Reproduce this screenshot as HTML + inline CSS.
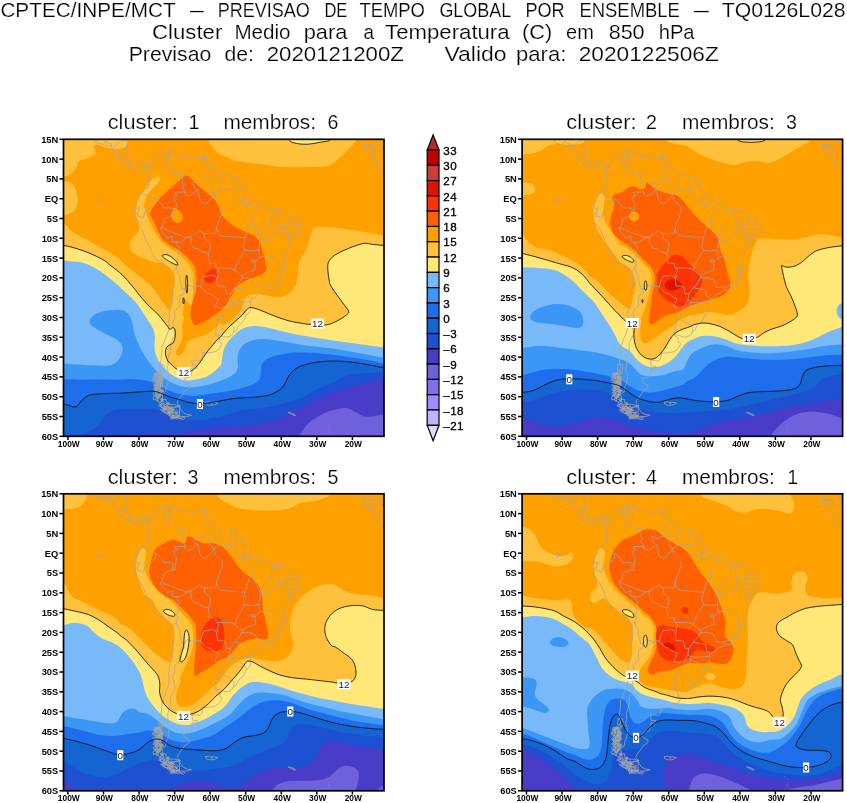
<!DOCTYPE html>
<html><head><meta charset="utf-8"><title>CPTEC ensemble clusters</title>
<style>
html,body{margin:0;padding:0;background:#fff;}
body{width:847px;height:803px;overflow:hidden;position:relative;font-family:"Liberation Sans",sans-serif;}
svg{position:absolute;left:0;top:0;opacity:0.999;will-change:transform;}
text{font-family:"Liberation Sans",sans-serif;}
.ax{font-size:9.3px;font-weight:bold;fill:#000;}
.axx{font-size:8.4px;}
.hd{font-size:20.2px;fill:#000;stroke:#fff;stroke-width:0.2px;}
.pt{font-size:19.6px;}
.cb{font-size:11.6px;fill:#000;stroke:#000;stroke-width:0.32px;letter-spacing:0.5px;}
</style></head><body>
<svg width="847" height="803" viewBox="0 0 847 803">
<rect width="847" height="803" fill="#fff"/>
<text class="hd" x="0.4" y="17.4" textLength="175.2" lengthAdjust="spacingAndGlyphs">CPTEC/INPE/MCT</text>
<text class="hd" x="190.1" y="17.4" textLength="13.8" lengthAdjust="spacingAndGlyphs">–</text>
<text class="hd" x="217.7" y="17.4" textLength="92.2" lengthAdjust="spacingAndGlyphs">PREVISAO</text>
<text class="hd" x="324.4" y="17.4" textLength="22.9" lengthAdjust="spacingAndGlyphs">DE</text>
<text class="hd" x="359.4" y="17.4" textLength="65.5" lengthAdjust="spacingAndGlyphs">TEMPO</text>
<text class="hd" x="439.4" y="17.4" textLength="71.9" lengthAdjust="spacingAndGlyphs">GLOBAL</text>
<text class="hd" x="525.4" y="17.4" textLength="39.2" lengthAdjust="spacingAndGlyphs">POR</text>
<text class="hd" x="579.4" y="17.4" textLength="100.5" lengthAdjust="spacingAndGlyphs">ENSEMBLE</text>
<text class="hd" x="693.7" y="17.4" textLength="15.2" lengthAdjust="spacingAndGlyphs">–</text>
<text class="hd" x="721.7" y="17.4" textLength="123.9" lengthAdjust="spacingAndGlyphs">TQ0126L028</text>
<text class="hd" x="152.1" y="39.4" textLength="70.2" lengthAdjust="spacingAndGlyphs">Cluster</text>
<text class="hd" x="234.4" y="39.4" textLength="56.2" lengthAdjust="spacingAndGlyphs">Medio</text>
<text class="hd" x="303.7" y="39.4" textLength="43.6" lengthAdjust="spacingAndGlyphs">para</text>
<text class="hd" x="363.4" y="39.4" textLength="10.5" lengthAdjust="spacingAndGlyphs">a</text>
<text class="hd" x="385.1" y="39.4" textLength="124.5" lengthAdjust="spacingAndGlyphs">Temperatura</text>
<text class="hd" x="522.1" y="39.4" textLength="30.2" lengthAdjust="spacingAndGlyphs">(C)</text>
<text class="hd" x="566.1" y="39.4" textLength="27.8" lengthAdjust="spacingAndGlyphs">em</text>
<text class="hd" x="608.7" y="39.4" textLength="35.9" lengthAdjust="spacingAndGlyphs">850</text>
<text class="hd" x="658.7" y="39.4" textLength="35.9" lengthAdjust="spacingAndGlyphs">hPa</text>
<text class="hd" x="128.7" y="61.1" textLength="82.6" lengthAdjust="spacingAndGlyphs">Previsao</text>
<text class="hd" x="224.4" y="61.1" textLength="29.5" lengthAdjust="spacingAndGlyphs">de:</text>
<text class="hd" x="266.7" y="61.1" textLength="137.2" lengthAdjust="spacingAndGlyphs">2020121200Z</text>
<text class="hd" x="444.4" y="61.1" textLength="62.2" lengthAdjust="spacingAndGlyphs">Valido</text>
<text class="hd" x="516.1" y="61.1" textLength="50.2" lengthAdjust="spacingAndGlyphs">para:</text>
<text class="hd" x="578.7" y="61.1" textLength="140.2" lengthAdjust="spacingAndGlyphs">2020122506Z</text>
<clipPath id="c1"><rect x="63.5" y="139.3" width="320.5" height="297.0"/></clipPath>
<g clip-path="url(#c1)"><g transform="translate(0.0 0.0)">
<path fill="#483cc8" d="M50 130H400V450H50Z"/>
<path fill="#7060dc" d="M297.3 439.5C298.8 437.2 303.1 429.2 306.3 425.5C309.5 421.8 312.7 419.8 316.3 417.5C320.0 415.1 324.4 413.0 328.4 411.4C332.4 409.9 337.1 408.9 340.4 408.4C343.8 407.9 345.8 407.8 348.5 408.4C351.1 409.1 353.8 411.1 356.5 412.4C359.2 413.8 361.8 415.8 364.5 416.5C367.2 417.1 369.5 416.8 372.5 416.5C375.6 416.1 379.6 415.0 383.0 414.5C386.3 414.0 391.0 413.6 392.6 413.5L410.0 460.0L295.0 460.0Z"/>
<path fill="#1e50d2" d="M126.0 440.0C126.5 439.3 127.2 436.9 129.0 436.0C130.8 435.1 134.3 435.0 137.0 434.6C139.7 434.2 139.2 434.0 145.0 433.8C150.8 433.6 164.5 433.8 172.0 433.5C179.5 433.2 183.7 432.8 190.0 432.0C196.3 431.2 203.3 429.9 210.0 429.0C216.7 428.1 225.0 426.9 230.0 426.5C235.0 426.1 235.0 427.0 240.1 426.5C245.1 426.0 253.5 424.8 260.1 423.5C266.8 422.2 275.2 420.1 280.2 418.5C285.2 416.8 286.2 415.6 290.2 413.5C294.3 411.3 299.3 408.1 304.3 405.4C309.3 402.7 314.3 400.1 320.4 397.4C326.4 394.7 333.7 391.5 340.4 389.4C347.1 387.2 353.4 386.0 360.5 384.4C367.6 382.7 377.3 380.4 383.0 379.3C388.7 378.2 392.7 378.0 394.6 377.7L410.0 378.0L410.0 115.0L40.0 115.0L40.0 460.0L126.0 460.0Z"/>
<path fill="#1464d2" d="M75.0 441.0C75.5 440.0 75.8 436.6 78.0 435.1C80.2 433.6 85.2 433.3 88.1 432.1C90.9 430.9 93.1 429.6 95.1 428.1C97.1 426.6 98.6 424.9 100.1 423.1C101.6 421.3 102.7 418.9 104.2 417.1C105.7 415.4 107.2 413.8 109.2 412.6C111.2 411.4 113.5 410.7 116.2 410.1C118.9 409.5 120.4 409.2 125.2 409.0C130.0 408.8 140.2 408.8 145.0 408.8C149.8 408.8 150.4 408.4 154.3 409.1C158.2 409.8 164.1 411.6 168.4 413.1C172.8 414.6 175.7 417.0 180.4 418.2C185.1 419.4 191.2 420.2 196.5 420.2C201.8 420.2 206.9 419.2 212.5 418.2C218.1 417.2 225.4 415.4 230.0 414.1C234.6 412.8 235.1 411.4 240.1 410.5C245.1 409.6 254.1 409.2 260.1 408.4C266.1 407.5 271.2 406.6 276.2 405.4C281.2 404.2 285.6 402.9 290.3 401.4C295.0 399.9 299.3 398.7 304.3 396.4C309.3 394.1 315.4 389.7 320.4 387.4C325.4 385.1 330.4 384.2 334.4 382.4C338.4 380.6 340.0 378.0 344.4 376.5C348.8 375.0 354.1 374.3 360.5 373.6C366.9 372.9 377.2 372.6 383.0 372.3C388.8 372.0 393.0 372.1 395.0 372.0L410.0 369.0L410.0 115.0L40.0 115.0L40.0 460.0L75.0 460.0Z"/>
<path fill="#1e6eeb" d="M55.0 402.5C56.5 402.8 61.7 403.5 64.0 404.0C66.3 404.5 67.3 405.0 69.0 405.5C70.7 406.0 72.6 407.0 74.0 407.0C75.4 407.0 76.4 406.5 77.6 405.5C78.8 404.5 79.8 402.3 81.1 401.0C82.3 399.7 83.6 398.5 85.1 397.5C86.6 396.5 87.6 395.6 90.1 395.0C92.6 394.4 96.7 394.1 100.0 393.8C103.3 393.5 106.9 393.5 110.2 393.4C113.5 393.3 116.3 393.4 120.0 393.2C123.7 393.0 128.3 392.7 132.5 392.4C136.7 392.1 141.4 391.7 144.9 391.5C148.4 391.3 151.1 391.0 153.6 391.2C156.1 391.4 157.6 392.0 159.9 392.8C162.2 393.6 164.8 395.0 167.3 395.9C169.8 396.8 172.7 397.8 174.8 398.4C176.9 399.0 177.9 399.1 180.0 399.7C182.1 400.3 184.8 401.6 187.5 402.2C190.2 402.8 193.5 403.2 196.2 403.4C198.9 403.6 200.2 403.9 203.7 403.6C207.2 403.3 213.1 402.3 217.4 401.5C221.8 400.7 225.7 399.6 229.8 399.0C234.0 398.4 238.2 398.1 242.3 397.8C246.5 397.5 251.1 397.5 254.7 397.2C258.3 396.9 261.1 396.5 264.0 396.0C266.9 395.5 269.5 395.1 272.2 394.0C274.9 392.9 278.0 391.2 280.2 389.4C282.4 387.6 283.7 385.8 285.2 383.4C286.7 381.0 287.3 377.8 289.2 375.3C291.1 372.8 293.4 370.1 296.3 368.3C299.2 366.5 302.3 365.4 306.3 364.3C310.3 363.2 315.4 362.2 320.4 361.7C325.4 361.1 331.0 360.9 336.4 361.0C341.8 361.1 347.1 361.7 352.5 362.3C357.9 362.9 363.4 363.9 368.5 364.8C373.6 365.7 378.6 366.7 383.0 367.6C387.4 368.5 393.0 369.6 395.0 370.0L410.0 367.0L410.0 115.0L40.0 115.0L40.0 402.0Z"/>
<path fill="#3c96f5" d="M50.0 379.3C52.3 379.3 59.0 379.2 64.0 379.3C69.0 379.4 74.1 379.7 80.1 379.7C86.1 379.7 93.4 379.5 100.1 379.5C106.8 379.5 115.0 379.8 120.0 379.7C125.0 379.6 126.7 379.1 130.0 379.1C133.3 379.1 136.8 379.4 139.9 379.7C143.0 380.0 145.9 380.3 148.6 380.9C151.3 381.5 153.8 382.3 156.1 383.4C158.4 384.4 160.0 385.9 162.3 387.2C164.6 388.4 167.3 389.9 169.8 390.9C172.3 391.9 174.6 392.7 177.3 393.4C180.0 394.1 183.1 394.9 186.0 395.3C188.9 395.7 191.9 395.9 194.7 395.9C197.5 395.8 200.3 395.4 203.0 395.0C205.7 394.6 206.6 394.1 211.1 393.4C215.6 392.7 224.2 391.9 229.8 390.9C235.4 389.9 240.7 388.4 244.8 387.2C249.0 386.0 252.2 384.9 254.7 383.5C257.2 382.1 258.7 380.6 259.7 378.5C260.7 376.4 260.6 373.3 260.9 371.0C261.2 368.7 260.8 366.7 261.6 364.8C262.4 362.9 264.1 361.2 265.9 359.8C267.7 358.4 269.8 357.5 272.2 356.7C274.6 355.9 276.3 355.5 280.0 354.8C283.7 354.1 289.2 352.9 294.3 352.6C299.4 352.3 304.3 352.5 310.3 352.8C316.3 353.1 323.7 353.9 330.4 354.6C337.1 355.4 343.8 356.3 350.5 357.3C357.2 358.3 365.1 359.6 370.5 360.6C375.9 361.7 378.9 362.7 383.0 363.6C387.1 364.5 393.0 365.6 395.0 366.0L410.0 363.0L410.0 115.0L40.0 115.0L40.0 379.0Z"/>
<path fill="#78b9fa" d="M50.0 363.7C52.3 363.7 57.3 363.4 64.0 363.7C70.7 364.0 83.1 365.0 90.1 365.3C97.1 365.6 102.0 366.1 106.2 365.7C110.4 365.3 112.7 364.6 115.2 362.9C117.7 361.2 120.0 358.1 121.2 355.3C122.4 352.5 123.0 348.9 122.2 346.2C121.4 343.5 119.2 341.4 116.2 339.2C113.2 337.0 108.2 335.4 104.2 333.2C100.2 331.0 94.5 328.1 92.1 326.1C89.7 324.1 89.4 322.9 89.7 321.1C90.0 319.3 91.7 316.8 94.1 315.1C96.5 313.4 100.7 312.0 104.2 311.1C107.7 310.2 112.4 310.2 115.0 310.0C117.6 309.8 118.3 309.8 120.0 310.0C121.7 310.2 123.3 310.2 125.0 311.2C126.7 312.2 128.8 314.1 130.0 316.2C131.2 318.3 131.9 321.2 132.5 323.7C133.1 326.2 133.1 328.6 133.7 331.1C134.3 333.6 135.2 335.9 136.2 338.6C137.2 341.3 138.4 344.4 139.9 347.3C141.4 350.2 143.0 353.1 144.9 356.0C146.8 358.9 149.0 362.1 151.1 364.8C153.2 367.5 155.1 369.9 157.4 372.2C159.7 374.5 162.1 376.6 164.8 378.5C167.5 380.4 170.6 382.1 173.5 383.4C176.4 384.7 179.2 385.9 182.3 386.5C185.4 387.1 188.9 387.3 192.2 387.2C195.5 387.1 198.9 386.5 202.2 385.9C205.5 385.3 209.2 384.2 212.2 383.4C215.2 382.6 217.5 381.8 220.0 380.9C222.5 380.0 224.8 379.1 227.3 377.9C229.8 376.7 233.0 375.3 234.8 373.5C236.6 371.7 237.5 369.6 237.9 367.3C238.3 365.0 237.4 362.3 237.5 359.8C237.6 357.3 237.7 354.6 238.5 352.3C239.3 350.0 240.6 347.9 242.3 346.1C244.0 344.4 246.0 342.9 248.5 341.8C251.0 340.7 254.1 339.7 257.2 339.3C260.3 338.9 263.4 339.0 267.2 339.3C271.0 339.6 273.8 340.1 280.0 341.1C286.2 342.1 296.9 344.1 304.3 345.2C311.7 346.3 317.7 346.7 324.4 347.6C331.1 348.5 337.7 349.3 344.4 350.4C351.1 351.5 358.1 352.8 364.5 354.0C370.9 355.2 377.9 356.8 383.0 357.8C388.1 358.8 393.0 359.6 395.0 360.0L410.0 357.0L410.0 115.0L40.0 115.0L40.0 363.0Z"/>
<path fill="#ffe878" d="M50.0 260.5C52.3 260.5 60.3 260.3 64.0 260.5C67.7 260.7 69.0 261.2 72.0 261.5C75.0 261.8 78.4 261.5 82.1 262.5C85.8 263.5 90.1 265.3 94.1 267.5C98.1 269.7 102.2 272.5 106.2 275.5C110.2 278.5 114.9 282.6 118.2 285.5C121.5 288.4 123.6 290.6 126.2 293.0C128.8 295.4 131.6 297.8 133.7 300.0C135.8 302.2 137.0 303.9 138.7 306.2C140.4 308.5 142.0 311.2 143.7 313.7C145.3 316.2 147.0 318.7 148.6 321.2C150.2 323.7 151.9 326.1 153.0 328.6C154.1 331.1 154.6 333.6 154.9 336.1C155.2 338.6 154.6 341.1 154.6 343.6C154.6 346.1 154.4 348.6 154.9 351.1C155.4 353.6 156.2 356.0 157.4 358.5C158.6 361.0 160.4 363.7 162.3 366.0C164.2 368.3 166.3 370.3 168.6 372.2C170.9 374.1 173.3 375.8 176.0 377.2C178.7 378.6 181.7 379.9 184.8 380.3C187.9 380.7 191.4 380.2 194.7 379.7C198.0 379.2 201.8 378.3 204.7 377.2C207.6 376.1 210.0 374.4 212.2 372.9C214.4 371.4 216.5 369.4 218.0 368.0C219.5 366.6 220.4 366.6 221.1 364.8C221.8 363.0 221.8 360.0 222.3 357.3C222.8 354.6 223.1 351.3 224.2 348.6C225.2 345.9 226.8 343.5 228.6 341.1C230.4 338.7 232.5 336.4 234.8 334.3C237.1 332.2 239.4 330.1 242.3 328.7C245.2 327.3 248.9 326.5 252.2 326.2C255.5 325.9 258.9 326.4 262.2 326.8C265.5 327.2 268.2 327.8 272.2 328.7C276.2 329.6 281.5 331.1 286.2 332.2C290.9 333.3 294.6 334.1 300.3 335.2C306.0 336.2 313.7 337.4 320.4 338.4C327.0 339.4 333.7 340.4 340.4 341.4C347.1 342.4 353.4 343.2 360.5 344.2C367.6 345.2 377.3 346.6 383.0 347.4C388.7 348.2 392.7 348.8 394.6 349.0L410.0 348.0L410.0 115.0L40.0 115.0L40.0 260.0Z"/>
<path fill="#ffc03c" d="M52.0 243.4C54.0 243.7 60.0 244.6 64.0 245.4C68.0 246.2 71.7 247.1 76.1 248.4C80.4 249.7 85.4 251.4 90.1 253.4C94.8 255.4 100.9 258.5 104.2 260.4C107.4 262.4 106.8 262.5 109.8 264.9C112.8 267.3 118.5 271.3 122.2 274.8C125.9 278.3 128.9 282.1 132.2 286.0C135.5 289.9 139.3 295.1 142.2 298.5C145.1 301.9 147.1 304.1 149.6 306.6C152.1 309.1 155.1 311.3 157.4 313.7C159.7 316.1 161.8 319.0 163.6 321.2C165.3 323.4 167.2 325.9 167.9 326.8L167.9 326.8C168.2 327.2 169.0 329.2 169.8 329.3C170.6 329.4 172.1 327.6 172.9 327.6C173.7 327.6 174.4 328.3 174.8 329.3C175.2 330.3 175.4 332.1 175.4 333.6C175.4 335.2 175.2 337.0 174.8 338.6C174.4 340.2 173.7 342.0 172.9 343.0C172.1 344.0 170.8 344.1 169.8 344.8C168.8 345.5 167.4 346.2 166.7 347.3C166.0 348.4 165.7 349.7 165.5 351.1C165.3 352.6 165.4 354.4 165.8 356.0C166.2 357.6 166.8 359.4 167.9 361.0C169.0 362.6 170.8 364.0 172.3 365.4C173.8 366.8 174.8 368.1 176.7 369.1C178.6 370.1 181.4 371.2 183.8 371.5C186.2 371.8 189.0 371.7 191.0 371.0C193.0 370.3 194.3 368.9 196.0 367.2C197.7 365.5 199.2 363.3 200.9 361.0C202.6 358.7 204.2 355.8 205.9 353.5C207.6 351.2 209.2 349.4 210.9 347.3C212.6 345.2 214.4 342.8 215.9 341.1C217.4 339.5 218.7 338.7 220.0 337.4C221.3 336.1 222.0 334.9 223.6 333.0C225.2 331.2 227.7 328.3 229.8 326.2C231.9 324.1 234.0 322.5 236.0 320.6C238.1 318.7 240.7 316.5 242.3 315.0C243.8 313.4 244.5 312.3 245.4 311.2C246.3 310.2 247.3 309.1 247.7 308.7L247.7 308.7C248.3 308.5 249.0 307.2 251.1 307.5C253.2 307.7 256.6 308.8 260.1 310.1C263.7 311.4 267.8 313.4 272.2 315.1C276.5 316.8 281.6 318.8 286.2 320.1C290.9 321.5 296.1 322.4 300.3 323.1C304.5 323.9 307.3 324.2 311.3 324.5C315.3 324.9 320.9 325.4 324.4 325.1C327.9 324.9 329.7 324.1 332.4 323.1C335.1 322.1 337.9 320.6 340.4 319.1C342.9 317.6 346.1 315.4 347.4 314.1C348.8 312.8 349.0 312.6 348.5 311.1C348.0 309.6 346.1 307.4 344.4 305.1C342.8 302.7 340.3 299.6 338.4 297.0C336.6 294.5 334.7 292.0 333.4 290.0C332.1 288.0 331.1 286.4 330.4 285.0C329.7 283.6 329.8 283.8 329.4 281.5C329.0 279.3 328.1 274.7 328.0 271.5C327.8 268.3 327.3 265.1 328.4 262.4C329.5 259.8 331.1 257.8 334.4 255.4C337.7 253.1 343.6 250.4 348.5 248.4C353.3 246.4 359.5 244.1 363.5 243.4C367.5 242.7 369.3 244.1 372.5 244.4C375.8 244.7 379.3 245.0 383.0 245.4C386.7 245.8 392.7 246.4 394.6 246.6L410 246L410 115L40 115Z"/>
<path fill="#ffa000" d="M52.0 223.3C54.0 223.5 60.7 223.0 64.0 224.3C67.4 225.7 69.4 229.3 72.0 231.3C74.7 233.3 77.1 234.7 80.1 236.4C83.1 238.0 86.8 239.5 90.1 241.4C93.5 243.2 96.8 245.6 100.1 247.4C103.5 249.2 106.9 250.3 110.2 252.4C113.5 254.5 117.5 257.8 120.0 259.8C122.5 261.9 122.9 262.9 125.0 264.8C127.1 266.7 129.5 268.8 132.5 271.0C135.4 273.3 139.3 276.0 142.4 278.5C145.5 281.0 148.6 283.3 151.1 286.0C153.6 288.7 155.3 291.8 157.4 294.7C159.4 297.6 161.8 301.1 163.6 303.4C165.4 305.7 167.0 307.6 167.9 308.6C168.9 309.7 167.9 308.9 169.2 309.5C170.5 310.1 173.6 310.9 176.0 312.0C178.4 313.1 182.4 314.1 183.5 316.2C184.6 318.3 182.4 322.2 182.3 324.9C182.2 327.6 182.9 330.1 182.9 332.4C182.9 334.7 182.8 336.5 182.3 338.6C181.8 340.7 180.7 342.9 179.8 344.8C178.9 346.7 177.3 348.4 176.7 349.8C176.1 351.2 175.7 352.6 176.0 353.5C176.3 354.4 177.4 355.4 178.5 355.4C179.6 355.4 181.2 354.4 182.3 353.5C183.4 352.6 184.2 351.2 184.8 349.8C185.4 348.4 185.4 346.2 186.0 344.8C186.6 343.4 187.1 342.1 188.5 341.1C189.9 340.1 192.4 339.4 194.7 338.6C197.0 337.8 199.7 337.1 202.2 336.1C204.7 335.1 207.4 333.8 209.7 332.4C212.0 330.9 214.2 328.8 215.9 327.4C217.6 325.9 218.7 324.1 220.0 323.7C221.3 323.3 222.0 325.4 223.6 324.9C225.2 324.5 227.7 322.7 229.8 321.2C231.9 319.8 234.2 318.1 236.0 316.2C237.9 314.4 239.3 313.2 241.0 310.0C242.7 306.8 243.6 299.7 246.1 297.0C248.6 294.4 252.4 294.2 256.1 294.0C259.8 293.9 264.2 295.5 268.2 296.0C272.2 296.5 276.9 297.4 280.2 297.0C283.6 296.7 286.2 295.2 288.2 294.0C290.2 292.9 291.1 291.5 292.3 290.0C293.4 288.5 294.8 285.4 295.3 285.0C295.8 284.6 294.9 288.5 295.3 287.5C295.6 286.6 296.8 282.9 297.3 279.5C297.8 276.2 297.8 270.8 298.3 267.5C298.8 264.1 299.3 261.8 300.3 259.4C301.3 257.1 303.0 256.1 304.3 253.4C305.6 250.7 307.1 246.7 308.3 243.4C309.5 240.0 310.2 236.0 311.3 233.3C312.5 230.7 312.5 228.4 315.3 227.3C318.2 226.3 324.2 226.8 328.4 226.9C332.6 227.1 335.1 227.6 340.4 228.3C345.8 229.1 353.4 230.2 360.5 231.3C367.6 232.5 377.3 234.4 383.0 235.4C388.7 236.3 392.7 236.7 394.6 237.0L410.0 236.0L410.0 115.0L40.0 115.0L40.0 223.0Z"/>
<path fill="#ffc03c" d="M156.3 176.8C154.8 177.2 153.1 178.3 151.3 180.2C149.5 182.1 147.1 185.7 145.3 188.2C143.5 190.7 141.7 192.7 140.3 195.2C138.9 197.7 137.6 199.8 136.9 203.2C136.2 206.5 135.6 212.1 135.9 215.3C136.2 218.5 138.2 219.8 138.7 222.5C139.2 225.2 139.5 228.9 138.7 231.2C137.9 233.5 135.1 234.3 133.7 236.2C132.2 238.1 130.5 240.1 130.0 242.4C129.5 244.7 129.6 247.8 130.6 249.9C131.6 252.0 133.8 253.4 136.2 254.9C138.6 256.4 142.2 257.5 144.9 258.6C147.6 259.7 149.7 261.0 152.4 261.7C155.1 262.4 158.4 262.0 161.1 262.9C163.8 263.8 166.5 265.5 168.6 267.3C170.7 269.1 172.5 271.2 173.5 273.5C174.5 275.8 174.8 278.3 174.8 281.0C174.8 283.7 173.9 286.6 173.5 289.7C173.1 292.8 172.9 296.6 172.3 299.7C171.7 302.8 170.3 305.8 169.8 308.4C169.3 310.9 169.0 312.4 169.2 315.0C169.4 317.6 169.7 322.2 171.0 324.0C172.3 325.8 175.2 326.5 177.0 326.0C178.8 325.5 180.4 324.1 181.5 321.0C182.6 317.9 183.0 311.0 183.6 307.5C184.2 304.0 183.7 300.5 185.0 300.0C186.3 299.5 190.3 305.6 191.6 304.7C192.9 303.8 192.6 298.0 192.9 294.7C193.2 291.4 193.4 288.0 193.5 284.7C193.6 281.4 193.9 277.5 193.5 274.8C193.1 272.1 192.2 270.8 191.0 268.5C189.8 266.2 188.1 263.6 186.0 261.1C183.9 258.6 181.2 255.8 178.5 253.6C175.8 251.4 172.7 250.1 169.8 248.0C166.9 245.9 163.4 243.6 161.1 241.2C158.8 238.8 157.8 236.4 156.1 233.7C154.4 231.0 152.6 228.1 151.1 225.0C149.6 221.9 147.9 218.3 146.8 215.0C145.7 211.7 144.3 208.4 144.3 205.3C144.3 202.2 145.5 198.8 146.7 196.2C147.9 193.6 149.3 191.9 151.3 189.6C153.3 187.3 157.3 184.2 158.8 182.2C160.3 180.2 160.6 178.7 160.2 177.8C159.8 176.9 157.8 176.4 156.3 176.8Z"/>
<path fill="#ffc03c" d="M54.0 131.0C66.5 123.3 116.9 129.5 129.2 131.0C141.6 132.5 128.4 137.4 127.8 140.0C127.3 142.6 127.4 145.1 125.8 146.6C124.2 148.1 121.5 148.9 118.2 149.0C114.9 149.2 109.7 148.2 106.2 147.4C102.7 146.7 99.2 144.7 97.1 144.6C95.1 144.6 94.1 145.5 93.7 147.0C93.4 148.6 96.4 152.1 95.1 154.1C93.9 156.0 88.8 157.5 86.1 158.7C83.4 159.9 80.7 159.5 79.1 161.1C77.4 162.7 77.4 166.0 76.1 168.1C74.7 170.2 73.0 172.3 71.0 173.7C69.0 175.1 66.9 176.0 64.0 176.5C61.2 177.1 55.7 184.7 54.0 177.1C52.3 169.6 41.4 138.7 54.0 131.0Z"/>
<path fill="#ffc03c" d="M54.0 180.2C55.7 174.3 61.2 180.8 64.0 181.2C66.9 181.6 69.1 181.2 71.0 182.6C73.0 183.9 74.6 186.4 75.7 189.2C76.8 192.0 77.6 196.0 77.7 199.2C77.7 202.4 77.3 205.9 76.1 208.3C74.9 210.6 72.4 212.1 70.4 213.3C68.4 214.4 66.8 214.8 64.0 215.3C61.3 215.8 55.7 222.1 54.0 216.3C52.3 210.4 52.3 186.0 54.0 180.2Z"/>
<path fill="#ffc03c" d="M207.5 131.0C207.6 132.5 207.3 137.3 208.1 140.0C209.0 142.7 210.8 144.8 212.5 147.0C214.3 149.3 215.6 151.6 218.6 153.5C221.5 155.3 227.1 157.0 230.0 158.3C232.9 159.6 231.0 160.1 236.1 161.1C241.1 162.1 252.1 163.1 260.1 164.1C268.2 165.1 275.9 166.7 284.2 167.1C292.6 167.5 303.0 166.9 310.3 166.7C317.7 166.5 323.7 167.4 328.4 166.1C333.1 164.8 335.1 161.9 338.4 159.1C341.8 156.2 345.4 152.2 348.5 149.0C351.5 145.9 354.8 143.0 356.5 140.0C358.2 137.0 358.2 132.5 358.5 131.0Z"/>
<path fill="#ffe878" d="M286.2 133.0C286.7 134.2 287.6 138.7 289.2 140.4C290.9 142.2 293.1 142.8 296.3 143.4C299.4 144.1 304.3 144.4 308.3 144.2C312.3 144.0 316.7 142.9 320.4 142.2C324.0 141.5 328.4 141.6 330.4 140.0C332.4 138.5 332.1 134.2 332.4 133.0Z"/>
<path fill="#ff6000" d="M185.4 175.7C183.3 176.5 179.9 180.1 177.4 182.2C174.9 184.2 173.6 185.2 170.4 188.2C167.2 191.2 161.5 196.6 158.3 200.2C155.2 203.9 152.7 207.4 151.3 210.3C149.9 213.1 150.1 216.5 149.9 217.3C149.8 218.1 149.9 214.3 150.5 215.0C151.1 215.7 152.5 218.7 153.6 221.2C154.8 223.7 155.9 227.0 157.4 229.9C158.8 232.8 160.3 236.2 162.3 238.7C164.4 241.2 167.1 243.0 169.8 244.9C172.5 246.8 175.6 247.8 178.5 249.9C181.4 251.9 184.8 254.9 187.2 257.3C189.7 259.8 192.0 262.5 193.5 264.8C194.9 267.1 195.5 268.5 196.0 271.0C196.4 273.5 196.2 276.6 196.2 279.8C196.3 282.9 196.6 286.8 196.2 289.7C195.8 292.6 194.6 295.0 194.0 297.0C193.4 299.0 193.0 300.3 192.6 302.0C192.2 303.7 191.7 305.1 191.3 307.0C190.9 308.9 190.4 311.6 190.4 313.7C190.4 315.8 190.9 318.0 191.6 319.9C192.3 321.8 193.3 324.3 194.7 324.9C196.0 325.5 197.6 324.5 199.7 323.7C201.8 322.9 204.7 321.4 207.2 319.9C209.7 318.4 212.5 316.3 214.6 314.9C216.7 313.4 218.1 312.8 220.0 311.2C221.9 309.6 224.2 307.4 226.0 305.1C227.9 302.7 229.5 299.6 231.0 297.0C232.5 294.5 235.2 290.4 235.1 290.0C234.9 289.7 229.9 295.4 230.0 295.0C230.2 294.6 233.7 289.8 236.1 287.5C238.4 285.3 241.1 283.2 244.1 281.5C247.1 279.8 250.9 278.8 254.1 277.5C257.3 276.2 261.1 274.9 263.2 273.5C265.2 272.1 266.2 270.7 266.6 269.1C266.9 267.4 265.5 265.2 265.2 263.5C264.8 261.7 265.2 260.7 264.7 258.4C264.2 256.1 263.0 252.4 262.2 249.7C261.4 247.0 260.7 244.3 259.7 242.2C258.7 240.1 257.6 238.6 256.0 237.2C254.3 235.8 252.1 234.6 249.8 233.5C247.5 232.4 245.0 231.7 242.3 230.4C239.6 229.2 236.3 227.8 233.6 226.0C230.9 224.2 228.2 221.9 226.1 219.8C224.0 217.7 222.3 215.9 221.1 213.6C219.8 211.3 220.0 208.8 218.6 206.1C217.2 203.4 214.7 199.9 212.4 197.4C210.1 194.9 207.4 193.3 204.9 191.2C202.4 189.1 200.0 187.2 197.5 184.9C195.0 182.6 192.0 179.0 190.0 177.5C188.0 176.0 187.5 175.0 185.4 175.7Z"/>
<path fill="#ffa000" d="M174.8 207.7C175.8 207.5 177.1 209.0 178.4 210.3C179.8 211.5 182.2 213.6 182.8 215.3C183.5 217.0 183.2 219.1 182.4 220.3C181.7 221.5 179.9 222.6 178.4 222.7C176.9 222.8 174.6 222.0 173.4 220.9C172.2 219.8 171.2 217.9 171.0 216.3C170.8 214.7 171.8 212.7 172.4 211.3C173.0 209.8 173.8 207.8 174.8 207.7Z"/>
<path fill="#ff3200" d="M204.1 277.3C204.3 275.6 205.8 273.7 207.2 272.3C208.5 270.9 210.7 269.1 212.2 268.8C213.6 268.5 215.1 269.2 215.9 270.4C216.7 271.6 217.3 274.3 217.1 276.0C216.9 277.8 215.9 279.8 214.6 281.0C213.4 282.2 211.1 283.3 209.7 283.5C208.2 283.7 206.9 283.3 205.9 282.2C205.0 281.2 203.9 278.9 204.1 277.3Z"/>
<path fill="#ffe878" d="M162.3 255.5C162.7 254.9 164.6 254.4 166.1 254.6C167.5 254.8 169.5 255.7 171.1 256.7C172.6 257.7 174.3 259.2 175.4 260.5C176.6 261.7 177.8 263.5 177.9 264.2C178.0 264.9 177.4 265.2 176.0 264.8C174.7 264.4 171.8 262.8 169.8 261.7C167.8 260.6 165.5 259.0 164.2 258.0C163.0 256.9 162.0 256.0 162.3 255.5Z"/>
<path fill="#ffe878" d="M186.6 275.1C186.9 275.1 187.3 277.7 187.5 279.8C187.7 281.8 187.7 285.0 187.6 287.2C187.5 289.5 187.2 293.0 187.0 293.2C186.7 293.4 186.3 290.7 186.1 288.5C185.9 286.2 185.8 282.0 185.9 279.8C186.0 277.5 186.4 275.1 186.6 275.1Z"/>
</g><g fill="none" stroke="#a6a6a6" stroke-width="0.75" stroke-linejoin="round" stroke-linecap="round"><path d="M148.2 164.2L149.9 165.0L150.3 167.4L152.1 163.5L154.6 161.1L154.9 156.7L157.4 154.7L159.5 154.0L162.7 154.0L166.3 151.6L168.8 149.6L170.6 150.8L169.9 152.0L167.7 152.8L168.8 155.5L168.4 156.7L167.4 159.9L168.4 162.7L170.6 161.9L170.9 159.5L169.5 156.3L169.5 155.3L173.8 153.6L173.4 151.6L174.5 150.4L175.2 152.4L175.5 153.2L180.2 154.3L180.9 156.7L185.1 156.7L188.3 156.7L191.9 158.7L195.1 157.5L199.4 156.3L203.3 156.3L200.8 158.3L202.9 159.5L206.5 161.5L207.2 164.6L210.0 165.0L213.2 167.0L215.4 169.8L215.7 171.8L220.0 174.9L224.6 175.3L227.5 174.9L231.4 175.7L234.9 176.9L237.4 179.3L239.9 181.3L241.7 183.3L243.1 189.6L245.6 191.6L246.0 194.7L244.2 197.9L242.0 198.7L241.0 201.1L242.8 202.3L242.4 204.2L245.6 205.8L248.4 204.6L250.9 204.6L251.6 201.9L253.1 201.1L255.2 201.1L259.8 202.7L263.7 205.0L264.8 207.8L265.9 209.8L267.3 208.6L269.1 208.2L274.0 209.8L276.5 210.2L281.2 210.0L284.7 212.2L286.5 213.4L290.8 217.3L293.6 218.9L297.5 219.3L298.2 221.7L299.3 226.8L299.5 230.4L297.9 235.1L296.5 237.1L294.0 240.3L291.8 242.3L290.1 244.6L288.3 248.6L286.5 250.2L284.7 252.2L284.7 257.3L285.1 261.3L284.4 266.0L284.0 269.6L282.2 271.6L281.9 276.3L280.1 279.1L278.0 283.0L277.6 285.8L274.4 288.2L274.0 289.8L269.8 289.8L265.9 289.8L264.4 291.2L262.0 292.9L258.8 293.7L256.3 296.1L253.1 298.5L250.9 300.1L250.6 302.5L250.6 305.6L250.9 308.0L250.2 311.6L248.1 313.5L245.6 316.3L244.5 319.5L242.0 322.6L238.1 326.2L236.4 330.2L233.5 332.4L232.1 334.9L228.2 337.1L223.6 336.9L220.4 335.1L217.9 335.1L215.7 333.3L215.4 335.3L218.9 337.3L220.0 340.5L219.6 342.1L221.8 343.2L221.8 344.8L218.9 349.2L215.4 351.6L210.0 352.7L204.7 353.1L201.9 352.3L202.6 355.1L201.9 359.1L200.1 361.1L195.8 360.3L191.9 360.3L192.3 363.0L192.3 365.4L194.7 366.2L197.2 366.2L197.2 368.2L194.7 368.6L192.3 368.2L192.3 370.2L191.2 374.9L190.1 376.9L185.5 377.7L183.4 380.9L185.1 383.2L189.4 385.6L189.1 388.4L184.4 391.2L183.0 393.9L180.2 397.5L178.0 400.3L177.3 403.0L180.2 406.0L176.3 406.6L171.6 407.8L171.3 411.4L167.7 411.7L166.3 409.8L162.7 409.4L162.0 407.0L158.5 405.8L160.3 402.6L156.7 400.7L158.5 397.5L154.9 394.7L158.1 391.6L154.9 388.8L157.8 387.2L154.6 384.0L158.5 380.9L161.7 379.3L159.5 376.9L162.7 373.7L163.8 370.2L164.5 366.2L163.5 364.2L160.6 364.2L161.3 357.1L162.0 351.2L161.7 346.0L163.5 344.0L164.9 339.3L168.1 332.2L168.8 329.4L169.1 325.0L168.4 318.7L169.5 317.1L169.1 313.1L171.3 306.0L172.3 302.8L172.7 299.3L173.1 292.2L172.3 290.2L173.8 286.2L173.9 278.7L173.4 272.0L169.9 268.4L164.9 264.8L160.3 262.1L156.0 259.3L152.4 254.9L151.7 253.7L152.4 251.8L149.2 246.6L147.1 242.3L145.3 238.3L143.9 234.7L142.5 231.2L139.3 226.0L135.7 222.5L134.7 219.3L134.3 217.3L135.7 214.1L137.9 212.2L139.3 208.6L139.3 207.4L137.9 209.4L135.7 207.8L136.4 202.7L138.6 198.7L138.9 195.5L142.8 192.4L144.6 188.4L147.8 188.0L149.6 183.3L147.8 182.1L148.5 176.9L147.8 172.2L146.4 170.2L148.2 164.2M91.6 136.9L95.5 141.3L98.4 143.7L101.2 143.7L104.1 145.2L108.7 146.4L111.2 146.0L111.9 147.2L111.5 147.6L115.1 150.8L117.9 154.3L118.7 155.5L118.3 158.7L120.8 160.7L121.9 159.5L122.6 161.1L125.8 163.1L125.8 165.4L127.5 165.4L128.6 166.2L131.1 165.8L132.9 167.0L135.4 168.6L135.7 170.2L137.5 169.8L138.9 169.0L137.5 166.2L139.6 164.6L140.7 163.3L144.3 164.6L145.3 165.8L144.6 167.0L146.4 170.2M127.9 137.3L127.7 139.3L126.8 142.1L127.5 143.3L126.5 147.2L125.8 151.2L125.9 155.1L128.3 159.1L131.1 162.3L132.5 163.1L134.7 163.9L136.1 163.5L138.9 161.9L140.7 160.7L142.8 161.5L146.0 162.3L148.2 164.2M362.9 137.3L361.2 140.5L363.7 143.3L363.7 145.6L363.8 149.6L366.5 151.6L368.3 154.0L370.1 155.1L371.1 157.1L374.7 161.1L376.5 165.0L377.5 167.8L378.9 169.4L382.5 171.4L385.0 173.8M95.5 141.3L95.9 138.9L97.3 136.9M103.0 144.2L104.8 142.5L105.7 141.7L106.2 138.5M105.7 141.7L108.7 143.5L111.2 143.7L111.5 145.6M113.0 147.2L115.1 146.0L117.6 143.3L121.1 140.9L123.3 140.5L127.7 139.3M118.7 154.7L121.5 155.3L124.7 155.9L125.9 155.5M128.6 166.8L128.8 163.9L128.6 161.1L129.9 160.9M146.4 170.2L148.2 167.8L148.9 167.0L148.2 164.2M169.8 151.8L167.0 154.7L164.2 157.5L163.8 159.9L162.4 162.3L164.5 162.7L165.6 165.4L165.9 169.4L167.4 171.0L172.0 170.6L176.6 174.5L183.4 174.1L182.3 177.7L182.3 182.1L184.1 185.2L181.9 187.6L184.4 189.6L185.5 193.9M185.5 193.9L184.8 192.0L181.6 192.0L175.2 192.0L175.2 194.3L177.3 194.7L176.6 195.9L174.5 196.3L174.3 199.5L176.6 203.1L174.7 215.3M174.7 215.3L172.0 213.7L174.3 209.4L169.5 207.8L164.2 208.2L161.3 203.8L157.4 199.5L155.6 199.1M155.6 199.1L152.1 197.1L148.2 197.1L146.0 195.1L143.2 193.2M155.6 199.1L156.0 202.5L154.6 205.0L151.0 209.0L146.7 210.6L144.6 212.2L143.5 216.9L142.5 218.5L140.3 216.5L137.5 216.1L137.9 212.2M174.7 215.3L171.6 215.3L164.2 218.9L163.5 222.5L163.1 224.8L161.3 227.6L160.3 228.4L163.8 234.3L166.3 236.3L166.7 238.3L172.3 236.3L172.3 242.3L175.9 242.1M175.9 242.1L179.1 248.2L178.0 252.6L178.0 257.3L176.6 260.5L177.3 262.9L178.4 263.6L175.9 267.2L176.3 268.0M176.3 268.0L173.1 271.4M176.3 268.0L178.0 273.5L180.2 275.5L179.5 278.3L180.9 283.0L181.9 289.0L184.4 289.0M184.4 289.0L187.6 285.0L191.5 286.2L194.0 286.6L194.7 289.0L196.2 285.8L200.6 286.8M200.6 286.8L201.9 281.9L203.8 276.5L213.2 275.1L216.4 277.1L216.6 278.5M175.9 242.1L179.1 242.3L180.5 242.3L186.6 237.9L190.8 237.1L191.2 241.9L191.2 244.2L194.4 248.2L199.0 249.0L200.1 250.2L203.6 252.2L208.3 253.3L209.0 258.5L209.3 263.2L215.7 263.2L216.1 267.2L217.9 268.4L218.9 270.8L217.2 273.9L217.9 277.1L216.6 278.5M216.6 278.5L217.5 286.2L222.8 286.2L225.0 287.0L226.4 293.7L230.3 294.1L229.2 300.1M200.6 286.8L206.5 292.9L210.0 293.7L214.3 296.9L218.6 298.9L215.0 306.8L220.7 307.6L224.3 306.8L225.7 306.4L229.2 300.1M229.2 300.1L232.4 302.5L232.1 306.0L227.8 309.6L225.0 311.2L221.4 315.9L218.6 318.3M218.6 318.3L224.3 320.7L225.7 321.1L229.2 323.4L232.1 325.4L234.2 328.2L233.5 332.4M218.6 318.3L216.4 327.4L215.7 333.3M184.4 289.0L184.1 293.7L180.2 295.7L179.5 303.6L180.5 305.6L177.7 308.0L174.8 311.2L174.8 317.9L172.7 321.9L174.5 330.6L175.2 334.1L172.7 338.5L170.6 343.2L170.6 349.2L168.8 355.5L167.7 359.9L168.1 365.0L167.0 369.0L168.4 372.9L168.8 378.9L167.7 384.0L166.3 386.4L165.6 391.6L162.0 393.9L163.1 399.5L166.3 399.5L165.9 403.0L167.7 404.6L174.5 404.6L180.2 406.0M179.5 407.2L179.5 416.1M210.0 165.0L207.6 169.0L206.1 172.2L205.1 175.3L207.6 178.1M207.6 178.1L205.1 181.3L200.4 182.9L199.7 184.4L195.1 182.5L193.0 181.7L195.1 188.8L197.9 190.0L195.8 191.2L190.5 195.5L187.6 195.7L185.5 193.9M207.6 178.1L210.0 178.9L210.1 180.9L211.8 183.3L210.2 188.4L211.1 191.4L214.3 193.9L219.6 191.0L222.5 191.2M222.5 191.2L219.6 185.6L217.2 182.9L219.6 177.7L220.2 175.1M222.5 191.2L224.3 191.4L224.3 189.6L229.2 189.6M229.2 189.6L230.7 187.2L231.4 184.4L229.8 178.9L231.4 175.9M229.2 189.6L232.4 189.6L235.3 190.0L236.7 188.4L239.7 182.5M214.0 193.9L215.4 200.3L221.8 206.6L222.8 210.6L216.4 227.6M216.4 227.6L218.6 233.5L221.4 235.9L244.9 237.7M216.4 227.6L215.7 233.2L204.4 233.5M204.4 233.5L199.7 230.4L195.8 233.2L192.3 235.9L185.9 237.5M185.9 237.5L161.0 227.6M204.4 233.5L204.7 238.3L210.0 242.7L210.4 247.4L208.6 253.0M197.9 190.0L200.1 200.7L204.7 204.2L209.0 201.1L214.0 193.9M229.2 189.6L235.3 196.7L238.8 203.5M259.8 203.1L254.8 212.6L251.3 219.3M251.3 219.3L248.4 226.4L244.9 237.7M244.9 237.7L243.1 246.2L244.9 250.2M251.3 219.3L254.8 225.2L254.8 228.4L257.7 232.0L260.5 239.5M274.8 209.8L271.2 216.5L270.8 225.2L264.8 228.0L260.2 235.5L260.5 239.5M276.5 210.2L276.9 216.5L279.0 228.0M290.9 217.7L288.3 221.7L286.5 224.0L285.8 228.8L279.0 228.0M286.5 224.0L291.1 222.9L293.3 224.4L298.9 224.4M285.8 228.8L291.1 229.6L295.4 229.6L299.3 228.4M279.0 228.0L276.5 233.2L279.4 235.9L287.6 234.3L288.6 236.7L294.0 240.3M287.6 234.3L293.6 235.1L298.2 233.9M288.6 236.7L287.6 241.1L289.0 243.8L290.4 244.2M276.5 233.2L270.5 235.9L267.6 241.1L260.5 239.5M260.5 239.5L258.8 249.4L259.8 257.7M259.8 257.7L266.9 255.3L274.0 257.7L278.3 261.3L280.4 264.4L279.4 268.0L280.4 269.6L282.6 271.2M280.4 269.6L276.9 273.9L277.6 277.9L274.8 281.1L277.6 282.7M274.8 281.1L270.5 285.8L264.4 287.4M264.4 287.4L266.2 289.8M264.4 287.4L258.0 287.4L255.2 279.9L248.4 277.9L242.0 277.9M242.0 277.9L238.5 283.8L234.6 287.8L230.3 293.9M234.6 287.8L242.0 289.0L246.7 289.8L248.1 296.5L252.7 298.9M250.6 301.7L244.5 302.5L240.3 302.8L232.4 302.5M246.7 314.7L243.8 310.8L239.2 307.6L232.1 306.2M217.2 268.0L226.0 268.0L231.4 268.4L234.6 270.0M244.9 250.2L240.3 258.1L236.7 264.0L234.6 270.0M234.6 270.0L242.0 275.9L242.0 277.9M242.0 275.9L247.4 272.4L255.2 270.0L255.2 262.1L259.8 257.7M244.9 250.2L252.7 251.0L258.8 249.8M252.0 260.1L254.8 260.1L254.8 262.3L252.0 262.3L252.0 260.1M97.7 199.9L99.8 199.5L100.5 201.5L98.7 202.7L97.7 201.1L97.7 199.9M101.6 200.7L102.6 201.1L102.3 201.9L101.6 200.7M104.8 201.5L105.8 201.9L105.1 202.5L104.8 201.5M203.3 158.9L206.5 158.7L206.7 155.9L204.0 156.3L203.3 158.9M243.5 199.3L247.4 199.5L251.3 199.9L250.6 203.5L247.0 205.4L243.1 203.5L242.4 201.1L243.5 199.3M159.5 364.4L162.0 365.0L161.7 370.2L158.8 370.2L159.5 364.4M179.5 407.2L180.9 409.4L183.0 412.5L186.9 414.5L191.5 415.1L186.9 416.5L180.5 416.5L176.3 417.7L172.7 416.9L169.1 414.5L167.4 413.3L171.3 412.5L173.4 410.6L173.1 408.2L176.6 407.0L179.5 407.2M176.3 410.2L178.4 412.1L174.8 413.3M205.8 402.2L209.3 401.8L211.1 402.6L212.9 402.2L217.9 403.0L215.4 404.6L211.8 405.4L208.3 405.0L206.1 404.2L205.8 402.2M212.2 402.2L211.5 404.6M288.3 412.5L291.8 413.1L295.4 414.9L295.0 415.9L291.1 414.1L288.3 412.5M157.4 392.7L155.6 390.8L154.9 393.9L157.1 396.3L157.4 392.7M157.1 397.5L155.3 399.1L157.4 401.5L158.5 399.5L157.1 397.5M160.6 374.1L158.8 375.7L159.5 378.5L161.3 376.9L160.6 374.1M167.4 413.7L163.8 411.4L160.3 409.4L162.7 412.1L167.4 413.7M174.5 416.1L170.9 416.5L173.4 418.5L178.0 418.9L180.9 418.1L174.5 416.1M183.0 417.3L180.5 418.9L183.4 419.7L185.1 418.1L183.0 417.3M363.7 144.8L368.3 144.8L371.8 145.2L374.3 145.4L371.8 146.4L368.3 146.0L363.7 146.8M363.8 149.6L367.9 149.6L374.7 148.6L374.7 152.4L371.1 153.2L370.1 155.1M374.7 148.6L379.3 150.0L382.9 149.6L384.3 150.4M382.9 149.6L382.9 147.2L380.4 143.3L380.0 140.1L381.4 136.9M376.1 162.9L378.9 159.5L383.6 159.1L385.7 162.7L385.4 165.8L383.2 170.2L382.5 171.4M156.4 388.7L158.0 386.8L155.4 386.0L154.7 388.0L156.4 388.7M156.6 376.4L159.3 377.4L160.1 375.5L160.0 373.9L158.3 373.4L156.0 374.6L156.6 376.4M161.3 400.5L162.6 400.1L163.2 399.0L162.1 398.4L160.9 398.8L160.1 399.5L161.3 400.5M157.9 385.5L157.1 386.1L157.9 387.2L158.9 387.0L159.6 385.6L157.9 385.5M168.1 413.0L169.7 414.1L171.4 413.9L172.5 413.1L171.4 411.5L169.5 411.5L168.1 413.0M171.9 412.5L169.3 412.6L169.5 414.3L171.4 414.9L173.2 414.0L171.9 412.5M174.6 415.4L176.9 414.2L176.4 412.6L174.5 412.4L172.7 413.5L174.6 415.4M154.0 385.9L155.7 386.8L157.3 385.8L157.8 384.7L156.1 383.7L154.8 384.6L154.0 385.9M160.0 377.0L159.3 376.5L158.4 376.9L159.1 377.7L160.0 377.0M156.3 374.4L155.5 374.7L154.8 376.0L156.3 376.2L157.1 375.9L157.2 374.7L156.3 374.4M153.4 377.7L152.4 380.0L154.2 380.9L156.9 381.2L158.0 379.4L155.7 377.8L153.4 377.7M159.9 397.3L160.5 395.1L158.7 394.8L158.2 396.0L159.9 397.3M160.5 385.8L162.7 384.2L160.0 382.4L158.0 383.2L157.2 385.6L160.5 385.8M162.3 371.5L161.1 371.0L160.0 371.8L159.7 372.7L161.1 373.7L162.1 372.7L162.3 371.5M178.0 416.3L176.8 415.5L176.0 416.5L177.2 417.0L178.0 416.3M153.4 399.6L155.4 399.8L157.1 397.9L155.6 396.6L154.0 396.1L153.0 397.6L153.4 399.6M160.2 379.2L162.1 379.3L161.9 378.0L161.0 376.9L159.6 378.0L160.2 379.2M164.7 409.1L165.6 408.9L165.9 408.2L165.0 407.8L164.3 407.8L164.0 408.7L164.7 409.1M172.8 407.8L172.0 406.7L170.7 406.5L170.2 407.5L170.1 408.9L171.9 409.2L172.8 407.8M157.1 381.3L157.4 382.6L158.9 382.9L158.9 381.3L158.0 380.8L157.1 381.3M175.9 412.7L175.9 413.9L177.5 413.9L177.2 412.9L175.9 412.7M159.0 386.9L159.3 387.4L160.1 387.4L160.7 387.2L160.5 386.7L159.6 386.2L159.0 386.9M160.7 381.8L162.7 380.8L161.4 379.7L159.5 378.8L158.1 380.5L158.5 382.2L160.7 381.8M165.2 408.5L162.4 409.8L165.5 411.6L166.6 409.4L165.2 408.5M179.2 415.2L177.6 415.7L178.6 416.7L179.8 416.2L179.2 415.2M156.9 384.0L156.1 382.4L154.2 382.2L153.1 383.6L153.4 384.9L155.6 385.0L156.9 384.0M159.5 380.8L160.1 382.3L162.7 382.2L161.7 380.5L159.5 380.8M172.5 412.0L174.5 412.6L175.2 411.5L174.6 409.5L172.9 410.9L172.5 412.0M169.0 412.8L169.1 413.8L169.9 414.1L170.4 413.5L170.0 412.9L169.0 412.8M157.2 387.8L158.5 386.2L157.3 384.8L155.5 385.4L154.7 386.5L155.7 387.9L157.2 387.8M159.0 394.9L157.0 394.3L155.6 395.8L156.3 397.5L158.5 397.3L158.9 396.3L159.0 394.9M156.8 388.4L156.0 387.6L154.2 388.2L153.0 389.7L155.4 390.8L157.5 390.1L156.8 388.4M172.8 409.1L171.3 409.9L172.5 410.7L173.3 410.1L172.8 409.1M158.9 382.5L159.6 381.8L159.9 380.9L159.0 380.2L158.1 380.8L157.9 381.9L158.9 382.5M161.5 378.0L161.5 376.6L160.1 377.4L160.7 378.8L161.5 378.0M158.8 381.1L157.9 381.7L158.3 382.4L158.9 383.0L159.6 382.2L159.9 381.5L158.8 381.1M159.1 390.4L158.2 391.2L159.6 392.6L161.2 391.9L160.7 390.4L159.1 390.4M163.4 391.3L162.6 389.9L160.8 389.1L160.5 390.8L161.4 391.7L163.4 391.3M171.2 409.7L172.4 407.8L170.0 407.6L169.1 408.7L171.2 409.7M169.5 407.7L169.1 406.6L167.7 406.7L167.8 408.1L169.5 407.7M158.8 382.3L156.1 382.5L157.5 385.0L160.3 384.0L158.8 382.3M155.5 378.9L156.3 379.2L156.7 378.9L156.6 378.0L155.8 378.2L155.5 378.9M168.3 406.2L166.2 406.3L165.8 407.5L166.9 408.6L169.1 408.1L168.3 406.2M167.6 413.8L168.2 413.1L168.4 412.4L167.5 412.3L166.9 412.6L167.1 413.2L167.6 413.8M170.8 418.9L173.1 418.6L174.8 417.7L173.9 416.0L171.6 416.4L170.7 417.3L170.8 418.9M162.0 405.0L162.2 404.5L161.3 403.8L160.8 404.6L160.6 405.1L161.6 405.5L162.0 405.0M159.4 373.3L157.5 372.3L155.7 373.8L157.9 374.4L159.4 373.3M159.3 387.9L157.7 386.4L156.4 388.0L157.8 389.4L159.3 387.9M160.3 384.5L160.5 385.3L161.5 385.0L161.7 384.5L161.6 384.1L160.7 384.1L160.3 384.5M162.1 389.7L160.7 388.5L158.9 389.9L159.6 391.9L161.5 393.0L162.9 390.9L162.1 389.7M153.9 376.2L156.1 376.7L157.1 375.5L154.9 375.0L153.9 376.2M158.9 398.0L159.7 397.0L158.4 396.8L157.6 396.6L157.4 397.9L158.1 398.4L158.9 398.0M161.3 386.8L162.7 385.4L162.5 383.4L160.1 384.1L159.3 385.2L161.3 386.8M167.5 406.2L166.9 404.9L164.4 404.3L163.1 405.7L165.0 407.7L167.5 406.2M160.9 392.6L159.5 393.0L158.5 393.9L159.5 395.4L161.7 394.5L161.3 393.5L160.9 392.6M160.6 394.3L158.9 394.6L158.6 396.5L161.0 396.1L160.6 394.3M157.0 384.5L156.1 384.5L155.8 385.7L157.0 386.5L157.8 385.2L157.0 384.5M173.8 409.9L170.8 408.2L167.8 410.0L170.9 412.0L173.8 409.9M167.9 411.3L168.3 410.6L167.5 410.1L166.8 410.4L166.6 410.9L167.2 411.4L167.9 411.3M162.9 400.9L163.5 399.9L162.2 399.4L161.6 400.5L162.9 400.9M171.0 408.8L170.4 408.7L169.7 408.8L169.7 409.8L170.5 410.1L171.5 409.9L171.0 408.8M157.9 389.6L156.7 388.1L154.4 388.6L155.4 390.2L157.9 389.6M157.7 373.7L155.4 373.4L154.2 374.4L154.9 375.7L157.4 375.9L157.7 373.7M173.8 417.4L173.1 416.6L171.7 417.2L172.7 417.9L173.8 417.4M166.4 409.7L167.0 408.3L165.4 408.2L165.0 409.5L166.4 409.7M170.7 413.9L169.2 412.7L167.5 413.2L167.2 414.4L168.3 415.6L169.8 415.0L170.7 413.9M157.6 372.7L158.5 374.7L160.4 373.5L159.5 372.2L157.6 372.7M168.4 411.0L170.8 410.6L169.9 408.5L168.0 408.3L168.4 411.0M160.1 379.8L162.6 379.8L163.6 378.1L161.7 376.3L159.6 376.6L158.2 378.8L160.1 379.8M160.4 385.3L158.2 386.0L157.0 387.7L159.0 388.7L160.5 388.1L160.4 385.3M168.7 403.3L167.6 402.9L166.9 404.0L167.7 404.5L169.1 404.4L168.7 403.3M159.4 391.1L160.5 391.3L161.6 390.7L160.9 389.9L159.4 389.6L159.4 391.1M162.0 400.4L163.4 399.5L162.1 398.9L160.9 399.5L162.0 400.4M156.4 373.6L154.7 372.9L154.1 374.3L154.9 375.2L157.1 374.9L156.4 373.6M155.9 380.3L156.6 379.7L156.9 378.3L155.2 377.7L153.4 378.6L154.5 380.4L155.9 380.3M159.5 373.5L157.3 373.5L158.0 375.1L159.7 374.9L159.5 373.5M161.7 401.5L160.0 402.1L161.0 403.1L163.0 404.0L163.8 402.7L163.2 401.5L161.7 401.5M157.3 377.6L157.0 376.8L156.3 376.4L155.6 377.0L156.1 377.6L157.3 377.6M178.5 415.5L178.2 414.7L177.3 415.0L176.8 415.6L177.6 416.4L178.4 416.2L178.5 415.5M167.5 404.4L169.2 404.2L169.3 403.1L168.6 402.5L166.9 402.6L167.2 403.4L167.5 404.4M173.4 415.4L172.7 415.0L172.2 415.8L173.0 416.1L173.4 415.4M176.7 417.2L176.5 416.1L175.2 414.9L173.7 416.1L174.0 417.6L175.7 417.8L176.7 417.2M164.6 406.1L163.9 407.2L163.8 408.6L165.5 408.3L165.6 407.1L164.6 406.1M163.3 407.9L163.3 410.0L164.9 410.4L165.2 408.6L163.3 407.9M159.2 379.7L157.7 383.1L161.5 383.8L162.0 380.4L159.2 379.7M158.9 379.5L160.4 381.9L163.0 379.6L160.5 377.9L158.9 379.5M155.5 390.1L156.7 392.4L159.5 391.5L159.0 389.1L155.5 390.1M171.4 417.5L172.6 416.8L173.2 415.4L171.3 415.2L170.0 415.4L169.8 416.8L171.4 417.5M160.8 392.6L159.7 393.9L161.1 394.8L162.1 393.6L160.8 392.6M162.2 383.2L161.8 382.6L161.0 382.5L160.4 383.2L161.0 384.3L161.8 384.3L162.2 383.2M154.3 395.7L156.6 394.6L156.9 392.9L154.3 391.6L153.0 393.7L154.3 395.7M165.5 408.0L166.8 407.8L167.1 407.2L166.9 406.6L165.8 406.1L165.5 407.1L165.5 408.0M160.2 405.0L161.1 407.4L163.4 407.0L164.8 404.9L162.3 403.0L160.2 405.0M157.9 374.0L158.7 374.9L159.5 373.8L158.5 373.1L157.9 374.0M161.7 390.2L160.6 390.5L160.2 391.4L160.9 391.8L161.7 392.3L162.5 391.2L161.7 390.2"/><circle cx="329.2" cy="424.4" r="0.45" fill="#a8a0c8" stroke="none"/><circle cx="328.8" cy="427.6" r="0.45" fill="#a8a0c8" stroke="none"/><circle cx="328.5" cy="430.0" r="0.45" fill="#a8a0c8" stroke="none"/><circle cx="329.5" cy="432.3" r="0.45" fill="#a8a0c8" stroke="none"/><circle cx="326.7" cy="433.9" r="0.45" fill="#a8a0c8" stroke="none"/><circle cx="326.3" cy="421.6" r="0.45" fill="#a8a0c8" stroke="none"/></g><g transform="translate(0.0 0.0)">
<path fill="none" stroke="#101010" stroke-width="0.85" d="M52.0 243.4C54.0 243.7 60.0 244.6 64.0 245.4C68.0 246.2 71.7 247.1 76.1 248.4C80.4 249.7 85.4 251.4 90.1 253.4C94.8 255.4 100.9 258.5 104.2 260.4C107.4 262.4 106.8 262.5 109.8 264.9C112.8 267.3 118.5 271.3 122.2 274.8C125.9 278.3 128.9 282.1 132.2 286.0C135.5 289.9 139.3 295.1 142.2 298.5C145.1 301.9 147.1 304.1 149.6 306.6C152.1 309.1 155.1 311.3 157.4 313.7C159.7 316.1 161.8 319.0 163.6 321.2C165.3 323.4 167.2 325.9 167.9 326.8L167.9 326.8C168.2 327.2 169.0 329.2 169.8 329.3C170.6 329.4 172.1 327.6 172.9 327.6C173.7 327.6 174.4 328.3 174.8 329.3C175.2 330.3 175.4 332.1 175.4 333.6C175.4 335.2 175.2 337.0 174.8 338.6C174.4 340.2 173.7 342.0 172.9 343.0C172.1 344.0 170.8 344.1 169.8 344.8C168.8 345.5 167.4 346.2 166.7 347.3C166.0 348.4 165.7 349.7 165.5 351.1C165.3 352.6 165.4 354.4 165.8 356.0C166.2 357.6 166.8 359.4 167.9 361.0C169.0 362.6 170.8 364.0 172.3 365.4C173.8 366.8 174.8 368.1 176.7 369.1C178.6 370.1 181.4 371.2 183.8 371.5C186.2 371.8 189.0 371.7 191.0 371.0C193.0 370.3 194.3 368.9 196.0 367.2C197.7 365.5 199.2 363.3 200.9 361.0C202.6 358.7 204.2 355.8 205.9 353.5C207.6 351.2 209.2 349.4 210.9 347.3C212.6 345.2 214.4 342.8 215.9 341.1C217.4 339.5 218.7 338.7 220.0 337.4C221.3 336.1 222.0 334.9 223.6 333.0C225.2 331.2 227.7 328.3 229.8 326.2C231.9 324.1 234.0 322.5 236.0 320.6C238.1 318.7 240.7 316.5 242.3 315.0C243.8 313.4 244.5 312.3 245.4 311.2C246.3 310.2 247.3 309.1 247.7 308.7L247.7 308.7C248.3 308.5 249.0 307.2 251.1 307.5C253.2 307.7 256.6 308.8 260.1 310.1C263.7 311.4 267.8 313.4 272.2 315.1C276.5 316.8 281.6 318.8 286.2 320.1C290.9 321.5 296.1 322.4 300.3 323.1C304.5 323.9 307.3 324.2 311.3 324.5C315.3 324.9 320.9 325.4 324.4 325.1C327.9 324.9 329.7 324.1 332.4 323.1C335.1 322.1 337.9 320.6 340.4 319.1C342.9 317.6 346.1 315.4 347.4 314.1C348.8 312.8 349.0 312.6 348.5 311.1C348.0 309.6 346.1 307.4 344.4 305.1C342.8 302.7 340.3 299.6 338.4 297.0C336.6 294.5 334.7 292.0 333.4 290.0C332.1 288.0 331.1 286.4 330.4 285.0C329.7 283.6 329.8 283.8 329.4 281.5C329.0 279.3 328.1 274.7 328.0 271.5C327.8 268.3 327.3 265.1 328.4 262.4C329.5 259.8 331.1 257.8 334.4 255.4C337.7 253.1 343.6 250.4 348.5 248.4C353.3 246.4 359.5 244.1 363.5 243.4C367.5 242.7 369.3 244.1 372.5 244.4C375.8 244.7 379.3 245.0 383.0 245.4C386.7 245.8 392.7 246.4 394.6 246.6"/>
<path fill="none" stroke="#101010" stroke-width="0.85" d="M55.0 402.5C56.5 402.8 61.7 403.5 64.0 404.0C66.3 404.5 67.3 405.0 69.0 405.5C70.7 406.0 72.6 407.0 74.0 407.0C75.4 407.0 76.4 406.5 77.6 405.5C78.8 404.5 79.8 402.3 81.1 401.0C82.3 399.7 83.6 398.5 85.1 397.5C86.6 396.5 87.6 395.6 90.1 395.0C92.6 394.4 96.7 394.1 100.0 393.8C103.3 393.5 106.9 393.5 110.2 393.4C113.5 393.3 116.3 393.4 120.0 393.2C123.7 393.0 128.3 392.7 132.5 392.4C136.7 392.1 141.4 391.7 144.9 391.5C148.4 391.3 151.1 391.0 153.6 391.2C156.1 391.4 157.6 392.0 159.9 392.8C162.2 393.6 164.8 395.0 167.3 395.9C169.8 396.8 172.7 397.8 174.8 398.4C176.9 399.0 177.9 399.1 180.0 399.7C182.1 400.3 184.8 401.6 187.5 402.2C190.2 402.8 193.5 403.2 196.2 403.4C198.9 403.6 200.2 403.9 203.7 403.6C207.2 403.3 213.1 402.3 217.4 401.5C221.8 400.7 225.7 399.6 229.8 399.0C234.0 398.4 238.2 398.1 242.3 397.8C246.5 397.5 251.1 397.5 254.7 397.2C258.3 396.9 261.1 396.5 264.0 396.0C266.9 395.5 269.5 395.1 272.2 394.0C274.9 392.9 278.0 391.2 280.2 389.4C282.4 387.6 283.7 385.8 285.2 383.4C286.7 381.0 287.3 377.8 289.2 375.3C291.1 372.8 293.4 370.1 296.3 368.3C299.2 366.5 302.3 365.4 306.3 364.3C310.3 363.2 315.4 362.2 320.4 361.7C325.4 361.1 331.0 360.9 336.4 361.0C341.8 361.1 347.1 361.7 352.5 362.3C357.9 362.9 363.4 363.9 368.5 364.8C373.6 365.7 378.6 366.7 383.0 367.6C387.4 368.5 393.0 369.6 395.0 370.0"/>
<path fill="none" stroke="#101010" stroke-width="0.85" d="M162.3 255.5C162.7 254.9 164.6 254.4 166.1 254.6C167.5 254.8 169.5 255.7 171.1 256.7C172.6 257.7 174.3 259.2 175.4 260.5C176.6 261.7 177.8 263.5 177.9 264.2C178.0 264.9 177.4 265.2 176.0 264.8C174.7 264.4 171.8 262.8 169.8 261.7C167.8 260.6 165.5 259.0 164.2 258.0C163.0 256.9 162.0 256.0 162.3 255.5Z"/>
<path fill="none" stroke="#101010" stroke-width="0.85" d="M186.6 275.1C186.9 275.1 187.3 277.7 187.5 279.8C187.7 281.8 187.7 285.0 187.6 287.2C187.5 289.5 187.2 293.0 187.0 293.2C186.7 293.4 186.3 290.7 186.1 288.5C185.9 286.2 185.8 282.0 185.9 279.8C186.0 277.5 186.4 275.1 186.6 275.1Z"/>
<path fill="none" stroke="#101010" stroke-width="0.85" d="M183.5 297.8C183.7 297.8 184.3 299.9 184.3 300.9C184.3 302.0 183.7 304.0 183.5 304.0C183.3 304.0 182.9 302.0 182.9 300.9C182.9 299.9 183.3 297.8 183.5 297.8Z"/>
<path fill="none" stroke="#101010" stroke-width="0.85" d="M286.2 133.0C286.7 134.2 287.6 138.7 289.2 140.4C290.9 142.2 293.1 142.8 296.3 143.4C299.4 144.1 304.3 144.4 308.3 144.2C312.3 144.0 316.7 142.9 320.4 142.2C324.0 141.5 328.4 141.6 330.4 140.0C332.4 138.5 332.1 134.2 332.4 133.0"/>
<rect x="177.2" y="367.0" width="13.2" height="10" fill="#fff"/>
<text x="183.8" y="375.6" font-size="9.8" text-anchor="middle" fill="#1c1c1c">12</text>
<rect x="310.9" y="318.5" width="13.2" height="10" fill="#fff"/>
<text x="317.5" y="327.1" font-size="9.8" text-anchor="middle" fill="#1c1c1c">12</text>
<rect x="196.9" y="399.0" width="6.1" height="10" fill="#fff"/>
<text x="200.0" y="407.6" font-size="9.8" text-anchor="middle" fill="#1c1c1c">0</text>
</g></g>
<rect x="63.5" y="139.3" width="320.5" height="297.0" fill="none" stroke="#000" stroke-width="1.7"/>
<path d="M63.0 139.3h-3.6" stroke="#000" stroke-width="1.5"/>
<text class="ax" x="58.2" y="142.7" text-anchor="end">15N</text>
<path d="M63.0 159.1h-3.6" stroke="#000" stroke-width="1.5"/>
<text class="ax" x="58.2" y="162.5" text-anchor="end">10N</text>
<path d="M63.0 178.9h-3.6" stroke="#000" stroke-width="1.5"/>
<text class="ax" x="58.2" y="182.3" text-anchor="end">5N</text>
<path d="M63.0 198.7h-3.6" stroke="#000" stroke-width="1.5"/>
<text class="ax" x="58.2" y="202.1" text-anchor="end">EQ</text>
<path d="M63.0 218.5h-3.6" stroke="#000" stroke-width="1.5"/>
<text class="ax" x="58.2" y="221.9" text-anchor="end">5S</text>
<path d="M63.0 238.3h-3.6" stroke="#000" stroke-width="1.5"/>
<text class="ax" x="58.2" y="241.7" text-anchor="end">10S</text>
<path d="M63.0 258.1h-3.6" stroke="#000" stroke-width="1.5"/>
<text class="ax" x="58.2" y="261.5" text-anchor="end">15S</text>
<path d="M63.0 277.9h-3.6" stroke="#000" stroke-width="1.5"/>
<text class="ax" x="58.2" y="281.3" text-anchor="end">20S</text>
<path d="M63.0 297.7h-3.6" stroke="#000" stroke-width="1.5"/>
<text class="ax" x="58.2" y="301.1" text-anchor="end">25S</text>
<path d="M63.0 317.5h-3.6" stroke="#000" stroke-width="1.5"/>
<text class="ax" x="58.2" y="320.9" text-anchor="end">30S</text>
<path d="M63.0 337.3h-3.6" stroke="#000" stroke-width="1.5"/>
<text class="ax" x="58.2" y="340.7" text-anchor="end">35S</text>
<path d="M63.0 357.1h-3.6" stroke="#000" stroke-width="1.5"/>
<text class="ax" x="58.2" y="360.5" text-anchor="end">40S</text>
<path d="M63.0 376.9h-3.6" stroke="#000" stroke-width="1.5"/>
<text class="ax" x="58.2" y="380.3" text-anchor="end">45S</text>
<path d="M63.0 396.7h-3.6" stroke="#000" stroke-width="1.5"/>
<text class="ax" x="58.2" y="400.1" text-anchor="end">50S</text>
<path d="M63.0 416.5h-3.6" stroke="#000" stroke-width="1.5"/>
<text class="ax" x="58.2" y="419.9" text-anchor="end">55S</text>
<path d="M63.0 436.3h-3.6" stroke="#000" stroke-width="1.5"/>
<text class="ax" x="58.2" y="439.7" text-anchor="end">60S</text>
<path d="M67.9 436.8v3.2" stroke="#000" stroke-width="1.5"/>
<text class="ax axx" x="68.8" y="446.8" text-anchor="middle">100W</text>
<path d="M103.5 436.8v3.2" stroke="#000" stroke-width="1.5"/>
<text class="ax axx" x="104.4" y="446.8" text-anchor="middle">90W</text>
<path d="M139.0 436.8v3.2" stroke="#000" stroke-width="1.5"/>
<text class="ax axx" x="139.9" y="446.8" text-anchor="middle">80W</text>
<path d="M174.6 436.8v3.2" stroke="#000" stroke-width="1.5"/>
<text class="ax axx" x="175.5" y="446.8" text-anchor="middle">70W</text>
<path d="M210.1 436.8v3.2" stroke="#000" stroke-width="1.5"/>
<text class="ax axx" x="211.0" y="446.8" text-anchor="middle">60W</text>
<path d="M245.7 436.8v3.2" stroke="#000" stroke-width="1.5"/>
<text class="ax axx" x="246.6" y="446.8" text-anchor="middle">50W</text>
<path d="M281.3 436.8v3.2" stroke="#000" stroke-width="1.5"/>
<text class="ax axx" x="282.2" y="446.8" text-anchor="middle">40W</text>
<path d="M316.8 436.8v3.2" stroke="#000" stroke-width="1.5"/>
<text class="ax axx" x="317.7" y="446.8" text-anchor="middle">30W</text>
<path d="M352.4 436.8v3.2" stroke="#000" stroke-width="1.5"/>
<text class="ax axx" x="353.3" y="446.8" text-anchor="middle">20W</text>
<text class="hd pt" x="107.7" y="129.3" textLength="70.2" lengthAdjust="spacingAndGlyphs">cluster:</text>
<text class="hd pt" x="223.4" y="129.3" textLength="92.7" lengthAdjust="spacingAndGlyphs">membros:</text>
<text class="hd pt" x="188.6" y="129.3">1</text>
<text class="hd pt" x="327.5" y="129.3">6</text>
<clipPath id="c2"><rect x="522.1" y="139.3" width="320.5" height="297.0"/></clipPath>
<g clip-path="url(#c2)"><g transform="translate(0.0 0.0)">
<path fill="#483cc8" d="M510 130H860V450H510Z"/>
<path fill="#7060dc" d="M770.0 441.0C770.2 440.0 770.1 437.4 771.3 435.2C772.5 433.0 775.0 430.1 777.4 427.6C779.8 425.1 782.4 422.4 785.4 420.2C788.4 418.0 792.0 416.0 795.4 414.7C798.8 413.4 801.8 412.5 805.5 412.1C809.2 411.7 813.5 411.8 817.5 412.1C821.5 412.4 825.3 413.1 829.5 414.1C833.7 415.1 838.4 417.1 842.6 418.2C846.9 419.3 852.9 420.5 855.0 421.0L870.0 460.0L770.0 460.0Z"/>
<path fill="#1e50d2" d="M510.0 419.0C512.0 419.0 518.7 419.0 522.0 419.2C525.3 419.4 527.0 419.4 530.0 420.2C533.0 421.0 536.8 423.1 540.1 424.2C543.5 425.3 546.4 426.5 550.1 426.8C553.8 427.1 557.9 426.8 562.2 426.2C566.6 425.6 572.2 424.4 576.2 423.2C580.2 422.0 583.2 420.2 586.2 419.2C589.2 418.2 591.3 417.4 594.3 417.2C597.3 417.0 600.3 417.3 604.3 418.0C608.3 418.7 613.7 420.2 618.4 421.6C623.1 423.0 627.7 424.9 632.4 426.2C637.1 427.5 641.5 428.6 646.5 429.6C651.5 430.6 657.1 431.4 662.5 432.2C667.9 433.0 674.2 434.0 678.6 434.2C683.0 434.4 685.2 434.1 689.0 433.2C692.8 432.3 697.1 430.3 701.1 428.8C705.1 427.3 708.4 425.5 713.1 424.2C717.8 422.9 723.9 421.8 729.2 420.8C734.6 419.8 739.9 419.2 745.2 418.2C750.6 417.2 755.9 416.0 761.3 414.7C766.7 413.4 772.0 411.4 777.4 410.1C782.8 408.8 788.0 407.7 793.4 406.7C798.8 405.7 804.1 405.0 809.5 404.1C814.9 403.2 820.0 402.1 825.5 401.1C831.0 400.1 837.7 399.0 842.6 398.1C847.5 397.2 852.9 396.4 855.0 396.0L870.0 396.0L870.0 115.0L500.0 115.0L500.0 419.0Z"/>
<path fill="#1464d2" d="M510.0 402.5C512.0 402.4 518.7 402.3 522.0 402.1C525.3 401.9 527.0 401.8 530.0 401.1C533.0 400.4 536.4 399.3 540.1 398.1C543.8 396.9 548.1 395.3 552.1 394.1C556.1 392.9 559.9 391.9 564.2 391.1C568.6 390.3 573.5 389.7 578.2 389.5C582.9 389.3 587.9 389.7 592.3 390.1C596.6 390.5 600.6 391.3 604.3 392.1C608.0 392.9 611.3 393.8 614.3 395.1C617.3 396.4 619.7 398.4 622.4 400.1C625.1 401.8 627.4 403.6 630.4 405.1C633.4 406.6 636.7 407.9 640.4 409.1C644.1 410.3 648.1 411.4 652.5 412.1C656.9 412.8 662.1 412.9 666.5 413.1C670.9 413.3 674.2 413.3 678.6 413.1C683.0 412.9 688.0 412.4 693.1 412.1C698.2 411.8 703.8 411.5 709.1 411.1C714.5 410.7 719.9 410.2 725.2 409.5C730.6 408.8 735.9 407.8 741.2 406.7C746.6 405.6 751.9 404.4 757.3 403.1C762.6 401.8 767.9 400.4 773.3 399.1C778.6 397.8 784.4 396.7 789.4 395.5C794.4 394.3 799.5 393.4 803.5 392.1C807.5 390.9 810.8 389.7 813.5 388.0C816.2 386.3 817.5 383.6 819.5 382.0C821.5 380.4 822.8 379.4 825.5 378.3C828.2 377.2 832.8 376.0 835.6 375.3C838.5 374.6 839.4 374.7 842.6 374.3C845.8 373.9 852.9 373.2 855.0 373.0L870.0 373.0L870.0 115.0L500.0 115.0L500.0 402.0Z"/>
<path fill="#1e6eeb" d="M510.0 392.8C512.0 392.7 518.7 392.6 522.0 392.4C525.4 392.1 527.4 392.0 530.0 391.4C532.7 390.7 535.1 389.7 538.1 388.4C541.1 387.0 544.8 384.8 548.1 383.3C551.5 381.9 555.0 380.5 558.1 379.7C561.3 379.0 563.8 379.1 567.2 378.9C570.5 378.8 573.7 378.7 578.2 378.9C582.7 379.2 589.3 379.7 594.3 380.3C599.3 381.0 604.3 382.1 608.3 382.9C612.3 383.8 615.3 384.1 618.4 385.4C621.4 386.6 623.7 388.5 626.4 390.4C629.1 392.2 631.4 394.7 634.4 396.4C637.4 398.1 641.1 399.4 644.4 400.4C647.8 401.4 651.5 402.2 654.5 402.4C657.5 402.6 659.8 402.0 662.5 401.4C665.2 400.8 667.9 399.6 670.5 399.0C673.2 398.4 675.8 397.8 678.6 397.8C681.3 397.8 683.6 398.5 687.0 399.0C690.5 399.5 694.9 400.5 699.1 401.0C703.3 401.5 707.8 401.8 712.1 401.8C716.5 401.8 721.3 401.7 725.2 401.0C729.0 400.3 731.9 398.7 735.2 397.4C738.6 396.1 741.6 394.3 745.2 393.4C748.9 392.4 752.9 392.1 757.3 391.8C761.6 391.4 766.6 391.6 771.3 391.4C776.0 391.1 781.4 390.9 785.4 390.4C789.4 389.9 792.9 389.5 795.4 388.4C797.9 387.2 799.3 385.4 800.4 383.3C801.6 381.3 801.4 378.5 802.4 376.3C803.4 374.1 804.3 371.8 806.5 370.3C808.6 368.8 812.0 368.0 815.5 367.3C819.0 366.6 823.0 366.2 827.5 365.9C832.0 365.6 838.2 365.5 842.6 365.3C846.9 365.1 851.8 364.9 853.6 364.9L870.0 398.0L870.0 115.0L500.0 115.0L500.0 392.0Z"/>
<path fill="#3c96f5" d="M510.0 376.3C512.0 376.2 518.7 375.8 522.0 375.3C525.4 374.8 527.0 374.1 530.0 373.3C533.1 372.5 536.4 371.0 540.1 370.3C543.8 369.6 547.4 369.1 552.1 368.9C556.8 368.7 562.8 368.9 568.2 369.3C573.5 369.7 578.9 370.5 584.2 371.3C589.6 372.1 595.6 373.3 600.3 374.3C605.0 375.3 608.7 376.2 612.3 377.3C616.0 378.5 619.4 379.8 622.4 381.3C625.4 382.8 627.7 384.9 630.4 386.4C633.1 387.9 635.4 389.4 638.4 390.4C641.4 391.4 645.1 392.2 648.5 392.4C651.8 392.5 654.8 392.0 658.5 391.4C662.2 390.7 666.5 389.5 670.5 388.4C674.6 387.3 679.8 385.9 682.6 384.8C685.3 383.6 685.0 382.6 687.0 381.3C689.1 380.1 692.7 379.0 695.1 377.3C697.4 375.7 699.1 373.3 701.1 371.3C703.1 369.3 704.8 367.1 707.1 365.3C709.4 363.4 712.5 361.6 715.1 360.3C717.8 358.9 720.2 357.8 723.2 357.3C726.2 356.7 729.5 356.7 733.2 356.9C736.9 357.0 740.6 357.8 745.2 358.3C749.9 358.7 755.9 359.4 761.3 359.7C766.6 359.9 772.0 359.8 777.4 359.7C782.7 359.5 788.1 359.3 793.4 358.9C798.8 358.5 804.1 357.9 809.5 357.3C814.8 356.7 820.0 355.6 825.5 355.2C831.0 354.8 837.9 354.9 842.6 354.8C847.3 354.7 851.8 354.7 853.6 354.6L870.0 347.0L870.0 115.0L500.0 115.0L500.0 376.0Z"/>
<path fill="#78b9fa" d="M510.0 348.8C512.0 348.7 518.0 348.7 522.0 348.2C526.0 347.8 529.7 346.6 534.1 346.2C538.4 345.9 543.1 345.9 548.1 346.2C553.1 346.6 558.8 347.6 564.2 348.2C569.5 348.9 575.9 349.7 580.2 350.2C584.5 350.8 587.1 351.2 590.0 351.6C592.9 352.0 594.8 352.3 597.5 352.8C600.2 353.3 603.3 354.0 606.2 354.7C609.1 355.4 612.2 356.4 614.9 357.2C617.6 358.0 620.1 358.8 622.4 359.7C624.7 360.6 626.7 361.6 628.6 362.8C630.5 364.0 631.6 365.2 633.6 367.1C635.6 369.0 637.6 372.8 640.4 374.3C643.2 375.9 646.8 376.2 650.5 376.3C654.1 376.5 658.5 376.2 662.5 375.3C666.5 374.5 671.1 372.3 674.6 371.3C678.0 370.3 680.9 371.0 683.0 369.3C685.1 367.6 685.7 363.8 687.0 361.3C688.4 358.8 689.0 356.3 691.0 354.2C693.1 352.2 696.1 350.7 699.1 349.2C702.1 347.7 706.1 346.0 709.1 345.2C712.1 344.4 714.1 344.0 717.1 344.2C720.2 344.4 723.8 345.2 727.2 346.2C730.5 347.2 733.5 349.2 737.2 350.2C740.9 351.2 744.9 351.7 749.3 352.2C753.6 352.7 758.6 353.1 763.3 353.2C768.0 353.3 772.3 353.2 777.4 352.8C782.4 352.5 788.4 351.8 793.4 351.2C798.4 350.6 802.8 350.0 807.5 349.2C812.1 348.4 817.2 347.1 821.5 346.4C825.9 345.7 830.0 345.3 833.6 345.0C837.1 344.7 839.2 344.6 842.6 344.4C845.9 344.2 851.8 344.1 853.6 344.0L870.0 343.0L870.0 115.0L500.0 115.0L500.0 348.0Z"/>
<path fill="#3c96f5" d="M530.0 317.1C530.0 315.6 531.0 313.8 533.1 312.1C535.1 310.4 538.2 308.4 542.1 307.1C545.9 305.7 551.5 304.2 556.1 304.1C560.8 303.9 566.2 304.7 570.2 306.1C574.2 307.4 578.0 309.8 580.2 312.1C582.4 314.4 582.9 317.8 583.2 320.1C583.6 322.5 583.4 324.8 582.2 326.1C581.1 327.5 579.2 328.2 576.2 328.2C573.2 328.2 568.2 326.8 564.2 326.1C560.1 325.5 556.1 324.6 552.1 324.1C548.1 323.6 543.3 323.6 540.1 323.1C536.9 322.6 534.7 322.1 533.1 321.1C531.4 320.1 530.0 318.6 530.0 317.1Z"/>
<path fill="#ffe878" d="M510.0 267.5C512.0 267.5 517.3 267.4 522.0 267.5C526.7 267.5 533.1 267.5 538.1 267.9C543.1 268.2 548.1 268.5 552.1 269.5C556.1 270.4 558.8 271.6 562.2 273.5C565.5 275.3 569.2 278.0 572.2 280.5C575.2 283.0 577.3 285.6 580.2 288.5C583.2 291.5 587.5 295.5 590.0 298.0C592.5 300.5 593.3 301.4 595.0 303.6C596.7 305.8 598.4 308.6 600.0 311.1C601.6 313.6 603.2 316.1 604.9 318.6C606.5 321.1 608.2 323.3 609.9 326.0C611.6 328.7 613.4 332.1 614.9 334.8C616.4 337.5 617.1 340.1 618.6 342.2C620.1 344.3 621.7 345.8 623.6 347.2C625.5 348.6 628.0 349.2 629.9 350.9C631.8 352.6 633.1 355.3 634.8 357.2C636.4 359.1 637.9 360.8 639.8 362.2C641.7 363.6 643.7 365.1 646.0 365.9C648.3 366.7 651.0 367.1 653.5 367.1C656.0 367.1 658.5 366.7 661.0 365.9C663.5 365.1 666.2 363.6 668.5 362.2C670.8 360.8 672.8 359.1 674.7 357.2C676.6 355.3 678.1 353.0 679.7 350.9C681.4 348.8 682.9 346.4 684.6 344.7C686.3 343.0 687.3 341.9 690.0 340.5C692.7 339.1 697.2 336.9 701.1 336.2C704.9 335.5 709.1 335.7 713.1 336.2C717.1 336.7 721.5 338.0 725.2 339.2C728.8 340.4 731.5 342.2 735.2 343.2C738.9 344.2 742.9 344.7 747.2 345.2C751.6 345.7 756.3 346.0 761.3 346.2C766.3 346.4 772.3 346.4 777.4 346.2C782.4 346.0 786.7 345.9 791.4 345.2C796.1 344.5 801.1 343.5 805.5 342.2C809.8 340.9 813.5 339.2 817.5 337.4C821.5 335.6 825.4 333.3 829.5 331.6C833.7 329.8 838.6 328.1 842.6 326.7C846.6 325.4 851.8 324.1 853.6 323.5L870.0 325.0L870.0 115.0L500.0 115.0L500.0 267.0Z"/>
<path fill="#78b9fa" d="M836.6 311.1C836.6 309.1 837.4 306.3 838.6 305.1C839.7 303.8 842.1 302.5 843.6 303.5C845.1 304.5 847.6 308.5 847.6 311.1C847.6 313.7 845.1 318.1 843.6 319.1C842.1 320.1 839.7 318.5 838.6 317.1C837.4 315.8 836.6 313.1 836.6 311.1Z"/>
<path fill="#ffc03c" d="M510.0 251.4C512.0 251.7 518.0 252.6 522.0 253.4C526.0 254.3 529.7 255.3 534.1 256.4C538.4 257.6 543.4 259.1 548.1 260.4C552.8 261.8 558.1 263.3 562.2 264.5C566.2 265.6 569.2 266.1 572.2 267.5C575.2 268.8 577.7 270.4 580.2 272.5C582.7 274.6 585.6 278.0 587.2 279.9C588.9 281.8 588.5 282.0 590.0 283.7C591.5 285.4 594.1 287.7 596.2 289.9C598.3 292.1 600.4 294.5 602.5 296.8C604.6 299.1 606.6 301.3 608.7 303.6C610.8 305.9 612.8 308.3 614.9 310.5C617.0 312.7 619.2 314.8 621.1 316.7C623.0 318.6 624.5 320.3 626.1 321.7C627.8 323.1 629.6 324.0 631.0 325.0C632.4 326.0 633.7 326.3 634.2 327.9C634.7 329.5 633.7 332.4 633.8 334.8C633.9 337.2 634.1 339.9 634.6 342.2C635.1 344.5 635.8 346.6 636.7 348.5C637.6 350.4 638.5 351.9 639.8 353.4C641.0 354.8 642.6 356.3 644.2 357.2C645.8 358.1 647.6 358.8 649.2 359.0C650.9 359.2 652.6 359.2 654.1 358.7C655.6 358.2 657.1 357.1 658.5 355.9C659.9 354.7 661.0 353.2 662.2 351.6C663.5 350.0 664.8 348.0 666.0 346.0C667.2 344.0 668.4 341.7 669.7 339.7C671.1 337.7 672.4 335.7 674.1 334.1C675.8 332.6 678.0 331.3 679.7 330.4C681.5 329.5 682.9 329.1 684.6 328.5C686.3 327.9 688.6 327.3 690.0 326.7C691.4 326.1 691.2 325.7 693.1 325.1C694.9 324.5 698.4 323.4 701.1 323.1C703.8 322.9 706.1 323.0 709.1 323.5C712.1 324.0 715.8 324.9 719.1 326.1C722.5 327.4 726.2 329.5 729.2 331.2C732.2 332.8 734.7 334.9 737.2 336.2C739.7 337.5 741.1 338.6 744.2 338.8C747.4 339.0 753.1 338.5 756.3 337.6C759.5 336.6 760.8 334.6 763.3 333.2C765.8 331.8 768.3 330.3 771.3 329.2C774.3 328.0 778.4 327.3 781.4 326.1C784.4 325.0 787.1 323.5 789.4 322.1C791.7 320.8 794.1 319.5 795.4 318.1C796.8 316.8 797.4 315.9 797.4 314.1C797.4 312.3 796.4 309.9 795.4 307.1C794.4 304.2 792.7 300.1 791.4 297.0C790.1 294.0 788.3 291.0 787.4 289.0C786.5 287.0 786.5 287.3 785.8 285.0C785.1 282.7 784.1 278.8 783.4 275.5C782.6 272.2 781.7 267.1 781.4 265.5L781.4 265.5C782.2 265.7 784.4 266.9 786.4 267.1C788.4 267.2 790.9 267.2 793.4 266.5C795.9 265.7 798.8 264.3 801.4 262.4C804.1 260.6 806.8 257.4 809.5 255.4C812.1 253.4 814.2 251.7 817.5 250.4C820.8 249.1 825.4 248.2 829.5 247.4C833.7 246.6 838.6 246.2 842.6 245.8C846.6 245.4 851.8 245.1 853.6 245.0L870 245L870 115L500 115L500 251Z"/>
<path fill="#ffa000" d="M510.0 233.3C512.0 233.5 519.0 233.0 522.0 234.4C525.0 235.7 525.7 239.2 528.0 241.4C530.4 243.5 533.1 246.1 536.1 247.4C539.1 248.7 542.4 248.4 546.1 249.4C549.8 250.4 554.1 251.7 558.1 253.4C562.2 255.1 566.5 257.4 570.2 259.4C573.9 261.4 577.2 263.1 580.2 265.5C583.2 267.8 586.6 271.7 588.2 273.5C589.9 275.3 588.7 275.1 590.0 276.2C591.3 277.3 594.1 278.3 596.2 280.0C598.3 281.7 600.4 284.1 602.5 286.2C604.6 288.3 606.6 290.3 608.7 292.4C610.8 294.5 612.8 296.7 614.9 298.6C617.0 300.5 619.0 302.0 621.1 303.6C623.2 305.2 625.8 307.0 627.4 308.0C629.0 309.0 629.6 308.5 631.0 309.5C632.4 310.5 634.3 312.3 636.0 314.0C637.7 315.7 640.4 317.6 641.1 319.8C641.8 322.0 640.5 324.8 640.4 327.3C640.3 329.8 640.2 332.5 640.4 334.8C640.6 337.1 641.0 339.6 641.7 341.0C642.4 342.4 643.4 343.4 644.8 343.5C646.1 343.6 648.1 342.5 649.8 341.6C651.5 340.7 652.9 339.2 654.8 337.9C656.7 336.5 658.9 334.9 661.0 333.5C663.1 332.1 665.1 331.2 667.2 329.8C669.3 328.4 671.5 326.8 673.4 325.4C675.3 323.9 676.7 322.4 678.4 321.1C680.1 319.9 681.5 318.8 683.4 317.9C685.3 317.0 688.1 316.0 690.0 315.5C691.9 315.0 692.2 315.7 695.1 315.1C697.9 314.5 703.4 312.4 707.1 312.1C710.8 311.8 713.5 312.6 717.1 313.1C720.8 313.6 725.5 315.4 729.2 315.1C732.9 314.8 736.4 312.8 739.2 311.1C742.1 309.4 744.6 307.4 746.2 305.1C747.9 302.7 748.8 300.4 749.3 297.0C749.8 293.7 749.4 288.6 749.3 285.0C749.1 281.4 748.3 279.1 748.3 275.5C748.3 271.9 748.6 267.5 749.3 263.5C749.9 259.4 751.1 254.9 752.3 251.4C753.4 247.9 754.8 244.6 756.3 242.4C757.8 240.2 758.5 238.9 761.3 238.4C764.1 237.8 768.7 238.8 773.3 239.0C778.0 239.1 784.0 239.6 789.4 239.4C794.7 239.1 800.8 238.2 805.5 237.4C810.1 236.5 813.1 234.7 817.5 234.4C821.8 234.0 827.4 234.9 831.5 235.4C835.7 235.9 838.9 236.9 842.6 237.4C846.3 237.9 851.8 238.2 853.6 238.4L870.0 237.0L870.0 115.0L500.0 115.0L500.0 233.0Z"/>
<path fill="#ffc03c" d="M601.3 193.8C600.3 193.8 599.5 193.6 598.3 195.2C597.1 196.8 595.1 200.2 594.3 203.2C593.5 206.2 593.1 210.0 593.3 213.3C593.5 216.7 594.5 220.3 595.3 223.3C596.1 226.3 596.8 228.3 598.3 231.3C599.8 234.3 602.0 238.1 604.3 241.4C606.6 244.8 609.7 247.9 612.3 251.4C614.9 254.9 617.9 260.1 620.0 262.3C622.1 264.5 623.3 263.8 625.0 264.8C626.7 265.8 628.5 266.9 630.0 268.5C631.5 270.1 632.8 272.4 633.7 274.7C634.6 277.0 635.1 279.5 635.2 282.2C635.3 284.9 634.9 288.4 634.5 290.9C634.1 293.4 633.5 295.3 633.0 297.4C632.5 299.5 632.1 301.7 631.7 303.6C631.3 305.5 630.3 306.5 630.5 308.6C630.7 310.7 631.9 313.8 633.0 316.0C634.1 318.2 635.7 321.5 637.0 322.0C638.3 322.5 640.0 320.4 641.0 319.0C642.0 317.6 642.2 315.5 643.0 313.6C643.8 311.7 644.8 309.7 645.5 307.4C646.2 305.1 646.8 302.4 647.5 299.9C648.2 297.4 648.9 294.9 649.5 292.4C650.1 289.9 650.7 287.4 651.0 284.9C651.3 282.4 651.7 279.5 651.5 277.2C651.3 274.9 651.0 273.1 649.9 271.0C648.8 268.9 646.8 266.9 644.9 264.8C643.0 262.7 640.8 260.6 638.7 258.5C636.6 256.4 634.6 254.2 632.5 252.3C630.4 250.4 628.3 248.6 626.2 247.3C624.1 246.1 622.0 246.8 620.0 244.8C618.0 242.8 616.3 238.3 614.3 235.4C612.4 232.4 610.0 230.0 608.3 227.3C606.6 224.6 605.1 222.0 604.3 219.3C603.5 216.6 603.3 213.9 603.3 211.3C603.3 208.6 604.1 205.9 604.3 203.2C604.5 200.6 604.8 196.8 604.3 195.2C603.8 193.6 602.3 193.8 601.3 193.8Z"/>
<path fill="#ffc03c" d="M512.0 131.0C524.5 126.9 575.0 129.5 587.2 131.0C599.5 132.5 586.4 137.8 585.2 140.0C584.1 142.2 583.1 143.3 580.2 144.0C577.4 144.8 572.2 144.6 568.2 144.6C564.2 144.6 559.5 143.8 556.1 144.0C552.8 144.3 550.8 144.9 548.1 146.0C545.4 147.2 543.1 149.7 540.1 151.1C537.1 152.4 533.1 153.4 530.0 154.1C527.0 154.7 525.0 154.8 522.0 155.1C519.0 155.3 513.7 159.5 512.0 155.5C510.3 151.5 499.4 135.1 512.0 131.0Z"/>
<path fill="#ffc03c" d="M512.0 181.6C513.7 179.4 519.0 181.9 522.0 182.2C525.0 182.4 527.9 182.2 530.0 183.2C532.2 184.2 534.6 186.5 535.1 188.2C535.6 189.9 534.6 192.1 533.1 193.2C531.5 194.3 529.5 194.5 526.0 194.8C522.5 195.1 514.3 197.4 512.0 195.2C509.6 193.0 510.3 183.7 512.0 181.6Z"/>
<path fill="#ffc03c" d="M664.5 131.0C664.7 132.5 663.8 137.8 665.5 140.0C667.2 142.2 672.6 143.3 674.6 144.0C676.5 144.7 674.9 143.9 677.0 144.2C679.1 144.6 683.7 144.6 687.0 146.0C690.4 147.5 693.1 150.9 697.1 153.1C701.1 155.2 706.8 157.4 711.1 159.1C715.5 160.8 719.1 162.1 723.2 163.1C727.2 164.1 731.5 165.3 735.2 165.1C738.9 164.9 741.6 162.8 745.2 162.1C748.9 161.4 753.6 160.9 757.3 161.1C761.0 161.3 764.0 163.3 767.3 163.1C770.7 162.9 773.7 161.8 777.4 160.1C781.0 158.4 785.4 155.4 789.4 153.1C793.4 150.7 797.9 148.2 801.4 146.0C805.0 143.9 808.6 142.5 810.5 140.0C812.3 137.5 812.1 132.5 812.5 131.0Z"/>
<path fill="#ffe878" d="M735.2 133.0C735.5 134.2 735.5 138.5 737.2 140.0C738.9 141.5 741.9 141.7 745.2 142.0C748.6 142.4 753.9 142.4 757.3 142.0C760.6 141.7 763.6 141.5 765.3 140.0C767.0 138.5 767.0 134.2 767.3 133.0Z"/>
<path fill="#ff6000" d="M646.5 182.2C645.6 182.5 646.5 186.0 645.4 187.2C644.4 188.4 642.3 189.4 640.4 189.2C638.6 189.0 636.4 186.4 634.4 186.2C632.4 185.9 630.4 186.6 628.4 187.6C626.4 188.6 624.7 191.1 622.4 192.2C620.0 193.3 616.0 193.0 614.3 194.2C612.7 195.4 612.3 197.4 612.3 199.2C612.3 201.1 614.5 202.6 614.3 205.2C614.2 207.9 612.0 212.3 611.3 215.3C610.7 218.3 610.0 220.3 610.3 223.3C610.7 226.3 611.7 230.6 613.3 233.3C614.9 236.1 617.9 238.2 620.0 239.9C622.1 241.6 624.1 242.2 626.2 243.6C628.3 245.0 630.4 246.7 632.5 248.6C634.6 250.5 636.6 252.7 638.7 254.8C640.8 256.9 642.8 258.9 644.9 261.0C647.0 263.1 649.5 265.1 651.1 267.2C652.7 269.3 653.6 271.2 654.2 273.5C654.8 275.8 655.0 278.5 654.9 280.9C654.8 283.3 654.0 285.7 653.5 288.0C653.0 290.3 652.4 292.3 652.0 294.9C651.6 297.5 651.4 300.7 651.0 303.6C650.6 306.5 650.1 309.6 649.8 312.3C649.5 315.0 649.2 317.9 649.2 319.8C649.2 321.7 649.1 322.8 649.8 323.5C650.5 324.2 652.3 324.6 653.5 324.2C654.7 323.8 655.8 322.2 657.2 321.1C658.7 320.0 660.3 318.4 662.2 317.3C664.1 316.2 666.2 315.5 668.5 314.8C670.8 314.1 673.6 313.8 675.9 313.0C678.2 312.2 679.9 311.0 682.2 309.9C684.6 308.8 686.9 307.4 690.0 306.1C693.1 304.8 697.2 303.3 701.1 302.1C705.0 300.9 709.4 300.3 713.1 299.1C716.8 297.9 720.5 296.7 723.2 295.0C725.9 293.3 728.0 290.8 729.2 289.0C730.4 287.2 730.8 286.9 730.5 284.0C730.2 281.1 728.2 275.6 727.2 271.5C726.2 267.4 725.4 263.1 724.2 259.4C723.0 255.7 721.2 252.6 720.2 249.4C719.2 246.2 719.4 242.6 718.5 240.0C717.6 237.4 716.3 235.6 714.6 233.6C712.9 231.6 710.7 230.1 708.4 228.0C706.1 225.9 703.4 223.6 700.9 221.2C698.4 218.8 695.8 216.2 693.5 213.7C691.2 211.2 689.1 208.5 687.2 206.2C685.3 203.9 684.1 201.8 682.3 200.0C680.5 198.2 679.2 196.3 676.6 195.2C674.0 194.1 669.5 194.0 666.5 193.2C663.5 192.4 661.2 191.5 658.5 190.2C655.8 188.9 652.5 186.5 650.5 185.2C648.5 183.9 647.3 181.8 646.5 182.2Z"/>
<path fill="#ffa000" d="M639.0 216.4C639.0 217.6 638.4 219.1 637.5 219.9C636.7 220.8 635.2 221.4 634.0 221.4C632.8 221.4 631.3 220.8 630.5 219.9C629.6 219.1 629.0 217.6 629.0 216.4C629.0 215.2 629.6 213.7 630.5 212.9C631.3 212.0 632.8 211.4 634.0 211.4C635.2 211.4 636.7 212.0 637.5 212.9C638.4 213.7 639.0 215.2 639.0 216.4Z"/>
<path fill="#ff3200" d="M673.5 254.8C671.2 255.7 669.4 258.9 667.3 261.0C665.2 263.1 662.8 264.9 661.1 267.2C659.5 269.5 658.0 271.8 657.4 274.7C656.8 277.6 657.1 281.8 657.4 284.7C657.7 287.6 658.0 290.1 659.0 292.2C660.0 294.3 661.9 295.9 663.5 297.4C665.1 298.9 666.6 299.9 668.5 301.1C670.4 302.4 672.8 303.8 674.7 304.9C676.6 305.9 678.1 307.2 679.7 307.4C681.4 307.6 682.9 307.2 684.6 306.1C686.3 305.1 688.3 303.0 690.0 301.1C691.7 299.2 693.1 296.7 694.7 294.6C696.3 292.5 698.5 290.7 699.7 288.4C701.0 286.1 702.2 283.2 702.2 280.9C702.2 278.6 701.4 277.0 699.7 274.7C698.0 272.4 694.5 269.7 692.2 267.2C689.9 264.7 687.9 261.8 686.0 259.8C684.1 257.8 683.1 256.2 681.0 255.4C678.9 254.6 675.8 253.9 673.5 254.8Z"/>
<path fill="#e11400" d="M664.8 284.7C665.0 283.4 666.0 281.8 667.3 280.9C668.5 280.0 670.6 279.2 672.3 279.1C674.0 279.0 675.8 279.6 677.3 280.3C678.8 281.0 680.2 282.4 681.0 283.4C681.8 284.4 682.7 285.7 682.3 286.5C681.9 287.3 679.8 287.8 678.5 288.4C677.2 289.0 676.2 290.0 674.8 290.3C673.3 290.6 671.2 290.6 669.8 290.3C668.3 290.0 666.9 289.3 666.1 288.4C665.3 287.5 664.6 285.9 664.8 284.7Z"/>
<path fill="#ffe878" d="M622.5 256.0C623.0 255.6 624.9 255.2 626.2 255.4C627.6 255.6 629.4 256.5 630.6 257.3C631.9 258.1 633.4 259.6 633.7 260.4C634.0 261.2 633.5 262.3 632.5 262.3C631.5 262.3 629.1 261.1 627.5 260.4C625.9 259.7 623.9 258.6 623.1 257.9C622.3 257.2 622.0 256.4 622.5 256.0Z"/>
<path fill="#ffe878" d="M646.9 285.6C646.9 286.7 646.7 288.2 646.5 289.0C646.3 289.8 645.9 290.4 645.6 290.4C645.3 290.4 644.9 289.8 644.7 289.0C644.5 288.2 644.3 286.7 644.3 285.6C644.3 284.5 644.5 283.0 644.7 282.2C644.9 281.4 645.3 280.8 645.6 280.8C645.9 280.8 646.3 281.4 646.5 282.2C646.7 283.0 646.9 284.5 646.9 285.6Z"/>
</g><g fill="none" stroke="#a6a6a6" stroke-width="0.75" stroke-linejoin="round" stroke-linecap="round"><path d="M606.8 164.2L608.5 165.0L608.9 167.4L610.7 163.5L613.2 161.1L613.5 156.7L616.0 154.7L618.1 154.0L621.3 154.0L624.9 151.6L627.4 149.6L629.2 150.8L628.5 152.0L626.3 152.8L627.4 155.5L627.0 156.7L626.0 159.9L627.0 162.7L629.2 161.9L629.5 159.5L628.1 156.3L628.1 155.3L632.4 153.6L632.0 151.6L633.1 150.4L633.8 152.4L634.1 153.2L638.8 154.3L639.5 156.7L643.7 156.7L646.9 156.7L650.5 158.7L653.7 157.5L658.0 156.3L661.9 156.3L659.4 158.3L661.5 159.5L665.1 161.5L665.8 164.6L668.6 165.0L671.8 167.0L674.0 169.8L674.3 171.8L678.6 174.9L683.2 175.3L686.1 174.9L690.0 175.7L693.5 176.9L696.0 179.3L698.5 181.3L700.3 183.3L701.7 189.6L704.2 191.6L704.6 194.7L702.8 197.9L700.6 198.7L699.6 201.1L701.4 202.3L701.0 204.2L704.2 205.8L707.0 204.6L709.5 204.6L710.2 201.9L711.7 201.1L713.8 201.1L718.4 202.7L722.3 205.0L723.4 207.8L724.5 209.8L725.9 208.6L727.7 208.2L732.6 209.8L735.1 210.2L739.8 210.0L743.3 212.2L745.1 213.4L749.4 217.3L752.2 218.9L756.1 219.3L756.8 221.7L757.9 226.8L758.1 230.4L756.5 235.1L755.1 237.1L752.6 240.3L750.4 242.3L748.6 244.6L746.9 248.6L745.1 250.2L743.3 252.2L743.3 257.3L743.7 261.3L743.0 266.0L742.6 269.6L740.8 271.6L740.5 276.3L738.7 279.1L736.6 283.0L736.2 285.8L733.0 288.2L732.6 289.8L728.4 289.8L724.5 289.8L723.0 291.2L720.6 292.9L717.4 293.7L714.9 296.1L711.7 298.5L709.5 300.1L709.2 302.5L709.2 305.6L709.5 308.0L708.8 311.6L706.7 313.5L704.2 316.3L703.1 319.5L700.6 322.6L696.7 326.2L695.0 330.2L692.1 332.4L690.7 334.9L686.8 337.1L682.2 336.9L679.0 335.1L676.5 335.1L674.3 333.3L674.0 335.3L677.5 337.3L678.6 340.5L678.2 342.1L680.4 343.2L680.4 344.8L677.5 349.2L674.0 351.6L668.6 352.7L663.3 353.1L660.5 352.3L661.2 355.1L660.5 359.1L658.7 361.1L654.4 360.3L650.5 360.3L650.9 363.0L650.9 365.4L653.3 366.2L655.8 366.2L655.8 368.2L653.3 368.6L650.9 368.2L650.9 370.2L649.8 374.9L648.7 376.9L644.1 377.7L642.0 380.9L643.7 383.2L648.0 385.6L647.7 388.4L643.0 391.2L641.6 393.9L638.8 397.5L636.6 400.3L635.9 403.0L638.8 406.0L634.9 406.6L630.2 407.8L629.9 411.4L626.3 411.7L624.9 409.8L621.3 409.4L620.6 407.0L617.1 405.8L618.9 402.6L615.3 400.7L617.1 397.5L613.5 394.7L616.7 391.6L613.5 388.8L616.4 387.2L613.2 384.0L617.1 380.9L620.3 379.3L618.1 376.9L621.3 373.7L622.4 370.2L623.1 366.2L622.1 364.2L619.2 364.2L619.9 357.1L620.6 351.2L620.3 346.0L622.1 344.0L623.5 339.3L626.7 332.2L627.4 329.4L627.7 325.0L627.0 318.7L628.1 317.1L627.7 313.1L629.9 306.0L630.9 302.8L631.3 299.3L631.7 292.2L630.9 290.2L632.4 286.2L632.5 278.7L632.0 272.0L628.5 268.4L623.5 264.8L618.9 262.1L614.6 259.3L611.0 254.9L610.3 253.7L611.0 251.8L607.8 246.6L605.7 242.3L603.9 238.3L602.5 234.7L601.1 231.2L597.9 226.0L594.3 222.5L593.3 219.3L592.9 217.3L594.3 214.1L596.5 212.2L597.9 208.6L597.9 207.4L596.5 209.4L594.3 207.8L595.0 202.7L597.2 198.7L597.5 195.5L601.4 192.4L603.2 188.4L606.4 188.0L608.2 183.3L606.4 182.1L607.1 176.9L606.4 172.2L605.0 170.2L606.8 164.2M550.2 136.9L554.1 141.3L557.0 143.7L559.8 143.7L562.7 145.2L567.3 146.4L569.8 146.0L570.5 147.2L570.1 147.6L573.7 150.8L576.5 154.3L577.3 155.5L576.9 158.7L579.4 160.7L580.5 159.5L581.2 161.1L584.4 163.1L584.4 165.4L586.1 165.4L587.2 166.2L589.7 165.8L591.5 167.0L594.0 168.6L594.3 170.2L596.1 169.8L597.5 169.0L596.1 166.2L598.2 164.6L599.3 163.3L602.9 164.6L603.9 165.8L603.2 167.0L605.0 170.2M586.5 137.3L586.3 139.3L585.4 142.1L586.1 143.3L585.1 147.2L584.4 151.2L584.5 155.1L586.9 159.1L589.7 162.3L591.1 163.1L593.3 163.9L594.7 163.5L597.5 161.9L599.3 160.7L601.4 161.5L604.6 162.3L606.8 164.2M821.5 137.3L819.8 140.5L822.3 143.3L822.3 145.6L822.4 149.6L825.1 151.6L826.9 154.0L828.7 155.1L829.7 157.1L833.3 161.1L835.1 165.0L836.1 167.8L837.5 169.4L841.1 171.4L843.6 173.8M554.1 141.3L554.5 138.9L555.9 136.9M561.6 144.2L563.4 142.5L564.3 141.7L564.8 138.5M564.3 141.7L567.3 143.5L569.8 143.7L570.1 145.6M571.6 147.2L573.7 146.0L576.2 143.3L579.7 140.9L581.9 140.5L586.3 139.3M577.3 154.7L580.1 155.3L583.3 155.9L584.5 155.5M587.2 166.8L587.4 163.9L587.2 161.1L588.5 160.9M605.0 170.2L606.8 167.8L607.5 167.0L606.8 164.2M628.4 151.8L625.6 154.7L622.8 157.5L622.4 159.9L621.0 162.3L623.1 162.7L624.2 165.4L624.5 169.4L626.0 171.0L630.6 170.6L635.2 174.5L642.0 174.1L640.9 177.7L640.9 182.1L642.7 185.2L640.5 187.6L643.0 189.6L644.1 193.9M644.1 193.9L643.4 192.0L640.2 192.0L633.8 192.0L633.8 194.3L635.9 194.7L635.2 195.9L633.1 196.3L632.9 199.5L635.2 203.1L633.3 215.3M633.3 215.3L630.6 213.7L632.9 209.4L628.1 207.8L622.8 208.2L619.9 203.8L616.0 199.5L614.2 199.1M614.2 199.1L610.7 197.1L606.8 197.1L604.6 195.1L601.8 193.2M614.2 199.1L614.6 202.5L613.2 205.0L609.6 209.0L605.3 210.6L603.2 212.2L602.1 216.9L601.1 218.5L598.9 216.5L596.1 216.1L596.5 212.2M633.3 215.3L630.2 215.3L622.8 218.9L622.1 222.5L621.7 224.8L619.9 227.6L618.9 228.4L622.4 234.3L624.9 236.3L625.3 238.3L630.9 236.3L630.9 242.3L634.5 242.1M634.5 242.1L637.7 248.2L636.6 252.6L636.6 257.3L635.2 260.5L635.9 262.9L637.0 263.6L634.5 267.2L634.9 268.0M634.9 268.0L631.7 271.4M634.9 268.0L636.6 273.5L638.8 275.5L638.1 278.3L639.5 283.0L640.5 289.0L643.0 289.0M643.0 289.0L646.2 285.0L650.1 286.2L652.6 286.6L653.3 289.0L654.8 285.8L659.2 286.8M659.2 286.8L660.5 281.9L662.4 276.5L671.8 275.1L675.0 277.1L675.2 278.5M634.5 242.1L637.7 242.3L639.1 242.3L645.2 237.9L649.4 237.1L649.8 241.9L649.8 244.2L653.0 248.2L657.6 249.0L658.7 250.2L662.2 252.2L666.9 253.3L667.6 258.5L667.9 263.2L674.3 263.2L674.7 267.2L676.5 268.4L677.5 270.8L675.8 273.9L676.5 277.1L675.2 278.5M675.2 278.5L676.1 286.2L681.4 286.2L683.6 287.0L685.0 293.7L688.9 294.1L687.8 300.1M659.2 286.8L665.1 292.9L668.6 293.7L672.9 296.9L677.2 298.9L673.6 306.8L679.3 307.6L682.9 306.8L684.3 306.4L687.8 300.1M687.8 300.1L691.0 302.5L690.7 306.0L686.4 309.6L683.6 311.2L680.0 315.9L677.2 318.3M677.2 318.3L682.9 320.7L684.3 321.1L687.8 323.4L690.7 325.4L692.8 328.2L692.1 332.4M677.2 318.3L675.0 327.4L674.3 333.3M643.0 289.0L642.7 293.7L638.8 295.7L638.1 303.6L639.1 305.6L636.3 308.0L633.4 311.2L633.4 317.9L631.3 321.9L633.1 330.6L633.8 334.1L631.3 338.5L629.2 343.2L629.2 349.2L627.4 355.5L626.3 359.9L626.7 365.0L625.6 369.0L627.0 372.9L627.4 378.9L626.3 384.0L624.9 386.4L624.2 391.6L620.6 393.9L621.7 399.5L624.9 399.5L624.5 403.0L626.3 404.6L633.1 404.6L638.8 406.0M638.1 407.2L638.1 416.1M668.6 165.0L666.2 169.0L664.7 172.2L663.7 175.3L666.2 178.1M666.2 178.1L663.7 181.3L659.0 182.9L658.3 184.4L653.7 182.5L651.6 181.7L653.7 188.8L656.5 190.0L654.4 191.2L649.1 195.5L646.2 195.7L644.1 193.9M666.2 178.1L668.6 178.9L668.7 180.9L670.4 183.3L668.8 188.4L669.7 191.4L672.9 193.9L678.2 191.0L681.1 191.2M681.1 191.2L678.2 185.6L675.8 182.9L678.2 177.7L678.8 175.1M681.1 191.2L682.9 191.4L682.9 189.6L687.8 189.6M687.8 189.6L689.3 187.2L690.0 184.4L688.4 178.9L690.0 175.9M687.8 189.6L691.0 189.6L693.9 190.0L695.3 188.4L698.3 182.5M672.6 193.9L674.0 200.3L680.4 206.6L681.4 210.6L675.0 227.6M675.0 227.6L677.2 233.5L680.0 235.9L703.5 237.7M675.0 227.6L674.3 233.2L663.0 233.5M663.0 233.5L658.3 230.4L654.4 233.2L650.9 235.9L644.5 237.5M644.5 237.5L619.6 227.6M663.0 233.5L663.3 238.3L668.6 242.7L669.0 247.4L667.2 253.0M656.5 190.0L658.7 200.7L663.3 204.2L667.6 201.1L672.6 193.9M687.8 189.6L693.9 196.7L697.4 203.5M718.4 203.1L713.4 212.6L709.9 219.3M709.9 219.3L707.0 226.4L703.5 237.7M703.5 237.7L701.7 246.2L703.5 250.2M709.9 219.3L713.4 225.2L713.4 228.4L716.3 232.0L719.1 239.5M733.4 209.8L729.8 216.5L729.4 225.2L723.4 228.0L718.8 235.5L719.1 239.5M735.1 210.2L735.5 216.5L737.6 228.0M749.5 217.7L746.9 221.7L745.1 224.0L744.4 228.8L737.6 228.0M745.1 224.0L749.7 222.9L751.9 224.4L757.5 224.4M744.4 228.8L749.7 229.6L754.0 229.6L757.9 228.4M737.6 228.0L735.1 233.2L738.0 235.9L746.2 234.3L747.2 236.7L752.6 240.3M746.2 234.3L752.2 235.1L756.8 233.9M747.2 236.7L746.2 241.1L747.6 243.8L749.0 244.2M735.1 233.2L729.1 235.9L726.2 241.1L719.1 239.5M719.1 239.5L717.4 249.4L718.4 257.7M718.4 257.7L725.5 255.3L732.6 257.7L736.9 261.3L739.0 264.4L738.0 268.0L739.0 269.6L741.2 271.2M739.0 269.6L735.5 273.9L736.2 277.9L733.4 281.1L736.2 282.7M733.4 281.1L729.1 285.8L723.0 287.4M723.0 287.4L724.8 289.8M723.0 287.4L716.6 287.4L713.8 279.9L707.0 277.9L700.6 277.9M700.6 277.9L697.1 283.8L693.2 287.8L688.9 293.9M693.2 287.8L700.6 289.0L705.3 289.8L706.7 296.5L711.3 298.9M709.2 301.7L703.1 302.5L698.9 302.8L691.0 302.5M705.3 314.7L702.4 310.8L697.8 307.6L690.7 306.2M675.8 268.0L684.6 268.0L690.0 268.4L693.2 270.0M703.5 250.2L698.9 258.1L695.3 264.0L693.2 270.0M693.2 270.0L700.6 275.9L700.6 277.9M700.6 275.9L706.0 272.4L713.8 270.0L713.8 262.1L718.4 257.7M703.5 250.2L711.3 251.0L717.4 249.8M710.6 260.1L713.4 260.1L713.4 262.3L710.6 262.3L710.6 260.1M556.3 199.9L558.4 199.5L559.1 201.5L557.3 202.7L556.3 201.1L556.3 199.9M560.2 200.7L561.2 201.1L560.9 201.9L560.2 200.7M563.4 201.5L564.4 201.9L563.7 202.5L563.4 201.5M661.9 158.9L665.1 158.7L665.3 155.9L662.6 156.3L661.9 158.9M702.1 199.3L706.0 199.5L709.9 199.9L709.2 203.5L705.6 205.4L701.7 203.5L701.0 201.1L702.1 199.3M618.1 364.4L620.6 365.0L620.3 370.2L617.4 370.2L618.1 364.4M638.1 407.2L639.5 409.4L641.6 412.5L645.5 414.5L650.1 415.1L645.5 416.5L639.1 416.5L634.9 417.7L631.3 416.9L627.7 414.5L626.0 413.3L629.9 412.5L632.0 410.6L631.7 408.2L635.2 407.0L638.1 407.2M634.9 410.2L637.0 412.1L633.4 413.3M664.4 402.2L667.9 401.8L669.7 402.6L671.5 402.2L676.5 403.0L674.0 404.6L670.4 405.4L666.9 405.0L664.7 404.2L664.4 402.2M670.8 402.2L670.1 404.6M746.9 412.5L750.4 413.1L754.0 414.9L753.6 415.9L749.7 414.1L746.9 412.5M616.0 392.7L614.2 390.8L613.5 393.9L615.7 396.3L616.0 392.7M615.7 397.5L613.9 399.1L616.0 401.5L617.1 399.5L615.7 397.5M619.2 374.1L617.4 375.7L618.1 378.5L619.9 376.9L619.2 374.1M626.0 413.7L622.4 411.4L618.9 409.4L621.3 412.1L626.0 413.7M633.1 416.1L629.5 416.5L632.0 418.5L636.6 418.9L639.5 418.1L633.1 416.1M641.6 417.3L639.1 418.9L642.0 419.7L643.7 418.1L641.6 417.3M822.3 144.8L826.9 144.8L830.4 145.2L832.9 145.4L830.4 146.4L826.9 146.0L822.3 146.8M822.4 149.6L826.5 149.6L833.3 148.6L833.3 152.4L829.7 153.2L828.7 155.1M833.3 148.6L837.9 150.0L841.5 149.6L842.9 150.4M841.5 149.6L841.5 147.2L839.0 143.3L838.6 140.1L840.0 136.9M834.7 162.9L837.5 159.5L842.2 159.1L844.3 162.7L844.0 165.8L841.8 170.2L841.1 171.4M615.0 388.7L616.6 386.8L614.0 386.0L613.3 388.0L615.0 388.7M615.2 376.4L617.9 377.4L618.7 375.5L618.6 373.9L616.9 373.4L614.6 374.6L615.2 376.4M619.9 400.5L621.2 400.1L621.8 399.0L620.7 398.4L619.5 398.8L618.7 399.5L619.9 400.5M616.5 385.5L615.7 386.1L616.5 387.2L617.5 387.0L618.2 385.6L616.5 385.5M626.7 413.0L628.3 414.1L630.0 413.9L631.1 413.1L630.0 411.5L628.1 411.5L626.7 413.0M630.5 412.5L627.9 412.6L628.1 414.3L630.0 414.9L631.8 414.0L630.5 412.5M633.2 415.4L635.5 414.2L635.0 412.6L633.1 412.4L631.3 413.5L633.2 415.4M612.6 385.9L614.3 386.8L615.9 385.8L616.4 384.7L614.7 383.7L613.4 384.6L612.6 385.9M618.6 377.0L617.9 376.5L617.0 376.9L617.7 377.7L618.6 377.0M614.9 374.4L614.1 374.7L613.4 376.0L614.9 376.2L615.7 375.9L615.8 374.7L614.9 374.4M612.0 377.7L611.0 380.0L612.8 380.9L615.5 381.2L616.6 379.4L614.3 377.8L612.0 377.7M618.5 397.3L619.1 395.1L617.3 394.8L616.8 396.0L618.5 397.3M619.1 385.8L621.3 384.2L618.6 382.4L616.6 383.2L615.8 385.6L619.1 385.8M620.9 371.5L619.7 371.0L618.6 371.8L618.3 372.7L619.7 373.7L620.7 372.7L620.9 371.5M636.6 416.3L635.4 415.5L634.6 416.5L635.8 417.0L636.6 416.3M612.0 399.6L614.0 399.8L615.7 397.9L614.2 396.6L612.6 396.1L611.6 397.6L612.0 399.6M618.8 379.2L620.7 379.3L620.5 378.0L619.6 376.9L618.2 378.0L618.8 379.2M623.3 409.1L624.2 408.9L624.5 408.2L623.6 407.8L622.9 407.8L622.6 408.7L623.3 409.1M631.4 407.8L630.6 406.7L629.3 406.5L628.8 407.5L628.7 408.9L630.5 409.2L631.4 407.8M615.7 381.3L616.0 382.6L617.5 382.9L617.5 381.3L616.6 380.8L615.7 381.3M634.5 412.7L634.5 413.9L636.1 413.9L635.8 412.9L634.5 412.7M617.6 386.9L617.9 387.4L618.7 387.4L619.3 387.2L619.1 386.7L618.2 386.2L617.6 386.9M619.3 381.8L621.3 380.8L620.0 379.7L618.1 378.8L616.7 380.5L617.1 382.2L619.3 381.8M623.8 408.5L621.0 409.8L624.1 411.6L625.2 409.4L623.8 408.5M637.8 415.2L636.2 415.7L637.2 416.7L638.4 416.2L637.8 415.2M615.5 384.0L614.7 382.4L612.8 382.2L611.7 383.6L612.0 384.9L614.2 385.0L615.5 384.0M618.1 380.8L618.7 382.3L621.3 382.2L620.3 380.5L618.1 380.8M631.1 412.0L633.1 412.6L633.8 411.5L633.2 409.5L631.5 410.9L631.1 412.0M627.6 412.8L627.7 413.8L628.5 414.1L629.0 413.5L628.6 412.9L627.6 412.8M615.8 387.8L617.1 386.2L615.9 384.8L614.1 385.4L613.3 386.5L614.3 387.9L615.8 387.8M617.6 394.9L615.6 394.3L614.2 395.8L614.9 397.5L617.1 397.3L617.5 396.3L617.6 394.9M615.4 388.4L614.6 387.6L612.8 388.2L611.6 389.7L614.0 390.8L616.1 390.1L615.4 388.4M631.4 409.1L629.9 409.9L631.1 410.7L631.9 410.1L631.4 409.1M617.5 382.5L618.2 381.8L618.5 380.9L617.6 380.2L616.7 380.8L616.5 381.9L617.5 382.5M620.1 378.0L620.1 376.6L618.7 377.4L619.3 378.8L620.1 378.0M617.4 381.1L616.5 381.7L616.9 382.4L617.5 383.0L618.2 382.2L618.5 381.5L617.4 381.1M617.7 390.4L616.8 391.2L618.2 392.6L619.8 391.9L619.3 390.4L617.7 390.4M622.0 391.3L621.2 389.9L619.4 389.1L619.1 390.8L620.0 391.7L622.0 391.3M629.8 409.7L631.0 407.8L628.6 407.6L627.7 408.7L629.8 409.7M628.1 407.7L627.7 406.6L626.3 406.7L626.4 408.1L628.1 407.7M617.4 382.3L614.7 382.5L616.1 385.0L618.9 384.0L617.4 382.3M614.1 378.9L614.9 379.2L615.3 378.9L615.2 378.0L614.4 378.2L614.1 378.9M626.9 406.2L624.8 406.3L624.4 407.5L625.5 408.6L627.7 408.1L626.9 406.2M626.2 413.8L626.8 413.1L627.0 412.4L626.1 412.3L625.5 412.6L625.7 413.2L626.2 413.8M629.4 418.9L631.7 418.6L633.4 417.7L632.5 416.0L630.2 416.4L629.3 417.3L629.4 418.9M620.6 405.0L620.8 404.5L619.9 403.8L619.4 404.6L619.2 405.1L620.2 405.5L620.6 405.0M618.0 373.3L616.1 372.3L614.3 373.8L616.5 374.4L618.0 373.3M617.9 387.9L616.3 386.4L615.0 388.0L616.4 389.4L617.9 387.9M618.9 384.5L619.1 385.3L620.1 385.0L620.3 384.5L620.2 384.1L619.3 384.1L618.9 384.5M620.7 389.7L619.3 388.5L617.5 389.9L618.2 391.9L620.1 393.0L621.5 390.9L620.7 389.7M612.5 376.2L614.7 376.7L615.7 375.5L613.5 375.0L612.5 376.2M617.5 398.0L618.3 397.0L617.0 396.8L616.2 396.6L616.0 397.9L616.7 398.4L617.5 398.0M619.9 386.8L621.3 385.4L621.1 383.4L618.7 384.1L617.9 385.2L619.9 386.8M626.1 406.2L625.5 404.9L623.0 404.3L621.7 405.7L623.6 407.7L626.1 406.2M619.5 392.6L618.1 393.0L617.1 393.9L618.1 395.4L620.3 394.5L619.9 393.5L619.5 392.6M619.2 394.3L617.5 394.6L617.2 396.5L619.6 396.1L619.2 394.3M615.6 384.5L614.7 384.5L614.4 385.7L615.6 386.5L616.4 385.2L615.6 384.5M632.4 409.9L629.4 408.2L626.4 410.0L629.5 412.0L632.4 409.9M626.5 411.3L626.9 410.6L626.1 410.1L625.4 410.4L625.2 410.9L625.8 411.4L626.5 411.3M621.5 400.9L622.1 399.9L620.8 399.4L620.2 400.5L621.5 400.9M629.6 408.8L629.0 408.7L628.3 408.8L628.3 409.8L629.1 410.1L630.1 409.9L629.6 408.8M616.5 389.6L615.3 388.1L613.0 388.6L614.0 390.2L616.5 389.6M616.3 373.7L614.0 373.4L612.8 374.4L613.5 375.7L616.0 375.9L616.3 373.7M632.4 417.4L631.7 416.6L630.3 417.2L631.3 417.9L632.4 417.4M625.0 409.7L625.6 408.3L624.0 408.2L623.6 409.5L625.0 409.7M629.3 413.9L627.8 412.7L626.1 413.2L625.8 414.4L626.9 415.6L628.4 415.0L629.3 413.9M616.2 372.7L617.1 374.7L619.0 373.5L618.1 372.2L616.2 372.7M627.0 411.0L629.4 410.6L628.5 408.5L626.6 408.3L627.0 411.0M618.7 379.8L621.2 379.8L622.2 378.1L620.3 376.3L618.2 376.6L616.8 378.8L618.7 379.8M619.0 385.3L616.8 386.0L615.6 387.7L617.6 388.7L619.1 388.1L619.0 385.3M627.3 403.3L626.2 402.9L625.5 404.0L626.3 404.5L627.7 404.4L627.3 403.3M618.0 391.1L619.1 391.3L620.2 390.7L619.5 389.9L618.0 389.6L618.0 391.1M620.6 400.4L622.0 399.5L620.7 398.9L619.5 399.5L620.6 400.4M615.0 373.6L613.3 372.9L612.7 374.3L613.5 375.2L615.7 374.9L615.0 373.6M614.5 380.3L615.2 379.7L615.5 378.3L613.8 377.7L612.0 378.6L613.1 380.4L614.5 380.3M618.1 373.5L615.9 373.5L616.6 375.1L618.3 374.9L618.1 373.5M620.3 401.5L618.6 402.1L619.6 403.1L621.6 404.0L622.4 402.7L621.8 401.5L620.3 401.5M615.9 377.6L615.6 376.8L614.9 376.4L614.2 377.0L614.7 377.6L615.9 377.6M637.1 415.5L636.8 414.7L635.9 415.0L635.4 415.6L636.2 416.4L637.0 416.2L637.1 415.5M626.1 404.4L627.8 404.2L627.9 403.1L627.2 402.5L625.5 402.6L625.8 403.4L626.1 404.4M632.0 415.4L631.3 415.0L630.8 415.8L631.6 416.1L632.0 415.4M635.3 417.2L635.1 416.1L633.8 414.9L632.3 416.1L632.6 417.6L634.3 417.8L635.3 417.2M623.2 406.1L622.5 407.2L622.4 408.6L624.1 408.3L624.2 407.1L623.2 406.1M621.9 407.9L621.9 410.0L623.5 410.4L623.8 408.6L621.9 407.9M617.8 379.7L616.3 383.1L620.1 383.8L620.6 380.4L617.8 379.7M617.5 379.5L619.0 381.9L621.6 379.6L619.1 377.9L617.5 379.5M614.1 390.1L615.3 392.4L618.1 391.5L617.6 389.1L614.1 390.1M630.0 417.5L631.2 416.8L631.8 415.4L629.9 415.2L628.6 415.4L628.4 416.8L630.0 417.5M619.4 392.6L618.3 393.9L619.7 394.8L620.7 393.6L619.4 392.6M620.8 383.2L620.4 382.6L619.6 382.5L619.0 383.2L619.6 384.3L620.4 384.3L620.8 383.2M612.9 395.7L615.2 394.6L615.5 392.9L612.9 391.6L611.6 393.7L612.9 395.7M624.1 408.0L625.4 407.8L625.7 407.2L625.5 406.6L624.4 406.1L624.1 407.1L624.1 408.0M618.8 405.0L619.7 407.4L622.0 407.0L623.4 404.9L620.9 403.0L618.8 405.0M616.5 374.0L617.3 374.9L618.1 373.8L617.1 373.1L616.5 374.0M620.3 390.2L619.2 390.5L618.8 391.4L619.5 391.8L620.3 392.3L621.1 391.2L620.3 390.2"/><circle cx="787.8" cy="424.4" r="0.45" fill="#a8a0c8" stroke="none"/><circle cx="787.4" cy="427.6" r="0.45" fill="#a8a0c8" stroke="none"/><circle cx="787.1" cy="430.0" r="0.45" fill="#a8a0c8" stroke="none"/><circle cx="788.1" cy="432.3" r="0.45" fill="#a8a0c8" stroke="none"/><circle cx="785.3" cy="433.9" r="0.45" fill="#a8a0c8" stroke="none"/><circle cx="784.9" cy="421.6" r="0.45" fill="#a8a0c8" stroke="none"/></g><g transform="translate(0.0 0.0)">
<path fill="none" stroke="#101010" stroke-width="0.85" d="M510.0 251.4C512.0 251.7 518.0 252.6 522.0 253.4C526.0 254.3 529.7 255.3 534.1 256.4C538.4 257.6 543.4 259.1 548.1 260.4C552.8 261.8 558.1 263.3 562.2 264.5C566.2 265.6 569.2 266.1 572.2 267.5C575.2 268.8 577.7 270.4 580.2 272.5C582.7 274.6 585.6 278.0 587.2 279.9C588.9 281.8 588.5 282.0 590.0 283.7C591.5 285.4 594.1 287.7 596.2 289.9C598.3 292.1 600.4 294.5 602.5 296.8C604.6 299.1 606.6 301.3 608.7 303.6C610.8 305.9 612.8 308.3 614.9 310.5C617.0 312.7 619.2 314.8 621.1 316.7C623.0 318.6 624.5 320.3 626.1 321.7C627.8 323.1 629.6 324.0 631.0 325.0C632.4 326.0 633.7 326.3 634.2 327.9C634.7 329.5 633.7 332.4 633.8 334.8C633.9 337.2 634.1 339.9 634.6 342.2C635.1 344.5 635.8 346.6 636.7 348.5C637.6 350.4 638.5 351.9 639.8 353.4C641.0 354.8 642.6 356.3 644.2 357.2C645.8 358.1 647.6 358.8 649.2 359.0C650.9 359.2 652.6 359.2 654.1 358.7C655.6 358.2 657.1 357.1 658.5 355.9C659.9 354.7 661.0 353.2 662.2 351.6C663.5 350.0 664.8 348.0 666.0 346.0C667.2 344.0 668.4 341.7 669.7 339.7C671.1 337.7 672.4 335.7 674.1 334.1C675.8 332.6 678.0 331.3 679.7 330.4C681.5 329.5 682.9 329.1 684.6 328.5C686.3 327.9 688.6 327.3 690.0 326.7C691.4 326.1 691.2 325.7 693.1 325.1C694.9 324.5 698.4 323.4 701.1 323.1C703.8 322.9 706.1 323.0 709.1 323.5C712.1 324.0 715.8 324.9 719.1 326.1C722.5 327.4 726.2 329.5 729.2 331.2C732.2 332.8 734.7 334.9 737.2 336.2C739.7 337.5 741.1 338.6 744.2 338.8C747.4 339.0 753.1 338.5 756.3 337.6C759.5 336.6 760.8 334.6 763.3 333.2C765.8 331.8 768.3 330.3 771.3 329.2C774.3 328.0 778.4 327.3 781.4 326.1C784.4 325.0 787.1 323.5 789.4 322.1C791.7 320.8 794.1 319.5 795.4 318.1C796.8 316.8 797.4 315.9 797.4 314.1C797.4 312.3 796.4 309.9 795.4 307.1C794.4 304.2 792.7 300.1 791.4 297.0C790.1 294.0 788.3 291.0 787.4 289.0C786.5 287.0 786.5 287.3 785.8 285.0C785.1 282.7 784.1 278.8 783.4 275.5C782.6 272.2 781.7 267.1 781.4 265.5L781.4 265.5C782.2 265.7 784.4 266.9 786.4 267.1C788.4 267.2 790.9 267.2 793.4 266.5C795.9 265.7 798.8 264.3 801.4 262.4C804.1 260.6 806.8 257.4 809.5 255.4C812.1 253.4 814.2 251.7 817.5 250.4C820.8 249.1 825.4 248.2 829.5 247.4C833.7 246.6 838.6 246.2 842.6 245.8C846.6 245.4 851.8 245.1 853.6 245.0"/>
<path fill="none" stroke="#101010" stroke-width="0.85" d="M510.0 392.8C512.0 392.7 518.7 392.6 522.0 392.4C525.4 392.1 527.4 392.0 530.0 391.4C532.7 390.7 535.1 389.7 538.1 388.4C541.1 387.0 544.8 384.8 548.1 383.3C551.5 381.9 555.0 380.5 558.1 379.7C561.3 379.0 563.8 379.1 567.2 378.9C570.5 378.8 573.7 378.7 578.2 378.9C582.7 379.2 589.3 379.7 594.3 380.3C599.3 381.0 604.3 382.1 608.3 382.9C612.3 383.8 615.3 384.1 618.4 385.4C621.4 386.6 623.7 388.5 626.4 390.4C629.1 392.2 631.4 394.7 634.4 396.4C637.4 398.1 641.1 399.4 644.4 400.4C647.8 401.4 651.5 402.2 654.5 402.4C657.5 402.6 659.8 402.0 662.5 401.4C665.2 400.8 667.9 399.6 670.5 399.0C673.2 398.4 675.8 397.8 678.6 397.8C681.3 397.8 683.6 398.5 687.0 399.0C690.5 399.5 694.9 400.5 699.1 401.0C703.3 401.5 707.8 401.8 712.1 401.8C716.5 401.8 721.3 401.7 725.2 401.0C729.0 400.3 731.9 398.7 735.2 397.4C738.6 396.1 741.6 394.3 745.2 393.4C748.9 392.4 752.9 392.1 757.3 391.8C761.6 391.4 766.6 391.6 771.3 391.4C776.0 391.1 781.4 390.9 785.4 390.4C789.4 389.9 792.9 389.5 795.4 388.4C797.9 387.2 799.3 385.4 800.4 383.3C801.6 381.3 801.4 378.5 802.4 376.3C803.4 374.1 804.3 371.8 806.5 370.3C808.6 368.8 812.0 368.0 815.5 367.3C819.0 366.6 823.0 366.2 827.5 365.9C832.0 365.6 838.2 365.5 842.6 365.3C846.9 365.1 851.8 364.9 853.6 364.9"/>
<path fill="none" stroke="#101010" stroke-width="0.85" d="M622.5 256.0C623.0 255.6 624.9 255.2 626.2 255.4C627.6 255.6 629.4 256.5 630.6 257.3C631.9 258.1 633.4 259.6 633.7 260.4C634.0 261.2 633.5 262.3 632.5 262.3C631.5 262.3 629.1 261.1 627.5 260.4C625.9 259.7 623.9 258.6 623.1 257.9C622.3 257.2 622.0 256.4 622.5 256.0Z"/>
<path fill="none" stroke="#101010" stroke-width="0.85" d="M646.9 285.6C646.9 286.7 646.7 288.2 646.5 289.0C646.3 289.8 645.9 290.4 645.6 290.4C645.3 290.4 644.9 289.8 644.7 289.0C644.5 288.2 644.3 286.7 644.3 285.6C644.3 284.5 644.5 283.0 644.7 282.2C644.9 281.4 645.3 280.8 645.6 280.8C645.9 280.8 646.3 281.4 646.5 282.2C646.7 283.0 646.9 284.5 646.9 285.6Z"/>
<path fill="none" stroke="#101010" stroke-width="0.85" d="M643.0 301.1C643.0 301.6 642.9 302.3 642.8 302.5C642.6 302.7 642.4 302.7 642.2 302.5C642.1 302.3 642.0 301.6 642.0 301.1C642.0 300.6 642.1 299.9 642.2 299.7C642.4 299.5 642.6 299.5 642.8 299.7C642.9 299.9 643.0 300.6 643.0 301.1Z"/>
<path fill="none" stroke="#101010" stroke-width="0.85" d="M735.2 133.0C735.5 134.2 735.5 138.5 737.2 140.0C738.9 141.5 741.9 141.7 745.2 142.0C748.6 142.4 753.9 142.4 757.3 142.0C760.6 141.7 763.6 141.5 765.3 140.0C767.0 138.5 767.0 134.2 767.3 133.0"/>
<rect x="625.6" y="318.0" width="13.2" height="10" fill="#fff"/>
<text x="632.2" y="326.6" font-size="9.8" text-anchor="middle" fill="#1c1c1c">12</text>
<rect x="742.7" y="333.8" width="13.2" height="10" fill="#fff"/>
<text x="749.3" y="342.4" font-size="9.8" text-anchor="middle" fill="#1c1c1c">12</text>
<rect x="566.2" y="374.3" width="6.1" height="10" fill="#fff"/>
<text x="569.2" y="382.9" font-size="9.8" text-anchor="middle" fill="#1c1c1c">0</text>
<rect x="713.1" y="397.0" width="6.1" height="10" fill="#fff"/>
<text x="716.1" y="405.6" font-size="9.8" text-anchor="middle" fill="#1c1c1c">0</text>
</g></g>
<rect x="522.1" y="139.3" width="320.5" height="297.0" fill="none" stroke="#000" stroke-width="1.7"/>
<path d="M521.6 139.3h-3.6" stroke="#000" stroke-width="1.5"/>
<text class="ax" x="516.8" y="142.7" text-anchor="end">15N</text>
<path d="M521.6 159.1h-3.6" stroke="#000" stroke-width="1.5"/>
<text class="ax" x="516.8" y="162.5" text-anchor="end">10N</text>
<path d="M521.6 178.9h-3.6" stroke="#000" stroke-width="1.5"/>
<text class="ax" x="516.8" y="182.3" text-anchor="end">5N</text>
<path d="M521.6 198.7h-3.6" stroke="#000" stroke-width="1.5"/>
<text class="ax" x="516.8" y="202.1" text-anchor="end">EQ</text>
<path d="M521.6 218.5h-3.6" stroke="#000" stroke-width="1.5"/>
<text class="ax" x="516.8" y="221.9" text-anchor="end">5S</text>
<path d="M521.6 238.3h-3.6" stroke="#000" stroke-width="1.5"/>
<text class="ax" x="516.8" y="241.7" text-anchor="end">10S</text>
<path d="M521.6 258.1h-3.6" stroke="#000" stroke-width="1.5"/>
<text class="ax" x="516.8" y="261.5" text-anchor="end">15S</text>
<path d="M521.6 277.9h-3.6" stroke="#000" stroke-width="1.5"/>
<text class="ax" x="516.8" y="281.3" text-anchor="end">20S</text>
<path d="M521.6 297.7h-3.6" stroke="#000" stroke-width="1.5"/>
<text class="ax" x="516.8" y="301.1" text-anchor="end">25S</text>
<path d="M521.6 317.5h-3.6" stroke="#000" stroke-width="1.5"/>
<text class="ax" x="516.8" y="320.9" text-anchor="end">30S</text>
<path d="M521.6 337.3h-3.6" stroke="#000" stroke-width="1.5"/>
<text class="ax" x="516.8" y="340.7" text-anchor="end">35S</text>
<path d="M521.6 357.1h-3.6" stroke="#000" stroke-width="1.5"/>
<text class="ax" x="516.8" y="360.5" text-anchor="end">40S</text>
<path d="M521.6 376.9h-3.6" stroke="#000" stroke-width="1.5"/>
<text class="ax" x="516.8" y="380.3" text-anchor="end">45S</text>
<path d="M521.6 396.7h-3.6" stroke="#000" stroke-width="1.5"/>
<text class="ax" x="516.8" y="400.1" text-anchor="end">50S</text>
<path d="M521.6 416.5h-3.6" stroke="#000" stroke-width="1.5"/>
<text class="ax" x="516.8" y="419.9" text-anchor="end">55S</text>
<path d="M521.6 436.3h-3.6" stroke="#000" stroke-width="1.5"/>
<text class="ax" x="516.8" y="439.7" text-anchor="end">60S</text>
<path d="M526.5 436.8v3.2" stroke="#000" stroke-width="1.5"/>
<text class="ax axx" x="527.4" y="446.8" text-anchor="middle">100W</text>
<path d="M562.1 436.8v3.2" stroke="#000" stroke-width="1.5"/>
<text class="ax axx" x="563.0" y="446.8" text-anchor="middle">90W</text>
<path d="M597.6 436.8v3.2" stroke="#000" stroke-width="1.5"/>
<text class="ax axx" x="598.5" y="446.8" text-anchor="middle">80W</text>
<path d="M633.2 436.8v3.2" stroke="#000" stroke-width="1.5"/>
<text class="ax axx" x="634.1" y="446.8" text-anchor="middle">70W</text>
<path d="M668.7 436.8v3.2" stroke="#000" stroke-width="1.5"/>
<text class="ax axx" x="669.6" y="446.8" text-anchor="middle">60W</text>
<path d="M704.3 436.8v3.2" stroke="#000" stroke-width="1.5"/>
<text class="ax axx" x="705.2" y="446.8" text-anchor="middle">50W</text>
<path d="M739.9 436.8v3.2" stroke="#000" stroke-width="1.5"/>
<text class="ax axx" x="740.8" y="446.8" text-anchor="middle">40W</text>
<path d="M775.4 436.8v3.2" stroke="#000" stroke-width="1.5"/>
<text class="ax axx" x="776.3" y="446.8" text-anchor="middle">30W</text>
<path d="M811.0 436.8v3.2" stroke="#000" stroke-width="1.5"/>
<text class="ax axx" x="811.9" y="446.8" text-anchor="middle">20W</text>
<text class="hd pt" x="566.3" y="129.3" textLength="70.2" lengthAdjust="spacingAndGlyphs">cluster:</text>
<text class="hd pt" x="682.0" y="129.3" textLength="92.7" lengthAdjust="spacingAndGlyphs">membros:</text>
<text class="hd pt" x="646.1" y="129.3">2</text>
<text class="hd pt" x="786.1" y="129.3">3</text>
<clipPath id="c3"><rect x="63.5" y="493.8" width="320.5" height="297.0"/></clipPath>
<g clip-path="url(#c3)"><g transform="translate(0.0 0.0)">
<path fill="#1e50d2" d="M50 480H400V805H50Z"/>
<path fill="#483cc8" d="M50.0 778.0C52.3 778.5 60.7 780.2 64.0 781.3C67.3 782.3 68.0 783.0 70.0 784.3C72.0 785.6 74.6 787.3 76.0 789.3C77.4 791.2 78.1 794.9 78.5 796.0L50.0 796.0Z"/>
<path fill="#483cc8" d="M164.5 796.0C164.8 795.1 164.4 792.3 166.4 790.7C168.4 789.1 172.7 787.7 176.4 786.3C180.1 784.9 184.5 783.1 188.5 782.3C192.5 781.5 196.5 781.1 200.5 781.3C204.5 781.5 209.2 782.4 212.5 783.3C215.8 784.2 216.8 785.9 220.0 786.7C223.2 787.5 228.7 788.4 232.0 788.3C235.3 788.2 237.1 787.8 240.1 786.3C243.1 784.8 246.8 781.6 250.1 779.3C253.4 777.0 256.4 774.1 260.1 772.3C263.8 770.4 267.9 769.0 272.2 768.2C276.5 767.5 281.5 768.0 286.2 767.8C290.9 767.6 296.3 767.8 300.3 767.2C304.3 766.6 307.6 765.7 310.3 764.2C313.0 762.7 314.8 760.5 316.3 758.2C317.8 755.9 318.4 752.5 319.4 750.2C320.4 747.9 320.6 745.5 322.4 744.2C324.2 742.9 326.7 742.4 330.4 742.2C334.1 742.0 339.4 742.5 344.4 743.2C349.4 743.9 353.9 745.0 360.5 746.2C367.1 747.4 378.2 749.2 384.0 750.2C389.8 751.2 393.2 751.7 395.0 752.0L410.0 815.0L164.0 815.0Z"/>
<path fill="#7060dc" d="M271.0 796.0C271.2 795.1 271.0 792.7 272.2 790.7C273.4 788.8 275.5 785.9 278.2 784.3C280.9 782.7 283.8 781.9 288.2 781.3C292.6 780.7 299.3 780.9 304.3 780.7C309.3 780.5 314.4 780.5 318.4 779.9C322.4 779.3 325.4 778.9 328.4 777.3C331.4 775.7 334.1 772.1 336.4 770.3C338.7 768.4 340.0 766.9 342.4 766.2C344.8 765.5 348.0 765.5 350.5 766.2C353.0 766.9 356.1 768.4 357.5 770.3C358.9 772.1 358.9 775.0 358.9 777.3C358.9 779.6 358.1 782.1 357.5 784.3C356.9 786.5 355.9 788.8 355.5 790.7C355.1 792.7 355.1 795.1 355.0 796.0Z"/>
<path fill="#7060dc" d="M376.0 796.0C376.3 795.1 376.8 792.2 377.6 790.7C378.4 789.2 379.5 788.2 380.6 787.3C381.7 786.4 381.6 786.3 384.0 785.3C386.4 784.2 393.2 781.7 395.0 781.0L395.0 796.0Z"/>
<path fill="#1464d2" d="M50.0 757.0C52.3 757.7 60.3 759.7 64.0 761.2C67.7 762.7 69.0 764.4 72.0 766.2C75.0 768.1 78.4 770.6 82.1 772.3C85.8 774.0 90.4 775.5 94.1 776.3C97.8 777.1 100.5 777.6 104.2 777.3C107.9 777.0 112.2 775.8 116.2 774.3C120.2 772.8 124.2 770.1 128.2 768.2C132.2 766.4 136.6 764.5 140.3 763.2C144.0 761.9 147.0 760.7 150.3 760.2C153.7 759.7 156.7 759.7 160.4 760.2C164.1 760.7 168.4 761.9 172.4 763.2C176.4 764.5 180.1 767.0 184.4 768.2C188.8 769.5 193.8 770.5 198.5 770.7C203.2 770.9 208.9 769.6 212.5 769.2C216.1 768.8 216.8 768.7 220.0 768.2C223.2 767.7 228.0 767.5 232.0 766.2C236.0 764.9 240.1 762.2 244.1 760.2C248.1 758.2 252.1 756.0 256.1 754.2C260.1 752.4 264.2 750.7 268.2 749.2C272.2 747.7 277.2 746.7 280.2 745.2C283.2 743.7 284.7 742.1 286.2 740.1C287.7 738.1 288.2 735.3 289.2 733.1C290.2 730.9 290.8 728.5 292.3 727.1C293.8 725.7 295.6 724.9 298.3 724.5C301.0 724.1 304.6 724.1 308.3 724.5C312.0 724.9 315.7 726.0 320.4 727.1C325.1 728.2 331.0 729.9 336.4 731.1C341.8 732.3 347.1 733.3 352.5 734.1C357.9 734.9 363.2 735.6 368.5 736.1C373.8 736.6 379.6 736.9 384.0 737.1C388.4 737.3 393.2 737.4 395.0 737.5L410.0 737.0L410.0 470.0L40.0 470.0L40.0 757.0Z"/>
<path fill="#1e6eeb" d="M50.0 736.0C52.3 736.4 59.7 737.6 64.0 738.5C68.3 739.4 71.7 740.0 76.0 741.1C80.3 742.2 85.4 743.7 90.1 745.2C94.8 746.7 99.8 748.7 104.2 750.2C108.6 751.7 112.5 753.5 116.2 754.2C119.9 754.9 123.2 754.6 126.2 754.2C129.2 753.8 131.7 752.8 134.0 752.0C136.3 751.2 138.0 750.6 140.0 749.2C142.0 747.8 144.1 745.1 146.2 743.5C148.3 741.9 150.4 740.5 152.5 739.8C154.6 739.1 156.8 739.0 158.7 739.2C160.6 739.4 162.0 740.2 163.7 741.1C165.3 742.0 166.7 743.8 168.6 744.8C170.5 745.8 172.4 746.6 174.9 747.3C177.4 748.0 180.5 748.4 183.6 748.8C186.7 749.2 190.0 749.2 193.5 749.5C197.0 749.8 201.3 750.2 204.8 750.4C208.3 750.6 211.8 750.9 214.7 750.8C217.6 750.7 220.0 750.4 222.2 749.8C224.4 749.2 225.7 748.7 228.0 747.2C230.3 745.8 233.4 742.8 236.1 741.1C238.8 739.4 241.1 738.0 244.1 737.1C247.1 736.2 250.9 736.4 254.1 735.7C257.3 735.0 260.8 734.4 263.2 733.1C265.6 731.8 266.9 730.1 268.2 728.1C269.5 726.1 270.0 723.3 271.2 721.1C272.4 718.9 273.4 716.6 275.2 715.1C277.0 713.6 279.7 712.6 282.2 712.0C284.7 711.4 287.9 711.5 290.3 711.5C292.7 711.5 293.6 711.5 296.3 712.0C299.0 712.5 302.3 713.3 306.3 714.5C310.3 715.7 316.0 717.8 320.4 719.1C324.8 720.4 328.4 721.5 332.4 722.5C336.4 723.5 339.7 724.3 344.4 725.1C349.1 725.9 353.9 726.8 360.5 727.5C367.1 728.2 378.2 729.1 384.0 729.5C389.8 729.9 393.2 729.9 395.0 730.0L410.0 730.0L410.0 470.0L40.0 470.0L40.0 736.0Z"/>
<path fill="#3c96f5" d="M50.0 723.0C52.3 723.5 59.7 725.1 64.0 726.1C68.3 727.1 72.0 728.1 76.0 729.1C80.0 730.1 84.1 731.1 88.1 732.1C92.1 733.1 95.8 734.4 100.1 735.1C104.4 735.8 109.5 736.3 114.2 736.1C118.9 735.9 123.9 734.7 128.2 734.1C132.5 733.5 136.8 732.9 140.0 732.3C143.2 731.7 145.2 730.7 147.5 730.5C149.8 730.3 151.6 730.6 153.7 731.1C155.8 731.6 157.6 732.5 159.9 733.6C162.2 734.7 164.9 736.6 167.4 737.9C169.9 739.1 172.4 740.4 174.9 741.1C177.4 741.8 179.8 742.2 182.3 742.3C184.8 742.4 187.1 742.1 189.8 741.7C192.5 741.3 195.6 740.5 198.5 739.8C201.4 739.1 204.3 738.3 207.2 737.3C210.1 736.3 213.5 735.0 216.0 733.6C218.5 732.2 219.7 730.6 222.0 729.0C224.3 727.4 227.0 726.1 230.0 724.1C233.0 722.1 236.8 719.6 240.1 717.1C243.4 714.6 246.8 711.4 250.1 709.0C253.4 706.6 256.8 704.4 260.1 703.0C263.5 701.6 266.9 701.0 270.2 700.6C273.5 700.2 276.8 700.3 280.2 700.6C283.6 700.9 286.9 701.7 290.3 702.6C293.7 703.5 296.6 704.9 300.3 706.2C304.0 707.5 307.6 708.9 312.3 710.3C317.0 711.7 323.0 713.3 328.4 714.7C333.8 716.1 339.0 717.5 344.4 718.7C349.8 719.9 353.9 720.8 360.5 721.9C367.1 723.0 378.2 724.4 384.0 725.3C389.8 726.1 393.2 726.7 395.0 727.0L410.0 727.0L410.0 470.0L40.0 470.0L40.0 723.0Z"/>
<path fill="#78b9fa" d="M52.0 715.9C54.0 715.9 60.0 715.9 64.0 716.3C68.0 716.7 72.0 717.6 76.1 718.3C80.1 718.9 84.1 719.6 88.1 720.3C92.1 721.0 96.1 721.8 100.1 722.3C104.2 722.8 109.2 723.6 112.2 723.3C115.2 723.0 116.5 722.0 118.2 720.3C119.9 718.6 120.5 715.1 122.2 713.3C123.9 711.4 126.1 709.9 128.2 709.2C130.4 708.6 133.3 708.7 135.3 709.2C137.2 709.8 138.0 711.7 140.0 712.4C142.0 713.1 145.0 712.7 147.5 713.7C150.0 714.7 152.4 716.7 154.9 718.6C157.4 720.5 159.9 723.0 162.4 724.9C164.9 726.8 167.4 728.5 169.9 729.9C172.4 731.2 174.7 732.4 177.4 733.0C180.1 733.6 183.2 733.8 186.1 733.6C189.0 733.4 191.9 732.5 194.8 731.7C197.7 730.9 200.6 729.9 203.5 728.6C206.4 727.4 209.3 725.7 212.2 724.2C215.1 722.8 218.0 721.5 220.9 719.9C223.8 718.3 227.0 716.7 229.7 714.5C232.4 712.3 234.6 709.0 237.0 706.5C239.4 704.0 241.6 701.3 244.1 699.2C246.6 697.2 249.4 695.3 252.1 694.2C254.8 693.1 256.8 692.8 260.1 692.6C263.5 692.4 268.2 692.8 272.2 693.2C276.2 693.6 280.2 694.2 284.2 695.2C288.2 696.2 292.3 697.9 296.3 699.2C300.3 700.5 303.6 701.9 308.3 703.2C313.0 704.6 319.0 705.9 324.4 707.2C329.7 708.6 335.1 710.1 340.4 711.3C345.8 712.4 351.1 713.3 356.5 714.3C361.8 715.3 368.0 716.4 372.5 717.3C377.1 718.1 380.3 718.8 384.0 719.3C387.7 719.8 392.8 720.1 394.6 720.3L410.0 720.0L410.0 470.0L40.0 470.0L40.0 716.0Z"/>
<path fill="#ffe878" d="M52.0 625.5C54.0 625.4 60.7 625.3 64.0 624.9C67.4 624.4 69.4 623.1 72.0 622.9C74.7 622.6 77.4 622.9 80.1 623.5C82.7 624.1 85.6 624.8 88.1 626.5C90.6 628.2 92.8 631.5 95.1 633.5C97.5 635.5 99.3 637.0 102.1 638.5C105.0 640.0 109.2 641.1 112.2 642.5C115.2 644.0 117.7 645.5 120.0 647.3C122.3 649.1 124.1 651.2 126.2 653.5C128.3 655.8 130.6 658.5 132.5 661.0C134.4 663.5 136.0 666.0 137.4 668.5C138.8 671.0 140.3 673.5 141.2 676.0C142.1 678.5 142.4 680.9 143.0 683.4C143.6 685.9 144.1 688.5 144.9 690.9C145.7 693.3 146.2 695.5 147.7 698.0C149.2 700.5 151.4 703.5 153.7 706.2C155.9 708.9 158.5 711.9 161.2 714.3C163.9 716.7 167.0 718.9 169.9 720.5C172.8 722.1 175.7 723.5 178.6 724.2C181.5 724.9 184.4 725.1 187.3 724.9C190.2 724.7 193.1 723.9 196.0 723.0C198.9 722.1 201.9 720.8 204.8 719.3C207.7 717.8 210.6 716.1 213.5 714.3C216.4 712.5 219.9 710.6 222.2 708.7C224.5 706.8 225.9 705.0 227.5 703.0C229.1 701.0 230.6 698.2 232.0 696.5C233.4 694.8 234.7 693.8 236.0 692.5C237.3 691.2 238.1 690.1 240.1 688.5C242.1 686.9 245.4 684.2 248.1 683.2C250.8 682.1 253.1 682.1 256.1 682.1C259.1 682.1 262.5 682.5 266.2 683.2C269.8 683.8 274.2 685.0 278.2 686.2C282.2 687.3 285.9 688.8 290.2 690.2C294.6 691.5 299.3 692.9 304.3 694.2C309.3 695.5 315.0 697.0 320.4 698.2C325.7 699.4 331.1 700.2 336.4 701.2C341.8 702.2 347.1 703.3 352.5 704.2C357.8 705.1 363.3 705.8 368.5 706.6C373.8 707.5 379.6 708.6 384.0 709.2C388.3 709.9 392.8 710.4 394.6 710.6L410.0 710.0L410.0 470.0L40.0 470.0L40.0 625.0Z"/>
<path fill="#ffc03c" d="M52.0 608.0C54.0 608.2 60.0 608.3 64.0 608.8C68.0 609.4 72.0 610.5 76.1 611.4C80.1 612.4 84.4 613.1 88.1 614.4C91.8 615.8 94.8 617.4 98.1 619.5C101.5 621.5 104.8 624.1 108.2 626.5C111.5 628.8 116.2 632.0 118.2 633.5C120.2 635.0 118.7 634.4 120.0 635.5C121.3 636.6 123.9 637.9 126.2 639.9C128.5 641.9 131.2 644.6 133.7 647.3C136.2 650.0 138.7 653.1 141.2 656.0C143.7 658.9 146.3 662.2 148.6 664.8C150.9 667.4 153.2 669.5 154.9 671.6C156.6 673.7 157.8 675.0 158.6 677.2C159.4 679.4 159.8 682.4 159.9 684.7C160.1 687.0 159.3 688.9 159.5 691.0C159.7 693.1 160.0 695.3 160.8 697.5C161.6 699.7 162.8 702.2 164.3 704.3C165.8 706.4 167.8 708.3 169.9 709.9C172.0 711.5 174.4 712.8 176.7 713.7C179.0 714.6 181.2 715.4 183.5 715.5C185.8 715.6 188.3 714.8 190.4 714.3C192.5 713.8 194.0 713.3 196.0 712.4C198.0 711.5 200.2 710.2 202.3 708.7C204.4 707.2 206.6 705.4 208.5 703.7C210.4 702.0 212.2 700.0 213.5 698.7C214.8 697.4 214.9 696.9 216.0 695.9C217.1 694.9 218.3 694.3 220.0 692.8C221.7 691.3 224.0 689.3 226.0 687.2C228.0 685.1 229.9 682.7 232.0 680.1C234.2 677.6 237.1 674.6 239.1 672.1C241.1 669.6 242.7 666.9 244.1 665.1C245.4 663.2 246.6 661.7 247.1 661.1L247.1 661.1C247.9 661.2 249.9 660.8 252.1 661.7C254.3 662.5 257.1 664.5 260.1 666.1C263.2 667.7 266.8 669.6 270.2 671.1C273.5 672.6 276.5 674.0 280.2 675.1C283.9 676.2 287.9 677.1 292.3 677.7C296.6 678.4 301.6 678.6 306.3 679.1C311.0 679.6 316.0 680.2 320.4 680.7C324.7 681.2 329.4 681.7 332.4 682.1C335.4 682.6 335.4 683.2 338.4 683.2C341.4 683.2 347.7 683.0 350.5 682.1C353.2 681.3 353.9 679.8 354.9 678.1C355.8 676.5 356.1 674.5 356.1 672.1C356.0 669.8 355.4 666.4 354.5 664.1C353.5 661.7 352.5 660.1 350.5 658.1C348.5 656.1 344.9 653.9 342.4 652.0C339.9 650.2 337.2 648.1 335.4 647.0C333.6 645.9 332.9 647.1 331.4 645.5C329.9 644.0 327.5 640.4 326.4 637.5C325.3 634.7 324.6 631.5 324.8 628.5C324.9 625.5 325.8 622.3 327.4 619.5C329.0 616.6 331.6 613.5 334.4 611.4C337.2 609.3 340.8 607.8 344.4 606.8C348.1 605.8 353.1 605.5 356.5 605.4C359.8 605.3 361.8 605.7 364.5 606.4C367.2 607.1 369.3 608.8 372.5 609.4C375.8 610.1 380.3 610.2 384.0 610.4C387.7 610.7 392.8 610.9 394.6 611.0L410 610L410 470L40 470L40 608Z"/>
<path fill="#ffa000" d="M52.0 582.3C54.0 582.5 61.3 582.0 64.0 583.3C66.7 584.7 66.5 588.0 68.0 590.4C69.5 592.7 70.7 595.5 73.0 597.4C75.4 599.2 78.9 599.9 82.1 601.4C85.3 602.9 88.4 604.6 92.1 606.4C95.8 608.3 100.1 610.4 104.2 612.4C108.2 614.4 113.6 616.6 116.2 618.5C118.8 620.3 118.3 622.4 120.0 623.7C121.7 625.0 124.1 625.0 126.2 626.2C128.3 627.4 130.4 629.2 132.5 631.1C134.6 633.0 136.6 635.3 138.7 637.4C140.8 639.5 142.6 641.3 144.9 643.6C147.2 645.9 150.1 649.0 152.4 651.1C154.7 653.2 156.3 654.4 158.6 656.0C160.9 657.6 164.2 659.9 166.1 661.0C168.0 662.1 168.3 661.6 169.8 662.8C171.3 664.0 173.2 665.2 175.0 668.0C176.8 670.8 179.8 676.5 180.4 679.7C181.0 682.9 179.1 685.2 178.5 687.2C177.9 689.2 177.2 690.5 176.8 692.0C176.4 693.5 176.1 694.5 176.1 696.2C176.1 698.0 176.1 700.8 176.7 702.5C177.3 704.2 178.3 705.5 179.9 706.2C181.5 706.9 184.0 707.0 186.1 706.8C188.2 706.6 190.4 705.8 192.3 704.9C194.2 704.0 195.8 702.4 197.3 701.2C198.8 700.0 200.2 698.7 201.5 697.5C202.8 696.3 203.8 695.2 205.0 694.0C206.2 692.8 207.8 691.2 209.0 690.0C210.2 688.8 211.3 687.9 212.5 687.0C213.7 686.1 214.7 685.7 215.9 684.7C217.2 683.7 218.2 683.3 220.0 680.9C221.8 678.5 224.7 673.4 227.0 670.5C229.3 667.6 231.6 665.3 234.1 663.5C236.6 661.7 239.1 660.5 242.1 659.6C245.1 658.7 248.4 658.0 252.1 658.1C255.8 658.2 260.2 659.6 264.2 660.1C268.2 660.6 272.5 661.4 276.2 661.1C279.9 660.8 283.7 659.8 286.2 658.1C288.7 656.4 290.1 653.4 291.3 651.0C292.5 648.6 293.5 647.4 293.3 644.0C293.1 640.6 290.7 635.1 290.2 630.5C289.8 625.9 290.0 620.5 290.6 616.4C291.3 612.4 292.7 609.4 294.3 606.4C295.9 603.4 297.9 600.9 300.3 598.4C302.6 595.9 305.6 593.2 308.3 591.4C311.0 589.5 313.7 588.5 316.3 587.3C319.0 586.2 321.5 584.8 324.4 584.3C327.2 583.8 330.7 583.7 333.4 584.3C336.1 585.0 337.9 587.0 340.4 588.3C342.9 589.7 345.1 591.4 348.5 592.4C351.8 593.4 356.5 593.9 360.5 594.4C364.5 594.9 368.6 594.7 372.5 595.4C376.5 596.0 380.3 597.6 384.0 598.4C387.7 599.2 392.8 599.7 394.6 600.0L410.0 600.0L410.0 470.0L40.0 470.0L40.0 583.0Z"/>
<path fill="#ffc03c" d="M142.3 547.8C141.5 548.0 141.2 548.5 140.3 550.2C139.4 551.9 137.6 555.2 136.9 558.2C136.2 561.2 135.8 565.3 135.9 568.3C136.0 571.3 136.6 573.6 137.3 576.3C138.0 579.0 139.1 581.3 140.3 584.3C141.5 587.3 142.3 591.8 144.3 594.4C146.3 597.0 150.4 597.8 152.4 600.0C154.4 602.2 154.7 605.2 156.1 607.5C157.5 609.8 159.4 611.8 161.1 613.7C162.8 615.6 164.4 617.0 166.1 618.7C167.8 620.4 169.9 621.8 171.1 623.7C172.3 625.6 173.0 627.6 173.5 629.9C174.0 632.2 174.2 634.9 174.2 637.4C174.2 639.9 173.7 642.3 173.5 644.8C173.3 647.3 173.2 650.0 172.9 652.3C172.6 654.6 172.2 656.8 171.7 658.5C171.2 660.2 170.1 660.4 169.8 662.3C169.5 664.2 169.5 667.4 170.0 670.0C170.5 672.6 171.9 676.0 173.0 678.0C174.1 680.0 175.4 681.7 176.5 682.0C177.6 682.3 178.3 681.6 179.3 680.0C180.3 678.4 181.2 674.7 182.3 672.2C183.4 669.7 184.8 667.3 186.0 664.8C187.2 662.3 188.7 659.8 189.7 657.3C190.7 654.8 191.6 652.5 192.2 649.8C192.8 647.1 193.4 644.2 193.5 641.1C193.6 638.0 193.3 634.0 192.9 631.1C192.5 628.2 192.2 626.0 191.0 623.7C189.8 621.4 187.9 619.5 186.0 617.4C184.1 615.3 181.7 613.3 179.8 611.2C177.9 609.1 176.5 606.9 174.8 605.0C173.1 603.1 173.1 602.8 169.8 600.0C166.6 597.2 158.7 591.7 155.3 588.4C151.9 585.1 151.0 583.0 149.3 580.3C147.6 577.6 146.1 575.0 145.3 572.3C144.5 569.6 144.2 567.0 144.3 564.3C144.4 561.6 145.7 558.7 145.9 556.2C146.1 553.7 145.9 550.6 145.3 549.2C144.7 547.8 143.1 547.6 142.3 547.8Z"/>
<path fill="#ffc03c" d="M54.0 486.0C59.7 482.1 82.6 484.5 88.1 486.0C93.6 487.5 87.6 492.5 87.1 495.0C86.6 497.5 86.4 499.0 85.1 501.0C83.8 503.0 81.6 505.7 79.1 507.1C76.6 508.4 72.5 508.7 70.0 509.1C67.5 509.4 66.7 509.1 64.0 509.1C61.3 509.1 55.7 512.9 54.0 509.1C52.3 505.2 48.3 489.8 54.0 486.0Z"/>
<path fill="#ffc03c" d="M214.0 480.0C214.5 482.2 216.0 489.8 217.0 493.0C218.0 496.2 218.2 497.3 220.0 499.0C221.8 500.7 225.0 501.5 228.0 503.0C231.0 504.6 234.0 506.9 238.1 508.1C242.1 509.2 247.4 509.7 252.1 510.1C256.8 510.5 261.5 510.5 266.2 510.5C270.8 510.5 276.2 510.5 280.2 510.1C284.2 509.7 286.9 509.2 290.2 508.1C293.6 506.9 296.3 504.2 300.3 503.0C304.3 501.9 310.3 501.9 314.3 501.0C318.3 500.2 321.9 499.0 324.4 498.0C326.9 497.0 328.2 497.0 329.4 495.0C330.6 493.0 331.1 487.5 331.4 486.0Z"/>
<path fill="#ff6000" d="M188.5 536.6C187.4 536.7 187.1 537.1 186.4 538.2C185.8 539.3 185.8 542.7 184.4 543.2C183.1 543.7 180.4 541.7 178.4 541.2C176.4 540.6 174.7 539.4 172.4 539.8C170.1 540.1 167.0 541.8 164.4 543.2C161.7 544.6 158.3 546.0 156.3 548.2C154.3 550.4 153.3 553.6 152.3 556.2C151.3 558.9 150.8 561.6 150.3 564.3C149.8 566.9 149.1 569.6 149.3 572.3C149.5 575.0 150.2 577.6 151.3 580.3C152.5 583.0 154.2 585.8 156.3 588.3C158.5 590.9 161.5 593.4 164.4 595.4C167.2 597.3 171.1 598.4 173.5 600.0C175.9 601.6 176.6 603.1 178.5 605.0C180.4 606.9 182.7 609.1 184.8 611.2C186.9 613.3 189.2 615.1 191.0 617.4C192.8 619.7 194.4 622.2 195.3 624.9C196.2 627.6 196.0 630.5 196.2 633.6C196.3 636.7 196.3 640.3 196.2 643.6C196.0 646.9 195.6 650.4 195.3 653.5C195.0 656.6 194.7 659.6 194.5 662.3C194.3 665.0 194.1 667.4 194.1 669.7C194.1 672.0 193.8 675.4 194.7 676.0C195.6 676.6 197.8 674.5 199.7 673.5C201.6 672.5 203.8 671.0 205.9 669.7C208.0 668.5 210.3 667.2 212.2 666.0C214.1 664.8 215.8 663.3 217.1 662.3C218.4 661.3 218.2 661.1 220.0 660.2C221.8 659.3 225.7 658.8 228.0 657.1C230.3 655.4 232.1 652.2 234.1 650.0C236.1 647.8 237.4 645.4 240.1 643.6C242.8 641.9 247.1 640.4 250.1 639.5C253.1 638.6 255.4 638.5 258.1 638.5C260.8 638.5 264.5 640.2 266.2 639.5C267.9 638.8 268.2 637.3 268.2 634.5C268.2 631.7 267.0 626.5 266.2 622.5C265.4 618.5 263.9 614.4 263.2 610.4C262.5 606.4 262.7 602.1 262.2 598.4C261.7 594.7 261.5 591.4 260.1 588.4C258.8 585.4 256.4 582.6 254.1 580.3C251.8 577.9 248.8 576.6 246.1 574.3C243.4 572.0 240.4 569.1 238.1 566.3C235.8 563.4 234.0 559.9 232.0 557.2C230.0 554.5 227.9 552.1 226.0 550.2C224.1 548.3 222.8 546.8 220.6 545.6C218.3 544.4 215.2 543.6 212.5 543.2C209.8 542.8 207.2 543.7 204.5 543.2C201.8 542.7 198.5 541.2 196.5 540.2C194.5 539.2 193.8 537.8 192.5 537.2C191.2 536.6 189.5 536.4 188.5 536.6Z"/>
<path fill="#ff3200" d="M214.6 616.5C212.9 616.6 211.3 618.5 209.7 619.9C208.0 621.3 206.0 622.8 204.7 624.9C203.3 627.0 202.2 629.9 201.6 632.4C201.0 634.9 200.7 637.4 200.9 639.9C201.1 642.4 201.8 645.4 202.8 647.3C203.9 649.2 205.6 650.6 207.2 651.1C208.8 651.6 210.7 650.5 212.5 650.5C214.3 650.5 216.3 651.6 218.0 651.0C219.7 650.4 221.5 648.8 222.5 647.0C223.5 645.2 223.9 642.5 224.2 640.0C224.5 637.5 224.4 634.5 224.2 632.0C224.0 629.5 223.7 627.2 223.0 625.0C222.3 622.8 221.4 620.4 220.0 619.0C218.6 617.6 216.3 616.4 214.6 616.5Z"/>
<path fill="#ffe878" d="M163.3 611.0C163.5 610.3 165.4 609.4 166.7 609.3C168.0 609.2 169.8 609.9 171.1 610.6C172.4 611.3 174.0 612.8 174.5 613.7C175.0 614.6 175.0 615.9 174.2 616.2C173.4 616.5 171.2 616.1 169.8 615.6C168.4 615.1 166.6 614.2 165.5 613.4C164.4 612.6 163.1 611.7 163.3 611.0Z"/>
<path fill="#ffe878" d="M186.6 629.9C187.2 630.1 188.1 631.9 188.5 633.6C188.9 635.3 189.2 637.6 189.1 639.9C189.0 642.2 188.6 644.8 188.2 647.3C187.8 649.8 187.3 652.7 186.6 654.8C185.9 656.9 185.0 658.6 184.1 659.8C183.2 661.0 181.7 662.0 181.0 662.0C180.3 662.0 179.9 661.2 180.0 659.8C180.1 658.4 181.0 655.8 181.6 653.5C182.2 651.2 183.1 648.6 183.5 646.1C183.9 643.6 183.9 640.9 184.1 638.6C184.3 636.3 184.4 633.9 184.8 632.4C185.2 630.9 186.0 629.7 186.6 629.9Z"/>
</g><g fill="none" stroke="#a6a6a6" stroke-width="0.75" stroke-linejoin="round" stroke-linecap="round"><path d="M148.2 518.7L149.9 519.5L150.3 521.9L152.1 518.0L154.6 515.6L154.9 511.2L157.4 509.2L159.5 508.5L162.7 508.5L166.3 506.1L168.8 504.1L170.6 505.3L169.9 506.5L167.7 507.3L168.8 510.0L168.4 511.2L167.4 514.4L168.4 517.2L170.6 516.4L170.9 514.0L169.5 510.8L169.5 509.8L173.8 508.1L173.4 506.1L174.5 504.9L175.2 506.9L175.5 507.7L180.2 508.8L180.9 511.2L185.1 511.2L188.3 511.2L191.9 513.2L195.1 512.0L199.4 510.8L203.3 510.8L200.8 512.8L202.9 514.0L206.5 516.0L207.2 519.1L210.0 519.5L213.2 521.5L215.4 524.3L215.7 526.3L220.0 529.4L224.6 529.8L227.5 529.4L231.4 530.2L234.9 531.4L237.4 533.8L239.9 535.8L241.7 537.8L243.1 544.1L245.6 546.1L246.0 549.2L244.2 552.4L242.0 553.2L241.0 555.6L242.8 556.8L242.4 558.7L245.6 560.3L248.4 559.1L250.9 559.1L251.6 556.4L253.1 555.6L255.2 555.6L259.8 557.2L263.7 559.5L264.8 562.3L265.9 564.3L267.3 563.1L269.1 562.7L274.0 564.3L276.5 564.7L281.2 564.5L284.7 566.7L286.5 567.9L290.8 571.8L293.6 573.4L297.5 573.8L298.2 576.2L299.3 581.3L299.5 584.9L297.9 589.6L296.5 591.6L294.0 594.8L291.8 596.8L290.1 599.1L288.3 603.1L286.5 604.7L284.7 606.7L284.7 611.8L285.1 615.8L284.4 620.5L284.0 624.1L282.2 626.1L281.9 630.8L280.1 633.6L278.0 637.5L277.6 640.3L274.4 642.7L274.0 644.3L269.8 644.3L265.9 644.3L264.4 645.7L262.0 647.4L258.8 648.2L256.3 650.6L253.1 653.0L250.9 654.6L250.6 657.0L250.6 660.1L250.9 662.5L250.2 666.1L248.1 668.0L245.6 670.8L244.5 674.0L242.0 677.1L238.1 680.7L236.4 684.7L233.5 686.9L232.1 689.4L228.2 691.6L223.6 691.4L220.4 689.6L217.9 689.6L215.7 687.8L215.4 689.8L218.9 691.8L220.0 695.0L219.6 696.6L221.8 697.7L221.8 699.3L218.9 703.7L215.4 706.1L210.0 707.2L204.7 707.6L201.9 706.8L202.6 709.6L201.9 713.6L200.1 715.6L195.8 714.8L191.9 714.8L192.3 717.5L192.3 719.9L194.7 720.7L197.2 720.7L197.2 722.7L194.7 723.1L192.3 722.7L192.3 724.7L191.2 729.4L190.1 731.4L185.5 732.2L183.4 735.4L185.1 737.7L189.4 740.1L189.1 742.9L184.4 745.7L183.0 748.4L180.2 752.0L178.0 754.8L177.3 757.5L180.2 760.5L176.3 761.1L171.6 762.3L171.3 765.9L167.7 766.2L166.3 764.3L162.7 763.9L162.0 761.5L158.5 760.3L160.3 757.1L156.7 755.2L158.5 752.0L154.9 749.2L158.1 746.1L154.9 743.3L157.8 741.7L154.6 738.5L158.5 735.4L161.7 733.8L159.5 731.4L162.7 728.2L163.8 724.7L164.5 720.7L163.5 718.7L160.6 718.7L161.3 711.6L162.0 705.7L161.7 700.5L163.5 698.5L164.9 693.8L168.1 686.7L168.8 683.9L169.1 679.5L168.4 673.2L169.5 671.6L169.1 667.6L171.3 660.5L172.3 657.3L172.7 653.8L173.1 646.7L172.3 644.7L173.8 640.7L173.9 633.2L173.4 626.5L169.9 622.9L164.9 619.3L160.3 616.6L156.0 613.8L152.4 609.4L151.7 608.2L152.4 606.3L149.2 601.1L147.1 596.8L145.3 592.8L143.9 589.2L142.5 585.7L139.3 580.5L135.7 577.0L134.7 573.8L134.3 571.8L135.7 568.6L137.9 566.7L139.3 563.1L139.3 561.9L137.9 563.9L135.7 562.3L136.4 557.2L138.6 553.2L138.9 550.0L142.8 546.9L144.6 542.9L147.8 542.5L149.6 537.8L147.8 536.6L148.5 531.4L147.8 526.7L146.4 524.7L148.2 518.7M91.6 491.4L95.5 495.8L98.4 498.2L101.2 498.2L104.1 499.7L108.7 500.9L111.2 500.5L111.9 501.7L111.5 502.1L115.1 505.3L117.9 508.8L118.7 510.0L118.3 513.2L120.8 515.2L121.9 514.0L122.6 515.6L125.8 517.6L125.8 519.9L127.5 519.9L128.6 520.7L131.1 520.3L132.9 521.5L135.4 523.1L135.7 524.7L137.5 524.3L138.9 523.5L137.5 520.7L139.6 519.1L140.7 517.8L144.3 519.1L145.3 520.3L144.6 521.5L146.4 524.7M127.9 491.8L127.7 493.8L126.8 496.6L127.5 497.8L126.5 501.7L125.8 505.7L125.9 509.6L128.3 513.6L131.1 516.8L132.5 517.6L134.7 518.4L136.1 518.0L138.9 516.4L140.7 515.2L142.8 516.0L146.0 516.8L148.2 518.7M362.9 491.8L361.2 495.0L363.7 497.8L363.7 500.1L363.8 504.1L366.5 506.1L368.3 508.5L370.1 509.6L371.1 511.6L374.7 515.6L376.5 519.5L377.5 522.3L378.9 523.9L382.5 525.9L385.0 528.3M95.5 495.8L95.9 493.4L97.3 491.4M103.0 498.8L104.8 497.0L105.7 496.2L106.2 493.0M105.7 496.2L108.7 498.0L111.2 498.2L111.5 500.1M113.0 501.7L115.1 500.5L117.6 497.8L121.1 495.4L123.3 495.0L127.7 493.8M118.7 509.2L121.5 509.8L124.7 510.4L125.9 510.0M128.6 521.3L128.8 518.4L128.6 515.6L129.9 515.4M146.4 524.7L148.2 522.3L148.9 521.5L148.2 518.7M169.8 506.3L167.0 509.2L164.2 512.0L163.8 514.4L162.4 516.8L164.5 517.2L165.6 519.9L165.9 523.9L167.4 525.5L172.0 525.1L176.6 529.0L183.4 528.6L182.3 532.2L182.3 536.6L184.1 539.7L181.9 542.1L184.4 544.1L185.5 548.4M185.5 548.4L184.8 546.5L181.6 546.5L175.2 546.5L175.2 548.8L177.3 549.2L176.6 550.4L174.5 550.8L174.3 554.0L176.6 557.6L174.7 569.8M174.7 569.8L172.0 568.2L174.3 563.9L169.5 562.3L164.2 562.7L161.3 558.3L157.4 554.0L155.6 553.6M155.6 553.6L152.1 551.6L148.2 551.6L146.0 549.6L143.2 547.7M155.6 553.6L156.0 557.0L154.6 559.5L151.0 563.5L146.7 565.1L144.6 566.7L143.5 571.4L142.5 573.0L140.3 571.0L137.5 570.6L137.9 566.7M174.7 569.8L171.6 569.8L164.2 573.4L163.5 577.0L163.1 579.3L161.3 582.1L160.3 582.9L163.8 588.8L166.3 590.8L166.7 592.8L172.3 590.8L172.3 596.8L175.9 596.6M175.9 596.6L179.1 602.7L178.0 607.1L178.0 611.8L176.6 615.0L177.3 617.4L178.4 618.1L175.9 621.7L176.3 622.5M176.3 622.5L173.1 625.9M176.3 622.5L178.0 628.0L180.2 630.0L179.5 632.8L180.9 637.5L181.9 643.5L184.4 643.5M184.4 643.5L187.6 639.5L191.5 640.7L194.0 641.1L194.7 643.5L196.2 640.3L200.6 641.3M200.6 641.3L201.9 636.4L203.8 631.0L213.2 629.6L216.4 631.6L216.6 633.0M175.9 596.6L179.1 596.8L180.5 596.8L186.6 592.4L190.8 591.6L191.2 596.4L191.2 598.7L194.4 602.7L199.0 603.5L200.1 604.7L203.6 606.7L208.3 607.8L209.0 613.0L209.3 617.7L215.7 617.7L216.1 621.7L217.9 622.9L218.9 625.3L217.2 628.4L217.9 631.6L216.6 633.0M216.6 633.0L217.5 640.7L222.8 640.7L225.0 641.5L226.4 648.2L230.3 648.6L229.2 654.6M200.6 641.3L206.5 647.4L210.0 648.2L214.3 651.4L218.6 653.4L215.0 661.3L220.7 662.1L224.3 661.3L225.7 660.9L229.2 654.6M229.2 654.6L232.4 657.0L232.1 660.5L227.8 664.1L225.0 665.7L221.4 670.4L218.6 672.8M218.6 672.8L224.3 675.2L225.7 675.6L229.2 677.9L232.1 679.9L234.2 682.7L233.5 686.9M218.6 672.8L216.4 681.9L215.7 687.8M184.4 643.5L184.1 648.2L180.2 650.2L179.5 658.1L180.5 660.1L177.7 662.5L174.8 665.7L174.8 672.4L172.7 676.4L174.5 685.1L175.2 688.6L172.7 693.0L170.6 697.7L170.6 703.7L168.8 710.0L167.7 714.4L168.1 719.5L167.0 723.5L168.4 727.4L168.8 733.4L167.7 738.5L166.3 740.9L165.6 746.1L162.0 748.4L163.1 754.0L166.3 754.0L165.9 757.5L167.7 759.1L174.5 759.1L180.2 760.5M179.5 761.7L179.5 770.6M210.0 519.5L207.6 523.5L206.1 526.7L205.1 529.8L207.6 532.6M207.6 532.6L205.1 535.8L200.4 537.4L199.7 538.9L195.1 537.0L193.0 536.2L195.1 543.3L197.9 544.5L195.8 545.7L190.5 550.0L187.6 550.2L185.5 548.4M207.6 532.6L210.0 533.4L210.1 535.4L211.8 537.8L210.2 542.9L211.1 545.9L214.3 548.4L219.6 545.5L222.5 545.7M222.5 545.7L219.6 540.1L217.2 537.4L219.6 532.2L220.2 529.6M222.5 545.7L224.3 545.9L224.3 544.1L229.2 544.1M229.2 544.1L230.7 541.7L231.4 538.9L229.8 533.4L231.4 530.4M229.2 544.1L232.4 544.1L235.3 544.5L236.7 542.9L239.7 537.0M214.0 548.4L215.4 554.8L221.8 561.1L222.8 565.1L216.4 582.1M216.4 582.1L218.6 588.0L221.4 590.4L244.9 592.2M216.4 582.1L215.7 587.7L204.4 588.0M204.4 588.0L199.7 584.9L195.8 587.7L192.3 590.4L185.9 592.0M185.9 592.0L161.0 582.1M204.4 588.0L204.7 592.8L210.0 597.2L210.4 601.9L208.6 607.5M197.9 544.5L200.1 555.2L204.7 558.7L209.0 555.6L214.0 548.4M229.2 544.1L235.3 551.2L238.8 558.0M259.8 557.6L254.8 567.1L251.3 573.8M251.3 573.8L248.4 580.9L244.9 592.2M244.9 592.2L243.1 600.7L244.9 604.7M251.3 573.8L254.8 579.7L254.8 582.9L257.7 586.5L260.5 594.0M274.8 564.3L271.2 571.0L270.8 579.7L264.8 582.5L260.2 590.0L260.5 594.0M276.5 564.7L276.9 571.0L279.0 582.5M290.9 572.2L288.3 576.2L286.5 578.5L285.8 583.3L279.0 582.5M286.5 578.5L291.1 577.4L293.3 578.9L298.9 578.9M285.8 583.3L291.1 584.1L295.4 584.1L299.3 582.9M279.0 582.5L276.5 587.7L279.4 590.4L287.6 588.8L288.6 591.2L294.0 594.8M287.6 588.8L293.6 589.6L298.2 588.4M288.6 591.2L287.6 595.6L289.0 598.3L290.4 598.7M276.5 587.7L270.5 590.4L267.6 595.6L260.5 594.0M260.5 594.0L258.8 603.9L259.8 612.2M259.8 612.2L266.9 609.8L274.0 612.2L278.3 615.8L280.4 618.9L279.4 622.5L280.4 624.1L282.6 625.7M280.4 624.1L276.9 628.4L277.6 632.4L274.8 635.6L277.6 637.2M274.8 635.6L270.5 640.3L264.4 641.9M264.4 641.9L266.2 644.3M264.4 641.9L258.0 641.9L255.2 634.4L248.4 632.4L242.0 632.4M242.0 632.4L238.5 638.3L234.6 642.3L230.3 648.4M234.6 642.3L242.0 643.5L246.7 644.3L248.1 651.0L252.7 653.4M250.6 656.2L244.5 657.0L240.3 657.3L232.4 657.0M246.7 669.2L243.8 665.3L239.2 662.1L232.1 660.7M217.2 622.5L226.0 622.5L231.4 622.9L234.6 624.5M244.9 604.7L240.3 612.6L236.7 618.5L234.6 624.5M234.6 624.5L242.0 630.4L242.0 632.4M242.0 630.4L247.4 626.9L255.2 624.5L255.2 616.6L259.8 612.2M244.9 604.7L252.7 605.5L258.8 604.3M252.0 614.6L254.8 614.6L254.8 616.8L252.0 616.8L252.0 614.6M97.7 554.4L99.8 554.0L100.5 556.0L98.7 557.2L97.7 555.6L97.7 554.4M101.6 555.2L102.6 555.6L102.3 556.4L101.6 555.2M104.8 556.0L105.8 556.4L105.1 557.0L104.8 556.0M203.3 513.4L206.5 513.2L206.7 510.4L204.0 510.8L203.3 513.4M243.5 553.8L247.4 554.0L251.3 554.4L250.6 558.0L247.0 559.9L243.1 558.0L242.4 555.6L243.5 553.8M159.5 718.9L162.0 719.5L161.7 724.7L158.8 724.7L159.5 718.9M179.5 761.7L180.9 763.9L183.0 767.0L186.9 769.0L191.5 769.6L186.9 771.0L180.5 771.0L176.3 772.2L172.7 771.4L169.1 769.0L167.4 767.8L171.3 767.0L173.4 765.1L173.1 762.7L176.6 761.5L179.5 761.7M176.3 764.7L178.4 766.6L174.8 767.8M205.8 756.7L209.3 756.3L211.1 757.1L212.9 756.7L217.9 757.5L215.4 759.1L211.8 759.9L208.3 759.5L206.1 758.7L205.8 756.7M212.2 756.7L211.5 759.1M288.3 767.0L291.8 767.6L295.4 769.4L295.0 770.4L291.1 768.6L288.3 767.0M157.4 747.2L155.6 745.3L154.9 748.4L157.1 750.8L157.4 747.2M157.1 752.0L155.3 753.6L157.4 756.0L158.5 754.0L157.1 752.0M160.6 728.6L158.8 730.2L159.5 733.0L161.3 731.4L160.6 728.6M167.4 768.2L163.8 765.9L160.3 763.9L162.7 766.6L167.4 768.2M174.5 770.6L170.9 771.0L173.4 773.0L178.0 773.4L180.9 772.6L174.5 770.6M183.0 771.8L180.5 773.4L183.4 774.2L185.1 772.6L183.0 771.8M363.7 499.3L368.3 499.3L371.8 499.7L374.3 499.9L371.8 500.9L368.3 500.5L363.7 501.3M363.8 504.1L367.9 504.1L374.7 503.1L374.7 506.9L371.1 507.7L370.1 509.6M374.7 503.1L379.3 504.5L382.9 504.1L384.3 504.9M382.9 504.1L382.9 501.7L380.4 497.8L380.0 494.6L381.4 491.4M376.1 517.4L378.9 514.0L383.6 513.6L385.7 517.2L385.4 520.3L383.2 524.7L382.5 525.9M156.4 743.2L158.0 741.3L155.4 740.5L154.7 742.5L156.4 743.2M156.6 730.9L159.3 731.9L160.1 730.0L160.0 728.4L158.3 727.9L156.0 729.1L156.6 730.9M161.3 755.0L162.6 754.6L163.2 753.5L162.1 752.9L160.9 753.3L160.1 754.0L161.3 755.0M157.9 740.0L157.1 740.6L157.9 741.7L158.9 741.5L159.6 740.1L157.9 740.0M168.1 767.5L169.7 768.6L171.4 768.4L172.5 767.6L171.4 766.0L169.5 766.0L168.1 767.5M171.9 767.0L169.3 767.1L169.5 768.8L171.4 769.4L173.2 768.5L171.9 767.0M174.6 769.9L176.9 768.7L176.4 767.1L174.5 766.9L172.7 768.0L174.6 769.9M154.0 740.4L155.7 741.3L157.3 740.3L157.8 739.2L156.1 738.2L154.8 739.1L154.0 740.4M160.0 731.5L159.3 731.0L158.4 731.4L159.1 732.2L160.0 731.5M156.3 728.9L155.5 729.2L154.8 730.5L156.3 730.7L157.1 730.4L157.2 729.2L156.3 728.9M153.4 732.2L152.4 734.5L154.2 735.4L156.9 735.7L158.0 733.9L155.7 732.3L153.4 732.2M159.9 751.8L160.5 749.6L158.7 749.3L158.2 750.5L159.9 751.8M160.5 740.3L162.7 738.7L160.0 736.9L158.0 737.7L157.2 740.1L160.5 740.3M162.3 726.0L161.1 725.5L160.0 726.3L159.7 727.2L161.1 728.2L162.1 727.2L162.3 726.0M178.0 770.8L176.8 770.0L176.0 771.0L177.2 771.5L178.0 770.8M153.4 754.1L155.4 754.3L157.1 752.4L155.6 751.1L154.0 750.6L153.0 752.1L153.4 754.1M160.2 733.7L162.1 733.8L161.9 732.5L161.0 731.4L159.6 732.5L160.2 733.7M164.7 763.6L165.6 763.4L165.9 762.7L165.0 762.3L164.3 762.3L164.0 763.2L164.7 763.6M172.8 762.3L172.0 761.2L170.7 761.0L170.2 762.0L170.1 763.4L171.9 763.7L172.8 762.3M157.1 735.8L157.4 737.1L158.9 737.4L158.9 735.8L158.0 735.3L157.1 735.8M175.9 767.2L175.9 768.4L177.5 768.4L177.2 767.4L175.9 767.2M159.0 741.4L159.3 741.9L160.1 741.9L160.7 741.7L160.5 741.2L159.6 740.7L159.0 741.4M160.7 736.3L162.7 735.3L161.4 734.2L159.5 733.3L158.1 735.0L158.5 736.7L160.7 736.3M165.2 763.0L162.4 764.3L165.5 766.1L166.6 763.9L165.2 763.0M179.2 769.7L177.6 770.2L178.6 771.2L179.8 770.7L179.2 769.7M156.9 738.5L156.1 736.9L154.2 736.7L153.1 738.1L153.4 739.4L155.6 739.5L156.9 738.5M159.5 735.3L160.1 736.8L162.7 736.7L161.7 735.0L159.5 735.3M172.5 766.5L174.5 767.1L175.2 766.0L174.6 764.0L172.9 765.4L172.5 766.5M169.0 767.3L169.1 768.3L169.9 768.6L170.4 768.0L170.0 767.4L169.0 767.3M157.2 742.3L158.5 740.7L157.3 739.3L155.5 739.9L154.7 741.0L155.7 742.4L157.2 742.3M159.0 749.4L157.0 748.8L155.6 750.3L156.3 752.0L158.5 751.8L158.9 750.8L159.0 749.4M156.8 742.9L156.0 742.1L154.2 742.7L153.0 744.2L155.4 745.3L157.5 744.6L156.8 742.9M172.8 763.6L171.3 764.4L172.5 765.2L173.3 764.6L172.8 763.6M158.9 737.0L159.6 736.3L159.9 735.4L159.0 734.7L158.1 735.3L157.9 736.4L158.9 737.0M161.5 732.5L161.5 731.1L160.1 731.9L160.7 733.3L161.5 732.5M158.8 735.6L157.9 736.2L158.3 736.9L158.9 737.5L159.6 736.7L159.9 736.0L158.8 735.6M159.1 744.9L158.2 745.7L159.6 747.1L161.2 746.4L160.7 744.9L159.1 744.9M163.4 745.8L162.6 744.4L160.8 743.6L160.5 745.3L161.4 746.2L163.4 745.8M171.2 764.2L172.4 762.3L170.0 762.1L169.1 763.2L171.2 764.2M169.5 762.2L169.1 761.1L167.7 761.2L167.8 762.6L169.5 762.2M158.8 736.8L156.1 737.0L157.5 739.5L160.3 738.5L158.8 736.8M155.5 733.4L156.3 733.7L156.7 733.4L156.6 732.5L155.8 732.7L155.5 733.4M168.3 760.7L166.2 760.8L165.8 762.0L166.9 763.1L169.1 762.6L168.3 760.7M167.6 768.3L168.2 767.6L168.4 766.9L167.5 766.8L166.9 767.1L167.1 767.7L167.6 768.3M170.8 773.4L173.1 773.1L174.8 772.2L173.9 770.5L171.6 770.9L170.7 771.8L170.8 773.4M162.0 759.5L162.2 759.0L161.3 758.3L160.8 759.1L160.6 759.6L161.6 760.0L162.0 759.5M159.4 727.8L157.5 726.8L155.7 728.3L157.9 728.9L159.4 727.8M159.3 742.4L157.7 740.9L156.4 742.5L157.8 743.9L159.3 742.4M160.3 739.0L160.5 739.8L161.5 739.5L161.7 739.0L161.6 738.6L160.7 738.6L160.3 739.0M162.1 744.2L160.7 743.0L158.9 744.4L159.6 746.4L161.5 747.5L162.9 745.4L162.1 744.2M153.9 730.7L156.1 731.2L157.1 730.0L154.9 729.5L153.9 730.7M158.9 752.5L159.7 751.5L158.4 751.3L157.6 751.1L157.4 752.4L158.1 752.9L158.9 752.5M161.3 741.3L162.7 739.9L162.5 737.9L160.1 738.6L159.3 739.7L161.3 741.3M167.5 760.7L166.9 759.4L164.4 758.8L163.1 760.2L165.0 762.2L167.5 760.7M160.9 747.1L159.5 747.5L158.5 748.4L159.5 749.9L161.7 749.0L161.3 748.0L160.9 747.1M160.6 748.8L158.9 749.1L158.6 751.0L161.0 750.6L160.6 748.8M157.0 739.0L156.1 739.0L155.8 740.2L157.0 741.0L157.8 739.7L157.0 739.0M173.8 764.4L170.8 762.7L167.8 764.5L170.9 766.5L173.8 764.4M167.9 765.8L168.3 765.1L167.5 764.6L166.8 764.9L166.6 765.4L167.2 765.9L167.9 765.8M162.9 755.4L163.5 754.4L162.2 753.9L161.6 755.0L162.9 755.4M171.0 763.3L170.4 763.2L169.7 763.3L169.7 764.3L170.5 764.6L171.5 764.4L171.0 763.3M157.9 744.1L156.7 742.6L154.4 743.1L155.4 744.7L157.9 744.1M157.7 728.2L155.4 727.9L154.2 728.9L154.9 730.2L157.4 730.4L157.7 728.2M173.8 771.9L173.1 771.1L171.7 771.7L172.7 772.4L173.8 771.9M166.4 764.2L167.0 762.8L165.4 762.7L165.0 764.0L166.4 764.2M170.7 768.4L169.2 767.2L167.5 767.7L167.2 768.9L168.3 770.1L169.8 769.5L170.7 768.4M157.6 727.2L158.5 729.2L160.4 728.0L159.5 726.7L157.6 727.2M168.4 765.5L170.8 765.1L169.9 763.0L168.0 762.8L168.4 765.5M160.1 734.3L162.6 734.3L163.6 732.6L161.7 730.8L159.6 731.1L158.2 733.3L160.1 734.3M160.4 739.8L158.2 740.5L157.0 742.2L159.0 743.2L160.5 742.6L160.4 739.8M168.7 757.8L167.6 757.4L166.9 758.5L167.7 759.0L169.1 758.9L168.7 757.8M159.4 745.6L160.5 745.8L161.6 745.2L160.9 744.4L159.4 744.1L159.4 745.6M162.0 754.9L163.4 754.0L162.1 753.4L160.9 754.0L162.0 754.9M156.4 728.1L154.7 727.4L154.1 728.8L154.9 729.7L157.1 729.4L156.4 728.1M155.9 734.8L156.6 734.2L156.9 732.8L155.2 732.2L153.4 733.1L154.5 734.9L155.9 734.8M159.5 728.0L157.3 728.0L158.0 729.6L159.7 729.4L159.5 728.0M161.7 756.0L160.0 756.6L161.0 757.6L163.0 758.5L163.8 757.2L163.2 756.0L161.7 756.0M157.3 732.1L157.0 731.3L156.3 730.9L155.6 731.5L156.1 732.1L157.3 732.1M178.5 770.0L178.2 769.2L177.3 769.5L176.8 770.1L177.6 770.9L178.4 770.7L178.5 770.0M167.5 758.9L169.2 758.7L169.3 757.6L168.6 757.0L166.9 757.1L167.2 757.9L167.5 758.9M173.4 769.9L172.7 769.5L172.2 770.3L173.0 770.6L173.4 769.9M176.7 771.7L176.5 770.6L175.2 769.4L173.7 770.6L174.0 772.1L175.7 772.3L176.7 771.7M164.6 760.6L163.9 761.7L163.8 763.1L165.5 762.8L165.6 761.6L164.6 760.6M163.3 762.4L163.3 764.5L164.9 764.9L165.2 763.1L163.3 762.4M159.2 734.2L157.7 737.6L161.5 738.3L162.0 734.9L159.2 734.2M158.9 734.0L160.4 736.4L163.0 734.1L160.5 732.4L158.9 734.0M155.5 744.6L156.7 746.9L159.5 746.0L159.0 743.6L155.5 744.6M171.4 772.0L172.6 771.3L173.2 769.9L171.3 769.7L170.0 769.9L169.8 771.3L171.4 772.0M160.8 747.1L159.7 748.4L161.1 749.3L162.1 748.1L160.8 747.1M162.2 737.7L161.8 737.1L161.0 737.0L160.4 737.7L161.0 738.8L161.8 738.8L162.2 737.7M154.3 750.2L156.6 749.1L156.9 747.4L154.3 746.1L153.0 748.2L154.3 750.2M165.5 762.5L166.8 762.3L167.1 761.7L166.9 761.1L165.8 760.6L165.5 761.6L165.5 762.5M160.2 759.5L161.1 761.9L163.4 761.5L164.8 759.4L162.3 757.5L160.2 759.5M157.9 728.5L158.7 729.4L159.5 728.3L158.5 727.6L157.9 728.5M161.7 744.7L160.6 745.0L160.2 745.9L160.9 746.3L161.7 746.8L162.5 745.7L161.7 744.7"/><circle cx="329.2" cy="778.9" r="0.45" fill="#a8a0c8" stroke="none"/><circle cx="328.8" cy="782.1" r="0.45" fill="#a8a0c8" stroke="none"/><circle cx="328.5" cy="784.5" r="0.45" fill="#a8a0c8" stroke="none"/><circle cx="329.5" cy="786.8" r="0.45" fill="#a8a0c8" stroke="none"/><circle cx="326.7" cy="788.4" r="0.45" fill="#a8a0c8" stroke="none"/><circle cx="326.3" cy="776.1" r="0.45" fill="#a8a0c8" stroke="none"/></g><g transform="translate(0.0 0.0)">
<path fill="none" stroke="#101010" stroke-width="0.85" d="M52.0 608.0C54.0 608.2 60.0 608.3 64.0 608.8C68.0 609.4 72.0 610.5 76.1 611.4C80.1 612.4 84.4 613.1 88.1 614.4C91.8 615.8 94.8 617.4 98.1 619.5C101.5 621.5 104.8 624.1 108.2 626.5C111.5 628.8 116.2 632.0 118.2 633.5C120.2 635.0 118.7 634.4 120.0 635.5C121.3 636.6 123.9 637.9 126.2 639.9C128.5 641.9 131.2 644.6 133.7 647.3C136.2 650.0 138.7 653.1 141.2 656.0C143.7 658.9 146.3 662.2 148.6 664.8C150.9 667.4 153.2 669.5 154.9 671.6C156.6 673.7 157.8 675.0 158.6 677.2C159.4 679.4 159.8 682.4 159.9 684.7C160.1 687.0 159.3 688.9 159.5 691.0C159.7 693.1 160.0 695.3 160.8 697.5C161.6 699.7 162.8 702.2 164.3 704.3C165.8 706.4 167.8 708.3 169.9 709.9C172.0 711.5 174.4 712.8 176.7 713.7C179.0 714.6 181.2 715.4 183.5 715.5C185.8 715.6 188.3 714.8 190.4 714.3C192.5 713.8 194.0 713.3 196.0 712.4C198.0 711.5 200.2 710.2 202.3 708.7C204.4 707.2 206.6 705.4 208.5 703.7C210.4 702.0 212.2 700.0 213.5 698.7C214.8 697.4 214.9 696.9 216.0 695.9C217.1 694.9 218.3 694.3 220.0 692.8C221.7 691.3 224.0 689.3 226.0 687.2C228.0 685.1 229.9 682.7 232.0 680.1C234.2 677.6 237.1 674.6 239.1 672.1C241.1 669.6 242.7 666.9 244.1 665.1C245.4 663.2 246.6 661.7 247.1 661.1L247.1 661.1C247.9 661.2 249.9 660.8 252.1 661.7C254.3 662.5 257.1 664.5 260.1 666.1C263.2 667.7 266.8 669.6 270.2 671.1C273.5 672.6 276.5 674.0 280.2 675.1C283.9 676.2 287.9 677.1 292.3 677.7C296.6 678.4 301.6 678.6 306.3 679.1C311.0 679.6 316.0 680.2 320.4 680.7C324.7 681.2 329.4 681.7 332.4 682.1C335.4 682.6 335.4 683.2 338.4 683.2C341.4 683.2 347.7 683.0 350.5 682.1C353.2 681.3 353.9 679.8 354.9 678.1C355.8 676.5 356.1 674.5 356.1 672.1C356.0 669.8 355.4 666.4 354.5 664.1C353.5 661.7 352.5 660.1 350.5 658.1C348.5 656.1 344.9 653.9 342.4 652.0C339.9 650.2 337.2 648.1 335.4 647.0C333.6 645.9 332.9 647.1 331.4 645.5C329.9 644.0 327.5 640.4 326.4 637.5C325.3 634.7 324.6 631.5 324.8 628.5C324.9 625.5 325.8 622.3 327.4 619.5C329.0 616.6 331.6 613.5 334.4 611.4C337.2 609.3 340.8 607.8 344.4 606.8C348.1 605.8 353.1 605.5 356.5 605.4C359.8 605.3 361.8 605.7 364.5 606.4C367.2 607.1 369.3 608.8 372.5 609.4C375.8 610.1 380.3 610.2 384.0 610.4C387.7 610.7 392.8 610.9 394.6 611.0"/>
<path fill="none" stroke="#101010" stroke-width="0.85" d="M50.0 736.0C52.3 736.4 59.7 737.6 64.0 738.5C68.3 739.4 71.7 740.0 76.0 741.1C80.3 742.2 85.4 743.7 90.1 745.2C94.8 746.7 99.8 748.7 104.2 750.2C108.6 751.7 112.5 753.5 116.2 754.2C119.9 754.9 123.2 754.6 126.2 754.2C129.2 753.8 131.7 752.8 134.0 752.0C136.3 751.2 138.0 750.6 140.0 749.2C142.0 747.8 144.1 745.1 146.2 743.5C148.3 741.9 150.4 740.5 152.5 739.8C154.6 739.1 156.8 739.0 158.7 739.2C160.6 739.4 162.0 740.2 163.7 741.1C165.3 742.0 166.7 743.8 168.6 744.8C170.5 745.8 172.4 746.6 174.9 747.3C177.4 748.0 180.5 748.4 183.6 748.8C186.7 749.2 190.0 749.2 193.5 749.5C197.0 749.8 201.3 750.2 204.8 750.4C208.3 750.6 211.8 750.9 214.7 750.8C217.6 750.7 220.0 750.4 222.2 749.8C224.4 749.2 225.7 748.7 228.0 747.2C230.3 745.8 233.4 742.8 236.1 741.1C238.8 739.4 241.1 738.0 244.1 737.1C247.1 736.2 250.9 736.4 254.1 735.7C257.3 735.0 260.8 734.4 263.2 733.1C265.6 731.8 266.9 730.1 268.2 728.1C269.5 726.1 270.0 723.3 271.2 721.1C272.4 718.9 273.4 716.6 275.2 715.1C277.0 713.6 279.7 712.6 282.2 712.0C284.7 711.4 287.9 711.5 290.3 711.5C292.7 711.5 293.6 711.5 296.3 712.0C299.0 712.5 302.3 713.3 306.3 714.5C310.3 715.7 316.0 717.8 320.4 719.1C324.8 720.4 328.4 721.5 332.4 722.5C336.4 723.5 339.7 724.3 344.4 725.1C349.1 725.9 353.9 726.8 360.5 727.5C367.1 728.2 378.2 729.1 384.0 729.5C389.8 729.9 393.2 729.9 395.0 730.0"/>
<path fill="none" stroke="#101010" stroke-width="0.85" d="M163.3 611.0C163.5 610.3 165.4 609.4 166.7 609.3C168.0 609.2 169.8 609.9 171.1 610.6C172.4 611.3 174.0 612.8 174.5 613.7C175.0 614.6 175.0 615.9 174.2 616.2C173.4 616.5 171.2 616.1 169.8 615.6C168.4 615.1 166.6 614.2 165.5 613.4C164.4 612.6 163.1 611.7 163.3 611.0Z"/>
<path fill="none" stroke="#101010" stroke-width="0.85" d="M186.6 629.9C187.2 630.1 188.1 631.9 188.5 633.6C188.9 635.3 189.2 637.6 189.1 639.9C189.0 642.2 188.6 644.8 188.2 647.3C187.8 649.8 187.3 652.7 186.6 654.8C185.9 656.9 185.0 658.6 184.1 659.8C183.2 661.0 181.7 662.0 181.0 662.0C180.3 662.0 179.9 661.2 180.0 659.8C180.1 658.4 181.0 655.8 181.6 653.5C182.2 651.2 183.1 648.6 183.5 646.1C183.9 643.6 183.9 640.9 184.1 638.6C184.3 636.3 184.4 633.9 184.8 632.4C185.2 630.9 186.0 629.7 186.6 629.9Z"/>
<rect x="176.9" y="711.0" width="13.2" height="10" fill="#fff"/>
<text x="183.5" y="719.6" font-size="9.8" text-anchor="middle" fill="#1c1c1c">12</text>
<rect x="337.4" y="679.2" width="13.2" height="10" fill="#fff"/>
<text x="344.0" y="687.8" font-size="9.8" text-anchor="middle" fill="#1c1c1c">12</text>
<rect x="117.2" y="750.2" width="6.1" height="10" fill="#fff"/>
<text x="120.2" y="758.8" font-size="9.8" text-anchor="middle" fill="#1c1c1c">0</text>
<rect x="287.2" y="706.5" width="6.1" height="10" fill="#fff"/>
<text x="290.3" y="715.1" font-size="9.8" text-anchor="middle" fill="#1c1c1c">0</text>
</g></g>
<rect x="63.5" y="493.8" width="320.5" height="297.0" fill="none" stroke="#000" stroke-width="1.7"/>
<path d="M63.0 493.8h-3.6" stroke="#000" stroke-width="1.5"/>
<text class="ax" x="58.2" y="497.2" text-anchor="end">15N</text>
<path d="M63.0 513.6h-3.6" stroke="#000" stroke-width="1.5"/>
<text class="ax" x="58.2" y="517.0" text-anchor="end">10N</text>
<path d="M63.0 533.4h-3.6" stroke="#000" stroke-width="1.5"/>
<text class="ax" x="58.2" y="536.8" text-anchor="end">5N</text>
<path d="M63.0 553.2h-3.6" stroke="#000" stroke-width="1.5"/>
<text class="ax" x="58.2" y="556.6" text-anchor="end">EQ</text>
<path d="M63.0 573.0h-3.6" stroke="#000" stroke-width="1.5"/>
<text class="ax" x="58.2" y="576.4" text-anchor="end">5S</text>
<path d="M63.0 592.8h-3.6" stroke="#000" stroke-width="1.5"/>
<text class="ax" x="58.2" y="596.2" text-anchor="end">10S</text>
<path d="M63.0 612.6h-3.6" stroke="#000" stroke-width="1.5"/>
<text class="ax" x="58.2" y="616.0" text-anchor="end">15S</text>
<path d="M63.0 632.4h-3.6" stroke="#000" stroke-width="1.5"/>
<text class="ax" x="58.2" y="635.8" text-anchor="end">20S</text>
<path d="M63.0 652.2h-3.6" stroke="#000" stroke-width="1.5"/>
<text class="ax" x="58.2" y="655.6" text-anchor="end">25S</text>
<path d="M63.0 672.0h-3.6" stroke="#000" stroke-width="1.5"/>
<text class="ax" x="58.2" y="675.4" text-anchor="end">30S</text>
<path d="M63.0 691.8h-3.6" stroke="#000" stroke-width="1.5"/>
<text class="ax" x="58.2" y="695.2" text-anchor="end">35S</text>
<path d="M63.0 711.6h-3.6" stroke="#000" stroke-width="1.5"/>
<text class="ax" x="58.2" y="715.0" text-anchor="end">40S</text>
<path d="M63.0 731.4h-3.6" stroke="#000" stroke-width="1.5"/>
<text class="ax" x="58.2" y="734.8" text-anchor="end">45S</text>
<path d="M63.0 751.2h-3.6" stroke="#000" stroke-width="1.5"/>
<text class="ax" x="58.2" y="754.6" text-anchor="end">50S</text>
<path d="M63.0 771.0h-3.6" stroke="#000" stroke-width="1.5"/>
<text class="ax" x="58.2" y="774.4" text-anchor="end">55S</text>
<path d="M63.0 790.8h-3.6" stroke="#000" stroke-width="1.5"/>
<text class="ax" x="58.2" y="794.2" text-anchor="end">60S</text>
<path d="M67.9 791.3v3.2" stroke="#000" stroke-width="1.5"/>
<text class="ax axx" x="68.8" y="801.3" text-anchor="middle">100W</text>
<path d="M103.5 791.3v3.2" stroke="#000" stroke-width="1.5"/>
<text class="ax axx" x="104.4" y="801.3" text-anchor="middle">90W</text>
<path d="M139.0 791.3v3.2" stroke="#000" stroke-width="1.5"/>
<text class="ax axx" x="139.9" y="801.3" text-anchor="middle">80W</text>
<path d="M174.6 791.3v3.2" stroke="#000" stroke-width="1.5"/>
<text class="ax axx" x="175.5" y="801.3" text-anchor="middle">70W</text>
<path d="M210.1 791.3v3.2" stroke="#000" stroke-width="1.5"/>
<text class="ax axx" x="211.0" y="801.3" text-anchor="middle">60W</text>
<path d="M245.7 791.3v3.2" stroke="#000" stroke-width="1.5"/>
<text class="ax axx" x="246.6" y="801.3" text-anchor="middle">50W</text>
<path d="M281.3 791.3v3.2" stroke="#000" stroke-width="1.5"/>
<text class="ax axx" x="282.2" y="801.3" text-anchor="middle">40W</text>
<path d="M316.8 791.3v3.2" stroke="#000" stroke-width="1.5"/>
<text class="ax axx" x="317.7" y="801.3" text-anchor="middle">30W</text>
<path d="M352.4 791.3v3.2" stroke="#000" stroke-width="1.5"/>
<text class="ax axx" x="353.3" y="801.3" text-anchor="middle">20W</text>
<text class="hd pt" x="107.7" y="483.8" textLength="70.2" lengthAdjust="spacingAndGlyphs">cluster:</text>
<text class="hd pt" x="223.4" y="483.8" textLength="92.7" lengthAdjust="spacingAndGlyphs">membros:</text>
<text class="hd pt" x="187.5" y="483.8">3</text>
<text class="hd pt" x="327.5" y="483.8">5</text>
<clipPath id="c4"><rect x="522.1" y="493.8" width="320.5" height="297.0"/></clipPath>
<g clip-path="url(#c4)"><g transform="translate(0.0 0.0)">
<path fill="#1e50d2" d="M510 480H860V805H510Z"/>
<path fill="#483cc8" d="M510.0 749.0C512.0 749.4 518.7 750.4 522.0 751.1C525.3 751.8 527.0 751.9 530.0 753.1C533.0 754.3 536.8 756.2 540.1 758.2C543.5 760.2 546.8 762.5 550.1 765.2C553.5 767.9 556.9 771.2 560.2 774.2C563.6 777.2 567.2 780.5 570.2 783.2C573.2 785.9 576.2 788.2 578.2 790.3C580.2 792.4 581.4 795.0 582.0 796.0L510.0 796.0Z"/>
<path fill="#483cc8" d="M667.5 796.0C667.2 794.2 666.2 788.8 665.5 785.3C664.8 781.8 663.5 778.6 663.5 775.2C663.5 771.9 664.3 768.0 665.5 765.2C666.7 762.4 668.3 759.9 670.5 758.2C672.7 756.5 675.5 755.7 678.6 755.1C681.7 754.5 685.2 754.0 689.0 754.4C692.8 754.8 696.4 756.1 701.1 757.4C705.8 758.7 711.8 760.5 717.1 762.4C722.5 764.2 727.8 766.6 733.2 768.5C738.6 770.4 743.9 772.0 749.3 773.5C754.6 775.0 759.9 776.5 765.3 777.5C770.6 778.5 776.0 779.0 781.4 779.5C786.8 780.0 792.0 780.5 797.4 780.5C802.8 780.5 808.1 780.2 813.5 779.5C818.9 778.8 824.6 777.7 829.5 776.5C834.4 775.3 838.4 773.6 842.6 772.5C846.9 771.4 852.9 770.4 855.0 770.0L870.0 815.0L667.0 815.0Z"/>
<path fill="#7060dc" d="M689.0 796.0C689.0 795.1 688.6 793.0 689.0 790.7C689.4 788.5 690.1 784.9 691.1 782.5C692.1 780.1 693.1 778.0 695.1 776.5C697.1 775.0 700.1 773.8 703.1 773.5C706.1 773.2 709.4 773.7 713.1 774.5C716.8 775.3 721.2 777.0 725.2 778.5C729.2 780.0 733.5 781.8 737.2 783.5C740.9 785.2 744.9 787.4 747.3 788.6C749.6 789.8 750.5 789.5 751.3 790.7C752.1 791.9 751.9 795.1 752.0 796.0Z"/>
<path fill="#7060dc" d="M784.0 796.0C784.2 795.1 783.2 792.1 785.4 790.7C787.6 789.3 792.7 788.4 797.4 787.5C802.1 786.6 808.1 786.5 813.5 785.5C818.9 784.5 824.6 782.7 829.5 781.5C834.4 780.3 838.4 779.4 842.6 778.5C846.9 777.6 852.9 776.4 855.0 776.0L870.0 815.0L784.0 815.0Z"/>
<path fill="#1464d2" d="M510.0 742.0C512.0 742.4 518.7 743.4 522.0 744.1C525.3 744.8 526.6 744.9 530.0 746.1C533.4 747.3 538.1 749.1 542.1 751.1C546.1 753.1 550.1 755.5 554.1 758.2C558.1 760.9 562.5 764.4 566.2 767.2C569.9 770.0 572.9 772.9 576.2 775.2C579.5 777.5 583.9 780.0 586.2 781.2C588.5 782.5 588.4 782.2 590.0 782.7C591.6 783.2 594.0 784.0 596.0 784.2C598.0 784.4 600.2 784.5 602.0 783.7C603.8 783.0 605.6 781.4 606.9 779.7C608.2 778.0 609.1 776.0 609.9 773.7C610.7 771.4 611.2 768.4 611.7 765.8C612.2 763.1 612.2 760.3 612.7 757.8C613.2 755.3 613.4 752.3 614.4 750.8C615.4 749.3 617.1 749.0 618.9 748.8C620.6 748.6 622.8 749.6 624.9 749.8C627.0 750.0 629.6 750.0 631.8 749.8C633.9 749.6 635.8 749.4 637.8 748.8C639.8 748.1 642.0 747.2 643.8 745.9C645.6 744.6 647.1 742.6 648.8 740.9C650.4 739.2 651.9 737.3 653.7 735.9C655.5 734.5 657.7 733.2 659.7 732.4C661.7 731.6 662.8 731.1 665.7 730.9C668.6 730.7 673.0 731.0 677.0 731.3C681.0 731.6 686.2 732.5 690.0 732.8C693.8 733.1 696.7 733.0 700.0 733.3C703.3 733.5 707.1 733.7 709.9 734.3C712.7 734.9 714.7 735.5 716.9 736.8C719.1 738.0 720.9 739.8 722.9 741.8C724.9 743.8 726.8 746.6 728.8 748.7C730.8 750.9 732.5 752.9 734.8 754.7C737.1 756.5 740.3 758.2 742.8 759.7C745.3 761.2 747.4 762.6 749.8 763.7C752.2 764.8 753.7 765.2 757.3 766.5C760.9 767.8 766.6 770.2 771.3 771.5C776.0 772.8 780.4 773.4 785.4 774.1C790.4 774.8 796.0 775.4 801.4 775.5C806.8 775.6 812.8 775.3 817.5 774.5C822.2 773.7 826.1 771.8 829.5 770.5C832.9 769.2 835.4 767.5 837.6 766.5C839.8 765.5 839.7 765.1 842.6 764.4C845.5 763.6 852.9 762.4 855.0 762.0L870.0 762.0L870.0 470.0L500.0 470.0L500.0 742.0Z"/>
<path fill="#1e6eeb" d="M510.0 737.0C512.0 737.3 518.7 738.2 522.0 738.7C525.3 739.2 526.6 739.2 530.0 740.1C533.4 741.0 538.1 742.4 542.1 744.1C546.1 745.8 550.1 747.8 554.1 750.1C558.1 752.5 562.7 756.3 566.2 758.2C569.7 760.1 572.5 760.3 575.0 761.5C577.5 762.7 578.9 764.0 581.2 765.3C583.5 766.6 586.2 768.5 588.7 769.1C591.2 769.7 594.0 769.6 596.2 769.1C598.4 768.6 600.2 767.6 601.8 766.0C603.3 764.4 604.6 762.2 605.5 759.7C606.4 757.2 606.7 754.1 607.1 751.0C607.5 747.9 607.6 744.6 608.0 741.1C608.4 737.6 608.7 733.2 609.2 729.9C609.7 726.6 610.4 723.4 611.1 721.1C611.8 718.8 612.7 717.3 613.6 716.2C614.5 715.1 615.8 714.3 616.7 714.3C617.6 714.3 618.4 715.0 619.2 716.2C620.0 717.5 620.8 719.7 621.7 721.8C622.6 723.9 623.7 726.5 624.8 728.6C625.9 730.7 627.1 732.8 628.5 734.2C629.9 735.7 631.6 736.7 632.9 737.3C634.1 737.9 634.9 737.9 636.0 737.8C637.1 737.7 638.3 737.5 639.8 736.7C641.2 735.9 643.1 734.5 644.7 733.0C646.4 731.5 648.0 729.1 649.7 727.4C651.4 725.7 652.8 724.1 654.7 723.0C656.6 721.9 658.6 721.0 660.9 720.5C663.2 720.0 665.7 719.9 668.4 719.9C671.1 719.9 673.4 720.2 677.0 720.3C680.6 720.4 686.5 720.2 690.0 720.4C693.5 720.6 695.4 720.9 698.0 721.4C700.6 721.9 703.2 722.6 705.9 723.3C708.5 724.0 711.6 724.7 713.9 725.8C716.2 726.9 718.1 728.3 719.9 729.8C721.7 731.3 723.2 733.0 724.9 734.8C726.5 736.6 728.0 738.8 729.8 740.8C731.6 742.8 733.6 745.0 735.8 746.8C738.0 748.6 740.5 750.3 742.8 751.7C745.1 753.1 747.3 754.1 749.8 755.2C752.3 756.3 755.2 757.4 757.7 758.2C760.2 759.0 762.7 759.6 764.7 760.2C766.8 760.8 766.9 760.8 770.0 761.7C773.1 762.6 778.8 764.5 783.4 765.5C788.0 766.5 792.7 767.3 797.4 767.5C802.1 767.7 807.5 767.4 811.5 766.9C815.5 766.4 818.7 765.5 821.5 764.4C824.3 763.3 826.9 761.9 828.5 760.4C830.1 758.9 831.4 756.9 831.2 755.4C831.0 753.9 829.8 752.2 827.5 751.4C825.2 750.6 821.2 750.6 817.5 750.4C813.8 750.2 808.9 750.5 805.5 750.0C802.1 749.5 798.9 748.5 797.4 747.4C795.9 746.3 795.9 745.2 796.4 743.4C796.9 741.5 798.5 739.1 800.4 736.3C802.2 733.4 805.0 729.6 807.5 726.3C810.0 723.0 812.8 719.1 815.5 716.3C818.2 713.5 820.5 711.3 823.5 709.3C826.5 707.3 830.4 705.4 833.6 704.2C836.8 703.0 839.0 702.9 842.6 702.2C846.2 701.5 852.9 700.4 855.0 700.0L870.0 700.0L870.0 470.0L500.0 470.0L500.0 737.0Z"/>
<path fill="#3c96f5" d="M510.0 732.5C512.2 732.8 519.6 733.4 523.0 734.1C526.4 734.8 527.6 735.5 530.5 736.6C533.4 737.7 537.1 739.5 540.4 740.9C543.7 742.3 547.1 743.8 550.4 745.3C553.7 746.8 557.4 748.4 560.3 749.6C563.2 750.9 565.3 751.9 567.8 752.8C570.2 753.7 572.5 753.8 575.0 754.8C577.5 755.8 580.0 757.7 582.5 758.5C585.0 759.3 587.6 759.9 589.9 759.7C592.2 759.5 594.5 758.4 596.2 757.2C597.9 756.0 599.0 754.6 599.9 752.3C600.8 750.0 601.4 746.6 601.8 743.5C602.2 740.4 602.2 737.1 602.4 733.6C602.6 730.1 602.7 725.9 603.0 722.4C603.3 718.9 603.6 715.5 604.3 712.4C605.0 709.3 606.0 705.9 607.4 703.7C608.8 701.5 610.5 700.2 612.4 699.3C614.3 698.4 616.6 698.4 618.6 698.5C620.6 698.6 622.8 698.9 624.2 700.0C625.7 701.1 626.5 702.8 627.3 704.9C628.1 707.0 628.6 710.1 629.2 712.4C629.8 714.7 630.1 716.8 631.0 718.6C631.9 720.4 633.3 722.2 634.8 723.0C636.3 723.8 638.1 724.0 639.8 723.6C641.4 723.2 643.1 721.6 644.7 720.5C646.4 719.4 647.8 717.9 649.7 716.8C651.6 715.7 653.4 714.6 655.9 714.0C658.4 713.4 661.5 713.0 665.0 713.0C668.5 713.0 672.8 713.7 677.0 714.0C681.2 714.3 686.2 714.8 690.0 714.9C693.8 715.0 696.7 714.7 700.0 714.9C703.3 715.1 707.1 715.3 709.9 715.9C712.7 716.5 714.7 717.2 716.9 718.4C719.1 719.5 721.2 721.1 722.9 722.8C724.6 724.5 725.6 726.8 726.9 728.8C728.2 730.8 729.3 732.8 730.8 734.8C732.3 736.8 733.8 739.0 735.8 740.8C737.8 742.6 740.5 744.4 742.8 745.8C745.1 747.2 747.3 748.2 749.8 749.2C752.3 750.2 755.2 751.1 757.7 751.7C760.2 752.3 762.7 752.6 764.7 752.7C766.8 752.8 767.9 752.9 770.0 752.2C772.1 751.5 774.7 750.0 777.4 748.4C780.1 746.8 783.6 744.9 786.4 742.4C789.2 739.9 792.1 736.3 794.4 733.3C796.7 730.3 798.5 727.6 800.4 724.3C802.2 721.0 803.6 716.8 805.5 713.3C807.4 709.8 809.2 706.1 811.5 703.2C813.8 700.4 816.5 698.1 819.5 696.2C822.5 694.3 825.6 693.1 829.5 691.8C833.4 690.5 838.4 689.2 842.6 688.2C846.9 687.2 852.9 686.4 855.0 686.0L870.0 686.0L870.0 470.0L500.0 470.0L500.0 732.0Z"/>
<path fill="#78b9fa" d="M510.0 727.0C512.2 727.2 519.6 727.8 523.0 728.5C526.4 729.2 527.6 730.0 530.5 731.0C533.4 732.0 537.1 733.5 540.4 734.7C543.7 735.9 547.1 737.1 550.4 738.4C553.7 739.6 557.0 741.0 560.3 742.2C563.6 743.5 567.4 744.9 570.3 745.9C573.2 746.9 575.3 747.9 577.8 748.4C580.3 748.9 583.3 749.2 585.2 749.0C587.1 748.8 588.3 748.6 589.0 747.2C589.7 745.9 589.7 743.4 589.6 740.9C589.5 738.4 588.7 735.3 588.4 732.2C588.1 729.1 587.9 725.3 587.7 722.2C587.5 719.1 587.1 716.0 587.1 713.5C587.1 711.0 587.2 709.2 587.7 707.3C588.2 705.4 588.8 704.1 590.0 702.2C591.2 700.3 593.1 697.7 595.0 695.9C596.9 694.1 598.9 692.7 601.2 691.6C603.5 690.5 606.0 689.6 608.7 689.1C611.4 688.6 614.7 688.4 617.4 688.5C620.1 688.6 622.6 689.0 624.9 689.7C627.2 690.4 629.5 691.5 631.1 692.8C632.8 694.0 633.5 695.6 634.8 697.2C636.0 698.8 637.6 700.7 638.6 702.2C639.6 703.8 639.1 705.4 641.0 706.5C642.9 707.6 646.6 708.4 649.7 708.7C652.8 709.0 656.6 708.5 659.7 708.4C662.8 708.3 665.5 707.9 668.4 708.0C671.3 708.1 673.4 708.9 677.0 709.2C680.6 709.5 686.2 709.9 690.0 709.9C693.8 709.9 696.7 709.6 700.0 709.4C703.3 709.2 706.8 708.7 709.9 708.9C713.0 709.1 716.2 709.6 718.9 710.4C721.6 711.2 723.9 712.5 725.9 713.9C727.9 715.3 729.6 717.1 730.8 718.9C731.9 720.7 731.8 722.8 732.8 724.8C733.8 726.8 735.1 728.8 736.8 730.8C738.5 732.8 740.6 735.1 742.8 736.8C745.0 738.5 747.3 739.9 749.8 740.8C752.3 741.7 755.2 742.2 757.7 742.3C760.2 742.4 762.7 741.7 764.7 741.3C766.8 740.9 767.2 740.3 770.0 739.8C772.8 739.3 777.8 740.0 781.4 738.4C785.0 736.8 788.7 733.0 791.4 730.3C794.1 727.6 795.5 725.6 797.4 722.3C799.2 719.0 800.8 714.0 802.5 710.3C804.2 706.6 805.3 702.8 807.5 700.2C809.7 697.6 812.5 696.1 815.5 694.5C818.5 692.9 822.1 691.7 825.5 690.5C828.9 689.3 832.8 688.2 835.6 687.5C838.5 686.8 839.4 686.6 842.6 686.0C845.8 685.4 852.9 684.3 855.0 684.0L870.0 680.0L870.0 470.0L500.0 470.0L500.0 727.0Z"/>
<path fill="#3c96f5" d="M520.0 678.7C523.1 676.7 527.9 677.8 530.5 678.0C533.1 678.2 534.4 678.8 535.4 679.9C536.4 681.0 536.8 682.8 536.7 684.9C536.6 687.0 534.8 690.1 534.8 692.4C534.8 694.7 535.4 696.7 536.7 698.6C538.1 700.5 541.0 702.1 542.9 703.6C544.8 705.1 547.0 706.7 547.9 707.9C548.8 709.1 549.0 710.2 548.5 711.0C548.0 711.8 546.6 712.9 544.8 712.9C543.0 712.9 540.3 711.7 537.9 711.0C535.5 710.3 533.5 709.6 530.5 708.5C527.5 707.4 523.1 707.3 520.0 704.2C516.9 701.1 512.0 694.2 512.0 690.0C512.0 685.8 516.9 680.7 520.0 678.7Z"/>
<path fill="#3c96f5" d="M550.1 641.5C550.6 640.4 552.2 638.8 554.1 638.1C556.0 637.4 559.0 637.1 561.2 637.5C563.4 637.9 566.0 639.3 567.2 640.5C568.4 641.7 568.9 643.5 568.2 644.6C567.5 645.7 565.4 646.7 563.2 647.0C561.0 647.3 557.1 647.0 555.1 646.6C553.1 646.2 551.9 645.5 551.1 644.6C550.3 643.8 549.6 642.6 550.1 641.5Z"/>
<path fill="#ffe878" d="M510.0 617.9C512.0 617.8 518.3 617.8 522.0 617.4C525.7 617.1 528.7 616.2 532.0 616.0C535.4 615.9 538.7 616.0 542.1 616.4C545.4 616.8 548.8 617.3 552.1 618.5C555.5 619.6 558.8 621.6 562.2 623.5C565.5 625.3 569.2 627.3 572.2 629.5C575.2 631.7 577.5 634.3 580.2 636.5C582.9 638.8 586.1 640.4 588.3 643.0C590.5 645.6 592.2 649.2 593.7 652.0C595.2 654.8 596.2 657.0 597.5 659.5C598.8 662.0 599.8 664.6 601.2 666.8C602.7 669.0 604.3 671.0 606.2 672.8C608.1 674.6 610.1 676.2 612.4 677.5C614.7 678.8 617.4 679.9 619.9 680.7C622.4 681.6 625.3 681.9 627.4 682.6C629.5 683.3 630.8 683.5 632.3 684.7C633.8 685.9 634.6 688.2 636.1 689.7C637.6 691.2 639.2 692.4 641.1 693.4C643.0 694.4 645.0 695.2 647.3 695.9C649.6 696.6 652.1 697.2 654.8 697.8C657.5 698.4 660.6 699.0 663.5 699.7C666.4 700.4 669.5 701.6 672.2 702.2C674.9 702.8 676.7 703.1 679.7 703.4C682.7 703.7 686.6 703.9 690.0 703.9C693.4 703.9 696.7 703.6 700.0 703.4C703.3 703.2 706.6 702.7 709.9 702.9C713.2 703.1 716.6 703.8 719.9 704.4C723.2 705.0 726.8 705.5 729.8 706.4C732.8 707.3 735.6 708.6 737.8 709.9C740.0 711.1 741.5 712.4 742.8 713.9C744.0 715.4 744.6 717.1 745.3 718.9C746.0 720.7 745.9 723.1 746.8 724.8C747.7 726.4 749.0 727.7 750.8 728.8C752.6 729.9 755.4 730.7 757.7 731.3C760.0 731.9 762.7 732.2 764.7 732.3C766.8 732.4 767.9 732.0 770.0 731.8C772.1 731.6 774.7 732.2 777.4 731.3C780.1 730.4 783.7 728.5 786.4 726.3C789.1 724.1 791.6 721.3 793.4 718.3C795.2 715.3 796.1 711.6 797.4 708.2C798.7 704.9 799.4 701.2 801.4 698.2C803.4 695.2 806.5 692.5 809.5 690.2C812.5 687.9 816.2 685.9 819.5 684.2C822.8 682.5 826.5 681.5 829.5 680.1C832.5 678.8 835.4 677.1 837.6 676.1C839.8 675.1 839.7 674.8 842.6 674.1C845.5 673.4 852.9 672.4 855.0 672.0L870.0 672.0L870.0 470.0L500.0 470.0L500.0 617.0Z"/>
<path fill="#ffc03c" d="M510.0 605.6C512.0 605.7 518.0 605.8 522.0 606.0C526.0 606.2 530.0 606.3 534.1 606.8C538.1 607.3 542.4 608.0 546.1 608.8C549.8 609.6 553.1 610.2 556.1 611.4C559.1 612.7 561.2 614.8 564.2 616.4C567.2 618.1 571.2 619.6 574.2 621.5C577.2 623.3 579.6 625.2 582.2 627.5C584.9 629.7 587.9 632.6 590.0 634.9C592.1 637.2 593.3 638.8 595.0 641.1C596.7 643.4 598.4 645.9 600.0 648.6C601.6 651.3 603.2 654.8 604.9 657.3C606.5 659.8 608.0 661.4 609.9 663.5C611.8 665.6 614.1 667.9 616.2 669.8C618.3 671.7 620.6 673.6 622.4 674.8C624.1 676.0 625.1 676.4 626.7 677.2C628.3 678.0 630.3 678.7 632.2 679.5C634.1 680.3 636.2 681.1 637.9 682.2C639.6 683.3 640.5 684.9 642.3 686.0C644.1 687.1 646.2 688.2 648.5 689.1C650.8 690.0 654.1 690.9 656.0 691.6C657.9 692.3 658.1 692.9 660.0 693.5C661.9 694.1 664.8 694.6 667.5 695.3C670.2 696.0 673.3 697.3 676.2 697.8C679.1 698.3 682.6 698.4 684.9 698.5C687.2 698.6 687.8 698.6 690.0 698.4C692.2 698.1 695.0 697.4 698.0 697.0C701.0 696.6 704.6 696.3 707.9 696.2C711.2 696.1 714.6 696.2 717.9 696.5C721.2 696.8 724.5 697.2 727.8 697.9C731.1 698.6 734.5 699.7 737.8 700.9C741.1 702.1 744.5 703.7 747.8 704.9C751.1 706.1 754.9 707.1 757.7 707.9C760.5 708.7 762.7 709.1 764.7 709.9C766.7 710.7 768.1 711.3 769.5 712.5C770.9 713.7 771.9 715.7 773.3 717.3C774.7 718.9 777.2 721.2 778.0 722.0L778.0 722.0C778.8 721.0 782.3 718.6 783.0 716.3C783.7 714.0 782.8 710.9 782.4 708.2C782.0 705.5 780.4 702.9 780.4 700.2C780.4 697.5 781.4 694.9 782.4 692.2C783.4 689.5 784.6 686.9 786.4 684.2C788.2 681.5 791.2 678.5 793.4 676.1C795.6 673.8 798.1 671.9 799.4 670.1C800.7 668.3 801.6 666.9 801.4 665.1C801.2 663.3 799.4 661.3 798.4 659.1C797.4 656.9 796.4 654.4 795.4 652.0C794.4 649.6 793.9 646.5 792.4 644.6C790.9 642.7 788.6 642.0 786.4 640.5C784.2 639.0 781.1 637.5 779.4 635.5C777.7 633.5 776.6 630.7 776.4 628.5C776.2 626.3 776.9 624.2 778.4 622.5C779.9 620.8 782.6 619.8 785.4 618.1C788.2 616.4 792.0 614.0 795.4 612.4C798.8 610.8 801.8 609.4 805.5 608.4C809.2 607.4 813.5 606.9 817.5 606.4C821.5 605.9 825.3 605.7 829.5 605.4C833.7 605.1 838.4 604.6 842.6 604.4C846.9 604.2 852.9 604.1 855.0 604.0L870 604L870 470L500 470L500 605Z"/>
<path fill="#ffa000" d="M510.0 595.0C512.0 595.0 518.3 595.0 522.0 595.4C525.7 595.8 528.4 596.7 532.0 597.4C535.7 598.0 539.7 599.0 544.1 599.4C548.4 599.8 554.0 600.0 558.1 600.0C562.3 600.0 566.8 598.3 569.2 599.4C571.5 600.5 571.5 603.9 572.2 606.4C572.9 608.9 572.2 611.9 573.2 614.4C574.2 616.9 576.0 619.3 578.2 621.5C580.4 623.6 584.3 626.5 586.2 627.5C588.2 628.5 588.5 626.8 590.0 627.4C591.5 628.0 593.1 629.5 595.0 631.2C596.9 632.9 599.1 635.1 601.2 637.4C603.3 639.7 605.3 642.4 607.4 644.9C609.5 647.4 611.6 650.0 613.7 652.3C615.8 654.6 617.8 656.9 619.9 658.6C622.0 660.3 624.5 661.6 626.1 662.3C627.7 663.0 627.9 661.8 629.2 662.8C630.5 663.8 632.4 665.6 634.0 668.0C635.6 670.4 637.6 675.0 638.6 677.2C639.6 679.4 638.8 679.8 639.8 681.0C640.8 682.2 642.7 683.7 644.8 684.7C646.9 685.7 649.8 686.7 652.3 687.2C654.8 687.8 657.5 687.6 660.0 688.0C662.5 688.4 664.7 689.0 667.0 689.5C669.3 690.0 671.3 690.4 673.7 690.8C676.1 691.1 678.7 691.6 681.2 691.6C683.7 691.6 686.3 691.6 688.6 691.0C690.9 690.4 692.8 688.9 694.9 687.9C697.0 686.9 698.6 685.5 701.1 684.8C703.6 684.1 706.9 683.3 709.8 683.5C712.7 683.7 715.6 685.2 718.5 686.0C721.4 686.8 724.5 688.0 727.2 688.5C729.9 689.0 732.4 689.3 734.7 689.1C737.0 688.9 739.2 688.3 740.9 687.2C742.6 686.1 743.9 684.4 744.7 682.3C745.5 680.2 745.6 677.9 745.9 674.8C746.2 671.7 746.3 667.5 746.5 663.6C746.7 659.7 747.0 655.2 747.2 651.1C747.4 647.0 747.8 642.6 747.8 638.7C747.8 634.9 747.6 631.0 747.5 628.0C747.4 625.0 747.2 623.4 747.3 620.5C747.4 617.6 747.6 613.4 748.3 610.4C749.0 607.4 750.1 604.9 751.3 602.4C752.5 599.9 753.6 597.1 755.3 595.4C757.0 593.7 758.3 592.7 761.3 592.4C764.3 592.1 769.3 593.4 773.3 593.4C777.3 593.4 782.4 593.1 785.4 592.4C788.4 591.7 790.4 591.1 791.4 589.4C792.4 587.7 791.1 584.6 791.4 582.3C791.7 579.9 792.2 577.1 793.4 575.3C794.6 573.5 796.5 571.8 798.4 571.3C800.2 570.8 803.0 571.1 804.5 572.3C806.0 573.5 807.3 576.0 807.5 578.3C807.7 580.6 805.5 583.6 805.5 586.3C805.5 589.0 805.5 592.5 807.5 594.4C809.5 596.2 813.8 596.7 817.5 597.4C821.2 598.1 825.3 598.4 829.5 598.4C833.7 598.4 838.4 597.6 842.6 597.4C846.9 597.2 852.9 597.1 855.0 597.0L870.0 597.0L870.0 470.0L500.0 470.0L500.0 595.0Z"/>
<path fill="#ffc03c" d="M601.3 547.8C600.3 548.0 599.4 548.5 598.3 550.2C597.2 551.9 595.6 555.2 594.9 558.2C594.2 561.2 593.7 564.9 593.9 568.3C594.1 571.6 595.7 575.3 596.3 578.3C596.9 581.3 598.0 584.1 597.3 586.3C596.6 588.5 593.5 589.7 592.3 591.4C591.1 593.1 590.1 594.7 589.9 596.4C589.7 598.1 590.2 600.4 591.3 601.4C592.4 602.4 594.8 602.7 596.3 602.4C597.8 602.1 599.0 600.1 600.3 599.4C601.6 598.7 602.8 597.7 604.3 598.4C605.8 599.1 607.1 601.5 609.3 603.4C611.5 605.3 615.2 608.3 617.4 610.0C619.6 611.7 620.5 612.2 622.4 613.7C624.3 615.2 627.0 616.8 628.6 618.7C630.2 620.6 631.6 622.6 632.3 624.9C633.0 627.2 633.0 629.7 633.0 632.4C633.0 635.1 632.5 638.2 632.3 641.1C632.1 644.0 631.9 647.1 631.7 649.8C631.5 652.5 631.5 655.2 631.1 657.3C630.7 659.4 629.4 660.5 629.2 662.3C629.0 664.1 629.4 665.7 630.0 668.0C630.6 670.3 631.9 673.9 633.0 676.0C634.1 678.1 635.5 680.2 636.5 680.5C637.5 680.8 638.5 679.6 639.0 678.0C639.5 676.4 639.0 673.2 639.8 671.0C640.5 668.8 642.0 666.9 643.5 664.8C645.0 662.7 647.0 660.9 648.5 658.6C650.0 656.3 651.5 653.8 652.3 651.1C653.1 648.4 653.2 645.3 653.5 642.4C653.8 639.5 654.1 636.4 654.1 633.7C654.1 631.0 654.2 628.5 653.5 626.2C652.8 623.9 651.5 621.9 649.8 620.0C648.1 618.1 645.4 616.7 643.5 615.0C641.6 613.3 640.5 611.6 638.6 610.0C636.8 608.4 635.1 607.7 632.4 605.4C629.7 603.1 625.4 599.2 622.4 596.4C619.4 593.6 616.6 591.1 614.3 588.4C611.9 585.7 609.9 583.0 608.3 580.3C606.7 577.6 605.5 575.0 604.7 572.3C603.9 569.6 603.3 567.0 603.3 564.3C603.3 561.6 604.5 558.7 604.7 556.2C604.9 553.7 604.9 550.6 604.3 549.2C603.7 547.8 602.3 547.6 601.3 547.8Z"/>
<path fill="#ffc03c" d="M512.0 526.7C513.7 521.0 519.2 526.7 522.0 527.1C524.9 527.5 526.9 527.8 529.0 529.1C531.2 530.5 533.4 532.7 535.1 535.2C536.7 537.7 537.2 541.5 539.1 544.2C540.9 546.9 543.3 549.4 546.1 551.2C548.9 553.1 552.8 554.6 556.1 555.2C559.5 555.9 563.7 555.7 566.2 555.2C568.7 554.7 570.0 552.2 571.2 552.2C572.4 552.2 573.2 553.7 573.2 555.2C573.2 556.7 572.7 559.6 571.2 561.3C569.7 562.9 567.0 564.4 564.2 565.3C561.3 566.1 557.5 566.6 554.1 566.3C550.8 565.9 547.4 564.1 544.1 563.3C540.7 562.4 537.7 561.6 534.1 561.3C530.4 560.9 525.7 561.3 522.0 561.3C518.3 561.3 513.7 567.0 512.0 561.3C510.3 555.5 510.3 532.4 512.0 526.7Z"/>
<path fill="#ffc03c" d="M700.1 486.0C700.2 487.5 699.9 492.8 701.1 495.0C702.3 497.2 704.4 497.9 707.1 499.0C709.8 500.2 713.8 500.9 717.1 502.0C720.5 503.2 724.2 504.6 727.2 506.1C730.2 507.6 732.2 510.0 735.2 511.1C738.2 512.1 741.6 512.8 745.2 512.5C748.9 512.1 753.6 509.6 757.3 509.1C761.0 508.5 763.6 508.7 767.3 509.1C771.0 509.4 775.7 510.3 779.4 511.1C783.0 511.8 787.1 513.9 789.4 513.7C791.7 513.5 792.7 512.0 793.4 510.1C794.1 508.1 794.3 504.6 793.8 502.0C793.3 499.5 791.1 497.7 790.4 495.0C789.7 492.3 789.6 487.5 789.4 486.0Z"/>
<path fill="#ffc03c" d="M715.4 676.7C715.4 677.6 714.8 678.7 713.9 679.3C713.1 679.9 711.6 680.4 710.4 680.4C709.2 680.4 707.7 679.9 706.9 679.3C706.0 678.7 705.4 677.6 705.4 676.7C705.4 675.8 706.0 674.7 706.9 674.1C707.7 673.5 709.2 673.0 710.4 673.0C711.6 673.0 713.1 673.5 713.9 674.1C714.8 674.7 715.4 675.8 715.4 676.7Z"/>
<path fill="#ff6000" d="M648.5 529.1C645.9 529.1 643.8 530.1 641.4 531.1C639.1 532.1 636.9 534.0 634.4 535.2C631.9 536.3 628.7 537.0 626.4 538.2C624.0 539.3 622.2 540.5 620.4 542.2C618.5 543.9 616.8 545.9 615.3 548.2C613.8 550.5 612.3 553.2 611.3 556.2C610.3 559.2 609.5 563.3 609.3 566.3C609.2 569.3 609.7 571.6 610.3 574.3C611.0 577.0 612.0 579.8 613.3 582.3C614.7 584.8 616.2 587.0 618.4 589.4C620.5 591.7 623.4 593.9 626.4 596.4C629.4 598.9 633.8 602.1 636.4 604.4C639.1 606.7 640.3 608.2 642.3 610.0C644.3 611.8 646.6 613.1 648.5 615.0C650.4 616.9 652.1 618.9 653.5 621.2C654.9 623.5 656.0 626.0 656.6 628.7C657.2 631.4 657.2 634.5 657.2 637.4C657.2 640.3 657.0 643.4 656.6 646.1C656.2 648.8 655.7 651.1 654.8 653.6C653.9 656.1 652.0 658.8 651.0 661.1C650.0 663.4 648.9 665.4 648.5 667.3C648.1 669.2 647.9 671.0 648.5 672.3C649.1 673.5 650.4 674.8 652.3 674.8C654.2 674.8 657.4 672.6 659.7 672.0C662.0 671.4 664.1 671.5 666.2 671.1C668.3 670.7 670.4 670.4 672.5 669.8C674.6 669.2 676.6 668.2 678.7 667.3C680.8 666.4 682.6 664.9 684.9 664.2C687.2 663.5 689.7 663.1 692.4 663.0C695.1 662.9 698.2 663.7 701.1 663.6C704.0 663.5 707.1 662.3 709.8 662.3C712.5 662.3 714.8 663.3 717.3 663.6C719.8 663.9 722.7 664.6 724.8 664.2C726.9 663.8 728.5 662.5 729.7 661.1C730.9 659.8 731.6 658.0 732.2 656.1C732.8 654.2 733.5 651.8 733.5 649.9C733.5 648.0 732.8 646.3 732.2 644.9C731.6 643.5 730.7 642.5 729.7 641.2C728.7 640.0 726.8 638.9 726.0 637.4C725.2 635.9 724.9 634.4 724.8 632.5C724.7 630.6 725.3 628.3 725.4 626.2C725.5 624.1 725.7 621.6 725.5 620.0C725.3 618.4 725.1 619.1 724.2 616.5C723.3 613.9 721.6 608.1 720.2 604.4C718.9 600.7 717.6 597.4 716.1 594.4C714.6 591.4 712.9 589.0 711.1 586.3C709.3 583.6 707.1 581.0 705.1 578.3C703.1 575.6 700.9 573.0 699.1 570.3C697.3 567.6 695.8 565.0 694.1 562.3C692.4 559.6 690.9 556.6 689.0 554.2C687.1 551.9 685.0 549.7 683.0 548.2C681.0 546.7 678.7 546.2 677.0 545.2C675.3 544.2 674.7 543.5 672.6 542.2C670.5 540.9 667.2 539.1 664.5 537.2C661.8 535.4 659.2 532.4 656.5 531.1C653.8 529.8 651.0 529.1 648.5 529.1Z"/>
<path fill="#ff3200" d="M656.0 634.9C655.8 637.6 656.2 640.7 656.6 643.6C657.0 646.5 657.4 649.8 658.5 652.3C659.6 654.8 661.6 657.1 663.5 658.6C665.4 660.1 667.2 660.7 669.7 661.1C672.2 661.5 676.2 661.3 678.7 661.1C681.2 660.9 683.0 660.5 684.9 659.9C686.8 659.3 688.6 658.4 689.9 657.4C691.1 656.4 691.4 654.9 692.4 653.6C693.4 652.4 694.6 650.5 696.1 649.9C697.6 649.3 699.4 649.6 701.1 649.9C702.8 650.2 704.4 651.4 706.1 651.8C707.8 652.2 709.7 652.7 711.1 652.4C712.5 652.1 714.4 650.8 714.8 649.9C715.2 649.0 714.5 647.6 713.5 646.8C712.5 646.0 710.5 645.8 708.6 644.9C706.7 644.0 704.0 642.7 702.3 641.2C700.6 639.8 700.0 637.9 698.6 636.2C697.2 634.5 695.9 632.5 693.6 631.2C691.3 630.0 687.8 629.3 684.9 628.7C682.0 628.1 679.1 627.9 676.2 627.5C673.3 627.1 669.6 626.6 667.5 626.2C665.4 625.8 665.1 624.7 663.5 624.9C661.9 625.1 659.1 625.7 657.9 627.4C656.6 629.1 656.2 632.2 656.0 634.9Z"/>
<path fill="#ff3200" d="M688.5 610.4C688.5 611.2 688.1 612.3 687.5 612.9C686.9 613.5 685.8 613.9 685.0 613.9C684.2 613.9 683.1 613.5 682.5 612.9C681.9 612.3 681.5 611.2 681.5 610.4C681.5 609.6 681.9 608.5 682.5 607.9C683.1 607.3 684.2 606.9 685.0 606.9C685.8 606.9 686.9 607.3 687.5 607.9C688.1 608.5 688.5 609.6 688.5 610.4Z"/>
<path fill="#e11400" d="M663.7 643.7C664.0 643.0 666.0 642.3 667.5 642.4C669.0 642.5 671.1 643.4 672.5 644.3C673.9 645.2 675.3 647.0 675.6 648.0C675.9 649.0 675.2 650.2 674.3 650.5C673.4 650.8 671.5 650.5 670.0 649.9C668.5 649.3 666.6 647.8 665.6 646.8C664.6 645.8 663.4 644.4 663.7 643.7Z"/>
<path fill="#ffe878" d="M622.4 610.4C622.9 609.7 625.7 609.4 627.4 609.8C629.1 610.2 631.3 611.6 632.4 612.8C633.5 614.0 634.3 616.2 634.0 616.9C633.7 617.6 632.0 617.4 630.4 616.9C628.8 616.4 625.7 614.9 624.4 613.8C623.1 612.7 621.9 611.1 622.4 610.4Z"/>
<path fill="#ffe878" d="M647.3 641.1C647.3 642.6 647.1 644.5 646.7 645.5C646.4 646.5 645.8 647.3 645.4 647.3C645.0 647.3 644.4 646.5 644.1 645.5C643.7 644.5 643.5 642.6 643.5 641.1C643.5 639.6 643.7 637.7 644.1 636.7C644.4 635.7 645.0 634.9 645.4 634.9C645.8 634.9 646.4 635.7 646.7 636.7C647.1 637.7 647.3 639.6 647.3 641.1Z"/>
</g><g fill="none" stroke="#a6a6a6" stroke-width="0.75" stroke-linejoin="round" stroke-linecap="round"><path d="M606.8 518.7L608.5 519.5L608.9 521.9L610.7 518.0L613.2 515.6L613.5 511.2L616.0 509.2L618.1 508.5L621.3 508.5L624.9 506.1L627.4 504.1L629.2 505.3L628.5 506.5L626.3 507.3L627.4 510.0L627.0 511.2L626.0 514.4L627.0 517.2L629.2 516.4L629.5 514.0L628.1 510.8L628.1 509.8L632.4 508.1L632.0 506.1L633.1 504.9L633.8 506.9L634.1 507.7L638.8 508.8L639.5 511.2L643.7 511.2L646.9 511.2L650.5 513.2L653.7 512.0L658.0 510.8L661.9 510.8L659.4 512.8L661.5 514.0L665.1 516.0L665.8 519.1L668.6 519.5L671.8 521.5L674.0 524.3L674.3 526.3L678.6 529.4L683.2 529.8L686.1 529.4L690.0 530.2L693.5 531.4L696.0 533.8L698.5 535.8L700.3 537.8L701.7 544.1L704.2 546.1L704.6 549.2L702.8 552.4L700.6 553.2L699.6 555.6L701.4 556.8L701.0 558.7L704.2 560.3L707.0 559.1L709.5 559.1L710.2 556.4L711.7 555.6L713.8 555.6L718.4 557.2L722.3 559.5L723.4 562.3L724.5 564.3L725.9 563.1L727.7 562.7L732.6 564.3L735.1 564.7L739.8 564.5L743.3 566.7L745.1 567.9L749.4 571.8L752.2 573.4L756.1 573.8L756.8 576.2L757.9 581.3L758.1 584.9L756.5 589.6L755.1 591.6L752.6 594.8L750.4 596.8L748.6 599.1L746.9 603.1L745.1 604.7L743.3 606.7L743.3 611.8L743.7 615.8L743.0 620.5L742.6 624.1L740.8 626.1L740.5 630.8L738.7 633.6L736.6 637.5L736.2 640.3L733.0 642.7L732.6 644.3L728.4 644.3L724.5 644.3L723.0 645.7L720.6 647.4L717.4 648.2L714.9 650.6L711.7 653.0L709.5 654.6L709.2 657.0L709.2 660.1L709.5 662.5L708.8 666.1L706.7 668.0L704.2 670.8L703.1 674.0L700.6 677.1L696.7 680.7L695.0 684.7L692.1 686.9L690.7 689.4L686.8 691.6L682.2 691.4L679.0 689.6L676.5 689.6L674.3 687.8L674.0 689.8L677.5 691.8L678.6 695.0L678.2 696.6L680.4 697.7L680.4 699.3L677.5 703.7L674.0 706.1L668.6 707.2L663.3 707.6L660.5 706.8L661.2 709.6L660.5 713.6L658.7 715.6L654.4 714.8L650.5 714.8L650.9 717.5L650.9 719.9L653.3 720.7L655.8 720.7L655.8 722.7L653.3 723.1L650.9 722.7L650.9 724.7L649.8 729.4L648.7 731.4L644.1 732.2L642.0 735.4L643.7 737.7L648.0 740.1L647.7 742.9L643.0 745.7L641.6 748.4L638.8 752.0L636.6 754.8L635.9 757.5L638.8 760.5L634.9 761.1L630.2 762.3L629.9 765.9L626.3 766.2L624.9 764.3L621.3 763.9L620.6 761.5L617.1 760.3L618.9 757.1L615.3 755.2L617.1 752.0L613.5 749.2L616.7 746.1L613.5 743.3L616.4 741.7L613.2 738.5L617.1 735.4L620.3 733.8L618.1 731.4L621.3 728.2L622.4 724.7L623.1 720.7L622.1 718.7L619.2 718.7L619.9 711.6L620.6 705.7L620.3 700.5L622.1 698.5L623.5 693.8L626.7 686.7L627.4 683.9L627.7 679.5L627.0 673.2L628.1 671.6L627.7 667.6L629.9 660.5L630.9 657.3L631.3 653.8L631.7 646.7L630.9 644.7L632.4 640.7L632.5 633.2L632.0 626.5L628.5 622.9L623.5 619.3L618.9 616.6L614.6 613.8L611.0 609.4L610.3 608.2L611.0 606.3L607.8 601.1L605.7 596.8L603.9 592.8L602.5 589.2L601.1 585.7L597.9 580.5L594.3 577.0L593.3 573.8L592.9 571.8L594.3 568.6L596.5 566.7L597.9 563.1L597.9 561.9L596.5 563.9L594.3 562.3L595.0 557.2L597.2 553.2L597.5 550.0L601.4 546.9L603.2 542.9L606.4 542.5L608.2 537.8L606.4 536.6L607.1 531.4L606.4 526.7L605.0 524.7L606.8 518.7M550.2 491.4L554.1 495.8L557.0 498.2L559.8 498.2L562.7 499.7L567.3 500.9L569.8 500.5L570.5 501.7L570.1 502.1L573.7 505.3L576.5 508.8L577.3 510.0L576.9 513.2L579.4 515.2L580.5 514.0L581.2 515.6L584.4 517.6L584.4 519.9L586.1 519.9L587.2 520.7L589.7 520.3L591.5 521.5L594.0 523.1L594.3 524.7L596.1 524.3L597.5 523.5L596.1 520.7L598.2 519.1L599.3 517.8L602.9 519.1L603.9 520.3L603.2 521.5L605.0 524.7M586.5 491.8L586.3 493.8L585.4 496.6L586.1 497.8L585.1 501.7L584.4 505.7L584.5 509.6L586.9 513.6L589.7 516.8L591.1 517.6L593.3 518.4L594.7 518.0L597.5 516.4L599.3 515.2L601.4 516.0L604.6 516.8L606.8 518.7M821.5 491.8L819.8 495.0L822.3 497.8L822.3 500.1L822.4 504.1L825.1 506.1L826.9 508.5L828.7 509.6L829.7 511.6L833.3 515.6L835.1 519.5L836.1 522.3L837.5 523.9L841.1 525.9L843.6 528.3M554.1 495.8L554.5 493.4L555.9 491.4M561.6 498.8L563.4 497.0L564.3 496.2L564.8 493.0M564.3 496.2L567.3 498.0L569.8 498.2L570.1 500.1M571.6 501.7L573.7 500.5L576.2 497.8L579.7 495.4L581.9 495.0L586.3 493.8M577.3 509.2L580.1 509.8L583.3 510.4L584.5 510.0M587.2 521.3L587.4 518.4L587.2 515.6L588.5 515.4M605.0 524.7L606.8 522.3L607.5 521.5L606.8 518.7M628.4 506.3L625.6 509.2L622.8 512.0L622.4 514.4L621.0 516.8L623.1 517.2L624.2 519.9L624.5 523.9L626.0 525.5L630.6 525.1L635.2 529.0L642.0 528.6L640.9 532.2L640.9 536.6L642.7 539.7L640.5 542.1L643.0 544.1L644.1 548.4M644.1 548.4L643.4 546.5L640.2 546.5L633.8 546.5L633.8 548.8L635.9 549.2L635.2 550.4L633.1 550.8L632.9 554.0L635.2 557.6L633.3 569.8M633.3 569.8L630.6 568.2L632.9 563.9L628.1 562.3L622.8 562.7L619.9 558.3L616.0 554.0L614.2 553.6M614.2 553.6L610.7 551.6L606.8 551.6L604.6 549.6L601.8 547.7M614.2 553.6L614.6 557.0L613.2 559.5L609.6 563.5L605.3 565.1L603.2 566.7L602.1 571.4L601.1 573.0L598.9 571.0L596.1 570.6L596.5 566.7M633.3 569.8L630.2 569.8L622.8 573.4L622.1 577.0L621.7 579.3L619.9 582.1L618.9 582.9L622.4 588.8L624.9 590.8L625.3 592.8L630.9 590.8L630.9 596.8L634.5 596.6M634.5 596.6L637.7 602.7L636.6 607.1L636.6 611.8L635.2 615.0L635.9 617.4L637.0 618.1L634.5 621.7L634.9 622.5M634.9 622.5L631.7 625.9M634.9 622.5L636.6 628.0L638.8 630.0L638.1 632.8L639.5 637.5L640.5 643.5L643.0 643.5M643.0 643.5L646.2 639.5L650.1 640.7L652.6 641.1L653.3 643.5L654.8 640.3L659.2 641.3M659.2 641.3L660.5 636.4L662.4 631.0L671.8 629.6L675.0 631.6L675.2 633.0M634.5 596.6L637.7 596.8L639.1 596.8L645.2 592.4L649.4 591.6L649.8 596.4L649.8 598.7L653.0 602.7L657.6 603.5L658.7 604.7L662.2 606.7L666.9 607.8L667.6 613.0L667.9 617.7L674.3 617.7L674.7 621.7L676.5 622.9L677.5 625.3L675.8 628.4L676.5 631.6L675.2 633.0M675.2 633.0L676.1 640.7L681.4 640.7L683.6 641.5L685.0 648.2L688.9 648.6L687.8 654.6M659.2 641.3L665.1 647.4L668.6 648.2L672.9 651.4L677.2 653.4L673.6 661.3L679.3 662.1L682.9 661.3L684.3 660.9L687.8 654.6M687.8 654.6L691.0 657.0L690.7 660.5L686.4 664.1L683.6 665.7L680.0 670.4L677.2 672.8M677.2 672.8L682.9 675.2L684.3 675.6L687.8 677.9L690.7 679.9L692.8 682.7L692.1 686.9M677.2 672.8L675.0 681.9L674.3 687.8M643.0 643.5L642.7 648.2L638.8 650.2L638.1 658.1L639.1 660.1L636.3 662.5L633.4 665.7L633.4 672.4L631.3 676.4L633.1 685.1L633.8 688.6L631.3 693.0L629.2 697.7L629.2 703.7L627.4 710.0L626.3 714.4L626.7 719.5L625.6 723.5L627.0 727.4L627.4 733.4L626.3 738.5L624.9 740.9L624.2 746.1L620.6 748.4L621.7 754.0L624.9 754.0L624.5 757.5L626.3 759.1L633.1 759.1L638.8 760.5M638.1 761.7L638.1 770.6M668.6 519.5L666.2 523.5L664.7 526.7L663.7 529.8L666.2 532.6M666.2 532.6L663.7 535.8L659.0 537.4L658.3 538.9L653.7 537.0L651.6 536.2L653.7 543.3L656.5 544.5L654.4 545.7L649.1 550.0L646.2 550.2L644.1 548.4M666.2 532.6L668.6 533.4L668.7 535.4L670.4 537.8L668.8 542.9L669.7 545.9L672.9 548.4L678.2 545.5L681.1 545.7M681.1 545.7L678.2 540.1L675.8 537.4L678.2 532.2L678.8 529.6M681.1 545.7L682.9 545.9L682.9 544.1L687.8 544.1M687.8 544.1L689.3 541.7L690.0 538.9L688.4 533.4L690.0 530.4M687.8 544.1L691.0 544.1L693.9 544.5L695.3 542.9L698.3 537.0M672.6 548.4L674.0 554.8L680.4 561.1L681.4 565.1L675.0 582.1M675.0 582.1L677.2 588.0L680.0 590.4L703.5 592.2M675.0 582.1L674.3 587.7L663.0 588.0M663.0 588.0L658.3 584.9L654.4 587.7L650.9 590.4L644.5 592.0M644.5 592.0L619.6 582.1M663.0 588.0L663.3 592.8L668.6 597.2L669.0 601.9L667.2 607.5M656.5 544.5L658.7 555.2L663.3 558.7L667.6 555.6L672.6 548.4M687.8 544.1L693.9 551.2L697.4 558.0M718.4 557.6L713.4 567.1L709.9 573.8M709.9 573.8L707.0 580.9L703.5 592.2M703.5 592.2L701.7 600.7L703.5 604.7M709.9 573.8L713.4 579.7L713.4 582.9L716.3 586.5L719.1 594.0M733.4 564.3L729.8 571.0L729.4 579.7L723.4 582.5L718.8 590.0L719.1 594.0M735.1 564.7L735.5 571.0L737.6 582.5M749.5 572.2L746.9 576.2L745.1 578.5L744.4 583.3L737.6 582.5M745.1 578.5L749.7 577.4L751.9 578.9L757.5 578.9M744.4 583.3L749.7 584.1L754.0 584.1L757.9 582.9M737.6 582.5L735.1 587.7L738.0 590.4L746.2 588.8L747.2 591.2L752.6 594.8M746.2 588.8L752.2 589.6L756.8 588.4M747.2 591.2L746.2 595.6L747.6 598.3L749.0 598.7M735.1 587.7L729.1 590.4L726.2 595.6L719.1 594.0M719.1 594.0L717.4 603.9L718.4 612.2M718.4 612.2L725.5 609.8L732.6 612.2L736.9 615.8L739.0 618.9L738.0 622.5L739.0 624.1L741.2 625.7M739.0 624.1L735.5 628.4L736.2 632.4L733.4 635.6L736.2 637.2M733.4 635.6L729.1 640.3L723.0 641.9M723.0 641.9L724.8 644.3M723.0 641.9L716.6 641.9L713.8 634.4L707.0 632.4L700.6 632.4M700.6 632.4L697.1 638.3L693.2 642.3L688.9 648.4M693.2 642.3L700.6 643.5L705.3 644.3L706.7 651.0L711.3 653.4M709.2 656.2L703.1 657.0L698.9 657.3L691.0 657.0M705.3 669.2L702.4 665.3L697.8 662.1L690.7 660.7M675.8 622.5L684.6 622.5L690.0 622.9L693.2 624.5M703.5 604.7L698.9 612.6L695.3 618.5L693.2 624.5M693.2 624.5L700.6 630.4L700.6 632.4M700.6 630.4L706.0 626.9L713.8 624.5L713.8 616.6L718.4 612.2M703.5 604.7L711.3 605.5L717.4 604.3M710.6 614.6L713.4 614.6L713.4 616.8L710.6 616.8L710.6 614.6M556.3 554.4L558.4 554.0L559.1 556.0L557.3 557.2L556.3 555.6L556.3 554.4M560.2 555.2L561.2 555.6L560.9 556.4L560.2 555.2M563.4 556.0L564.4 556.4L563.7 557.0L563.4 556.0M661.9 513.4L665.1 513.2L665.3 510.4L662.6 510.8L661.9 513.4M702.1 553.8L706.0 554.0L709.9 554.4L709.2 558.0L705.6 559.9L701.7 558.0L701.0 555.6L702.1 553.8M618.1 718.9L620.6 719.5L620.3 724.7L617.4 724.7L618.1 718.9M638.1 761.7L639.5 763.9L641.6 767.0L645.5 769.0L650.1 769.6L645.5 771.0L639.1 771.0L634.9 772.2L631.3 771.4L627.7 769.0L626.0 767.8L629.9 767.0L632.0 765.1L631.7 762.7L635.2 761.5L638.1 761.7M634.9 764.7L637.0 766.6L633.4 767.8M664.4 756.7L667.9 756.3L669.7 757.1L671.5 756.7L676.5 757.5L674.0 759.1L670.4 759.9L666.9 759.5L664.7 758.7L664.4 756.7M670.8 756.7L670.1 759.1M746.9 767.0L750.4 767.6L754.0 769.4L753.6 770.4L749.7 768.6L746.9 767.0M616.0 747.2L614.2 745.3L613.5 748.4L615.7 750.8L616.0 747.2M615.7 752.0L613.9 753.6L616.0 756.0L617.1 754.0L615.7 752.0M619.2 728.6L617.4 730.2L618.1 733.0L619.9 731.4L619.2 728.6M626.0 768.2L622.4 765.9L618.9 763.9L621.3 766.6L626.0 768.2M633.1 770.6L629.5 771.0L632.0 773.0L636.6 773.4L639.5 772.6L633.1 770.6M641.6 771.8L639.1 773.4L642.0 774.2L643.7 772.6L641.6 771.8M822.3 499.3L826.9 499.3L830.4 499.7L832.9 499.9L830.4 500.9L826.9 500.5L822.3 501.3M822.4 504.1L826.5 504.1L833.3 503.1L833.3 506.9L829.7 507.7L828.7 509.6M833.3 503.1L837.9 504.5L841.5 504.1L842.9 504.9M841.5 504.1L841.5 501.7L839.0 497.8L838.6 494.6L840.0 491.4M834.7 517.4L837.5 514.0L842.2 513.6L844.3 517.2L844.0 520.3L841.8 524.7L841.1 525.9M615.0 743.2L616.6 741.3L614.0 740.5L613.3 742.5L615.0 743.2M615.2 730.9L617.9 731.9L618.7 730.0L618.6 728.4L616.9 727.9L614.6 729.1L615.2 730.9M619.9 755.0L621.2 754.6L621.8 753.5L620.7 752.9L619.5 753.3L618.7 754.0L619.9 755.0M616.5 740.0L615.7 740.6L616.5 741.7L617.5 741.5L618.2 740.1L616.5 740.0M626.7 767.5L628.3 768.6L630.0 768.4L631.1 767.6L630.0 766.0L628.1 766.0L626.7 767.5M630.5 767.0L627.9 767.1L628.1 768.8L630.0 769.4L631.8 768.5L630.5 767.0M633.2 769.9L635.5 768.7L635.0 767.1L633.1 766.9L631.3 768.0L633.2 769.9M612.6 740.4L614.3 741.3L615.9 740.3L616.4 739.2L614.7 738.2L613.4 739.1L612.6 740.4M618.6 731.5L617.9 731.0L617.0 731.4L617.7 732.2L618.6 731.5M614.9 728.9L614.1 729.2L613.4 730.5L614.9 730.7L615.7 730.4L615.8 729.2L614.9 728.9M612.0 732.2L611.0 734.5L612.8 735.4L615.5 735.7L616.6 733.9L614.3 732.3L612.0 732.2M618.5 751.8L619.1 749.6L617.3 749.3L616.8 750.5L618.5 751.8M619.1 740.3L621.3 738.7L618.6 736.9L616.6 737.7L615.8 740.1L619.1 740.3M620.9 726.0L619.7 725.5L618.6 726.3L618.3 727.2L619.7 728.2L620.7 727.2L620.9 726.0M636.6 770.8L635.4 770.0L634.6 771.0L635.8 771.5L636.6 770.8M612.0 754.1L614.0 754.3L615.7 752.4L614.2 751.1L612.6 750.6L611.6 752.1L612.0 754.1M618.8 733.7L620.7 733.8L620.5 732.5L619.6 731.4L618.2 732.5L618.8 733.7M623.3 763.6L624.2 763.4L624.5 762.7L623.6 762.3L622.9 762.3L622.6 763.2L623.3 763.6M631.4 762.3L630.6 761.2L629.3 761.0L628.8 762.0L628.7 763.4L630.5 763.7L631.4 762.3M615.7 735.8L616.0 737.1L617.5 737.4L617.5 735.8L616.6 735.3L615.7 735.8M634.5 767.2L634.5 768.4L636.1 768.4L635.8 767.4L634.5 767.2M617.6 741.4L617.9 741.9L618.7 741.9L619.3 741.7L619.1 741.2L618.2 740.7L617.6 741.4M619.3 736.3L621.3 735.3L620.0 734.2L618.1 733.3L616.7 735.0L617.1 736.7L619.3 736.3M623.8 763.0L621.0 764.3L624.1 766.1L625.2 763.9L623.8 763.0M637.8 769.7L636.2 770.2L637.2 771.2L638.4 770.7L637.8 769.7M615.5 738.5L614.7 736.9L612.8 736.7L611.7 738.1L612.0 739.4L614.2 739.5L615.5 738.5M618.1 735.3L618.7 736.8L621.3 736.7L620.3 735.0L618.1 735.3M631.1 766.5L633.1 767.1L633.8 766.0L633.2 764.0L631.5 765.4L631.1 766.5M627.6 767.3L627.7 768.3L628.5 768.6L629.0 768.0L628.6 767.4L627.6 767.3M615.8 742.3L617.1 740.7L615.9 739.3L614.1 739.9L613.3 741.0L614.3 742.4L615.8 742.3M617.6 749.4L615.6 748.8L614.2 750.3L614.9 752.0L617.1 751.8L617.5 750.8L617.6 749.4M615.4 742.9L614.6 742.1L612.8 742.7L611.6 744.2L614.0 745.3L616.1 744.6L615.4 742.9M631.4 763.6L629.9 764.4L631.1 765.2L631.9 764.6L631.4 763.6M617.5 737.0L618.2 736.3L618.5 735.4L617.6 734.7L616.7 735.3L616.5 736.4L617.5 737.0M620.1 732.5L620.1 731.1L618.7 731.9L619.3 733.3L620.1 732.5M617.4 735.6L616.5 736.2L616.9 736.9L617.5 737.5L618.2 736.7L618.5 736.0L617.4 735.6M617.7 744.9L616.8 745.7L618.2 747.1L619.8 746.4L619.3 744.9L617.7 744.9M622.0 745.8L621.2 744.4L619.4 743.6L619.1 745.3L620.0 746.2L622.0 745.8M629.8 764.2L631.0 762.3L628.6 762.1L627.7 763.2L629.8 764.2M628.1 762.2L627.7 761.1L626.3 761.2L626.4 762.6L628.1 762.2M617.4 736.8L614.7 737.0L616.1 739.5L618.9 738.5L617.4 736.8M614.1 733.4L614.9 733.7L615.3 733.4L615.2 732.5L614.4 732.7L614.1 733.4M626.9 760.7L624.8 760.8L624.4 762.0L625.5 763.1L627.7 762.6L626.9 760.7M626.2 768.3L626.8 767.6L627.0 766.9L626.1 766.8L625.5 767.1L625.7 767.7L626.2 768.3M629.4 773.4L631.7 773.1L633.4 772.2L632.5 770.5L630.2 770.9L629.3 771.8L629.4 773.4M620.6 759.5L620.8 759.0L619.9 758.3L619.4 759.1L619.2 759.6L620.2 760.0L620.6 759.5M618.0 727.8L616.1 726.8L614.3 728.3L616.5 728.9L618.0 727.8M617.9 742.4L616.3 740.9L615.0 742.5L616.4 743.9L617.9 742.4M618.9 739.0L619.1 739.8L620.1 739.5L620.3 739.0L620.2 738.6L619.3 738.6L618.9 739.0M620.7 744.2L619.3 743.0L617.5 744.4L618.2 746.4L620.1 747.5L621.5 745.4L620.7 744.2M612.5 730.7L614.7 731.2L615.7 730.0L613.5 729.5L612.5 730.7M617.5 752.5L618.3 751.5L617.0 751.3L616.2 751.1L616.0 752.4L616.7 752.9L617.5 752.5M619.9 741.3L621.3 739.9L621.1 737.9L618.7 738.6L617.9 739.7L619.9 741.3M626.1 760.7L625.5 759.4L623.0 758.8L621.7 760.2L623.6 762.2L626.1 760.7M619.5 747.1L618.1 747.5L617.1 748.4L618.1 749.9L620.3 749.0L619.9 748.0L619.5 747.1M619.2 748.8L617.5 749.1L617.2 751.0L619.6 750.6L619.2 748.8M615.6 739.0L614.7 739.0L614.4 740.2L615.6 741.0L616.4 739.7L615.6 739.0M632.4 764.4L629.4 762.7L626.4 764.5L629.5 766.5L632.4 764.4M626.5 765.8L626.9 765.1L626.1 764.6L625.4 764.9L625.2 765.4L625.8 765.9L626.5 765.8M621.5 755.4L622.1 754.4L620.8 753.9L620.2 755.0L621.5 755.4M629.6 763.3L629.0 763.2L628.3 763.3L628.3 764.3L629.1 764.6L630.1 764.4L629.6 763.3M616.5 744.1L615.3 742.6L613.0 743.1L614.0 744.7L616.5 744.1M616.3 728.2L614.0 727.9L612.8 728.9L613.5 730.2L616.0 730.4L616.3 728.2M632.4 771.9L631.7 771.1L630.3 771.7L631.3 772.4L632.4 771.9M625.0 764.2L625.6 762.8L624.0 762.7L623.6 764.0L625.0 764.2M629.3 768.4L627.8 767.2L626.1 767.7L625.8 768.9L626.9 770.1L628.4 769.5L629.3 768.4M616.2 727.2L617.1 729.2L619.0 728.0L618.1 726.7L616.2 727.2M627.0 765.5L629.4 765.1L628.5 763.0L626.6 762.8L627.0 765.5M618.7 734.3L621.2 734.3L622.2 732.6L620.3 730.8L618.2 731.1L616.8 733.3L618.7 734.3M619.0 739.8L616.8 740.5L615.6 742.2L617.6 743.2L619.1 742.6L619.0 739.8M627.3 757.8L626.2 757.4L625.5 758.5L626.3 759.0L627.7 758.9L627.3 757.8M618.0 745.6L619.1 745.8L620.2 745.2L619.5 744.4L618.0 744.1L618.0 745.6M620.6 754.9L622.0 754.0L620.7 753.4L619.5 754.0L620.6 754.9M615.0 728.1L613.3 727.4L612.7 728.8L613.5 729.7L615.7 729.4L615.0 728.1M614.5 734.8L615.2 734.2L615.5 732.8L613.8 732.2L612.0 733.1L613.1 734.9L614.5 734.8M618.1 728.0L615.9 728.0L616.6 729.6L618.3 729.4L618.1 728.0M620.3 756.0L618.6 756.6L619.6 757.6L621.6 758.5L622.4 757.2L621.8 756.0L620.3 756.0M615.9 732.1L615.6 731.3L614.9 730.9L614.2 731.5L614.7 732.1L615.9 732.1M637.1 770.0L636.8 769.2L635.9 769.5L635.4 770.1L636.2 770.9L637.0 770.7L637.1 770.0M626.1 758.9L627.8 758.7L627.9 757.6L627.2 757.0L625.5 757.1L625.8 757.9L626.1 758.9M632.0 769.9L631.3 769.5L630.8 770.3L631.6 770.6L632.0 769.9M635.3 771.7L635.1 770.6L633.8 769.4L632.3 770.6L632.6 772.1L634.3 772.3L635.3 771.7M623.2 760.6L622.5 761.7L622.4 763.1L624.1 762.8L624.2 761.6L623.2 760.6M621.9 762.4L621.9 764.5L623.5 764.9L623.8 763.1L621.9 762.4M617.8 734.2L616.3 737.6L620.1 738.3L620.6 734.9L617.8 734.2M617.5 734.0L619.0 736.4L621.6 734.1L619.1 732.4L617.5 734.0M614.1 744.6L615.3 746.9L618.1 746.0L617.6 743.6L614.1 744.6M630.0 772.0L631.2 771.3L631.8 769.9L629.9 769.7L628.6 769.9L628.4 771.3L630.0 772.0M619.4 747.1L618.3 748.4L619.7 749.3L620.7 748.1L619.4 747.1M620.8 737.7L620.4 737.1L619.6 737.0L619.0 737.7L619.6 738.8L620.4 738.8L620.8 737.7M612.9 750.2L615.2 749.1L615.5 747.4L612.9 746.1L611.6 748.2L612.9 750.2M624.1 762.5L625.4 762.3L625.7 761.7L625.5 761.1L624.4 760.6L624.1 761.6L624.1 762.5M618.8 759.5L619.7 761.9L622.0 761.5L623.4 759.4L620.9 757.5L618.8 759.5M616.5 728.5L617.3 729.4L618.1 728.3L617.1 727.6L616.5 728.5M620.3 744.7L619.2 745.0L618.8 745.9L619.5 746.3L620.3 746.8L621.1 745.7L620.3 744.7"/><circle cx="787.8" cy="778.9" r="0.45" fill="#a8a0c8" stroke="none"/><circle cx="787.4" cy="782.1" r="0.45" fill="#a8a0c8" stroke="none"/><circle cx="787.1" cy="784.5" r="0.45" fill="#a8a0c8" stroke="none"/><circle cx="788.1" cy="786.8" r="0.45" fill="#a8a0c8" stroke="none"/><circle cx="785.3" cy="788.4" r="0.45" fill="#a8a0c8" stroke="none"/><circle cx="784.9" cy="776.1" r="0.45" fill="#a8a0c8" stroke="none"/></g><g transform="translate(0.0 0.0)">
<path fill="none" stroke="#101010" stroke-width="0.85" d="M510.0 605.6C512.0 605.7 518.0 605.8 522.0 606.0C526.0 606.2 530.0 606.3 534.1 606.8C538.1 607.3 542.4 608.0 546.1 608.8C549.8 609.6 553.1 610.2 556.1 611.4C559.1 612.7 561.2 614.8 564.2 616.4C567.2 618.1 571.2 619.6 574.2 621.5C577.2 623.3 579.6 625.2 582.2 627.5C584.9 629.7 587.9 632.6 590.0 634.9C592.1 637.2 593.3 638.8 595.0 641.1C596.7 643.4 598.4 645.9 600.0 648.6C601.6 651.3 603.2 654.8 604.9 657.3C606.5 659.8 608.0 661.4 609.9 663.5C611.8 665.6 614.1 667.9 616.2 669.8C618.3 671.7 620.6 673.6 622.4 674.8C624.1 676.0 625.1 676.4 626.7 677.2C628.3 678.0 630.3 678.7 632.2 679.5C634.1 680.3 636.2 681.1 637.9 682.2C639.6 683.3 640.5 684.9 642.3 686.0C644.1 687.1 646.2 688.2 648.5 689.1C650.8 690.0 654.1 690.9 656.0 691.6C657.9 692.3 658.1 692.9 660.0 693.5C661.9 694.1 664.8 694.6 667.5 695.3C670.2 696.0 673.3 697.3 676.2 697.8C679.1 698.3 682.6 698.4 684.9 698.5C687.2 698.6 687.8 698.6 690.0 698.4C692.2 698.1 695.0 697.4 698.0 697.0C701.0 696.6 704.6 696.3 707.9 696.2C711.2 696.1 714.6 696.2 717.9 696.5C721.2 696.8 724.5 697.2 727.8 697.9C731.1 698.6 734.5 699.7 737.8 700.9C741.1 702.1 744.5 703.7 747.8 704.9C751.1 706.1 754.9 707.1 757.7 707.9C760.5 708.7 762.7 709.1 764.7 709.9C766.7 710.7 768.1 711.3 769.5 712.5C770.9 713.7 771.9 715.7 773.3 717.3C774.7 718.9 777.2 721.2 778.0 722.0L778.0 722.0C778.8 721.0 782.3 718.6 783.0 716.3C783.7 714.0 782.8 710.9 782.4 708.2C782.0 705.5 780.4 702.9 780.4 700.2C780.4 697.5 781.4 694.9 782.4 692.2C783.4 689.5 784.6 686.9 786.4 684.2C788.2 681.5 791.2 678.5 793.4 676.1C795.6 673.8 798.1 671.9 799.4 670.1C800.7 668.3 801.6 666.9 801.4 665.1C801.2 663.3 799.4 661.3 798.4 659.1C797.4 656.9 796.4 654.4 795.4 652.0C794.4 649.6 793.9 646.5 792.4 644.6C790.9 642.7 788.6 642.0 786.4 640.5C784.2 639.0 781.1 637.5 779.4 635.5C777.7 633.5 776.6 630.7 776.4 628.5C776.2 626.3 776.9 624.2 778.4 622.5C779.9 620.8 782.6 619.8 785.4 618.1C788.2 616.4 792.0 614.0 795.4 612.4C798.8 610.8 801.8 609.4 805.5 608.4C809.2 607.4 813.5 606.9 817.5 606.4C821.5 605.9 825.3 605.7 829.5 605.4C833.7 605.1 838.4 604.6 842.6 604.4C846.9 604.2 852.9 604.1 855.0 604.0"/>
<path fill="none" stroke="#101010" stroke-width="0.85" d="M510.0 737.0C512.0 737.3 518.7 738.2 522.0 738.7C525.3 739.2 526.6 739.2 530.0 740.1C533.4 741.0 538.1 742.4 542.1 744.1C546.1 745.8 550.1 747.8 554.1 750.1C558.1 752.5 562.7 756.3 566.2 758.2C569.7 760.1 572.5 760.3 575.0 761.5C577.5 762.7 578.9 764.0 581.2 765.3C583.5 766.6 586.2 768.5 588.7 769.1C591.2 769.7 594.0 769.6 596.2 769.1C598.4 768.6 600.2 767.6 601.8 766.0C603.3 764.4 604.6 762.2 605.5 759.7C606.4 757.2 606.7 754.1 607.1 751.0C607.5 747.9 607.6 744.6 608.0 741.1C608.4 737.6 608.7 733.2 609.2 729.9C609.7 726.6 610.4 723.4 611.1 721.1C611.8 718.8 612.7 717.3 613.6 716.2C614.5 715.1 615.8 714.3 616.7 714.3C617.6 714.3 618.4 715.0 619.2 716.2C620.0 717.5 620.8 719.7 621.7 721.8C622.6 723.9 623.7 726.5 624.8 728.6C625.9 730.7 627.1 732.8 628.5 734.2C629.9 735.7 631.6 736.7 632.9 737.3C634.1 737.9 634.9 737.9 636.0 737.8C637.1 737.7 638.3 737.5 639.8 736.7C641.2 735.9 643.1 734.5 644.7 733.0C646.4 731.5 648.0 729.1 649.7 727.4C651.4 725.7 652.8 724.1 654.7 723.0C656.6 721.9 658.6 721.0 660.9 720.5C663.2 720.0 665.7 719.9 668.4 719.9C671.1 719.9 673.4 720.2 677.0 720.3C680.6 720.4 686.5 720.2 690.0 720.4C693.5 720.6 695.4 720.9 698.0 721.4C700.6 721.9 703.2 722.6 705.9 723.3C708.5 724.0 711.6 724.7 713.9 725.8C716.2 726.9 718.1 728.3 719.9 729.8C721.7 731.3 723.2 733.0 724.9 734.8C726.5 736.6 728.0 738.8 729.8 740.8C731.6 742.8 733.6 745.0 735.8 746.8C738.0 748.6 740.5 750.3 742.8 751.7C745.1 753.1 747.3 754.1 749.8 755.2C752.3 756.3 755.2 757.4 757.7 758.2C760.2 759.0 762.7 759.6 764.7 760.2C766.8 760.8 766.9 760.8 770.0 761.7C773.1 762.6 778.8 764.5 783.4 765.5C788.0 766.5 792.7 767.3 797.4 767.5C802.1 767.7 807.5 767.4 811.5 766.9C815.5 766.4 818.7 765.5 821.5 764.4C824.3 763.3 826.9 761.9 828.5 760.4C830.1 758.9 831.4 756.9 831.2 755.4C831.0 753.9 829.8 752.2 827.5 751.4C825.2 750.6 821.2 750.6 817.5 750.4C813.8 750.2 808.9 750.5 805.5 750.0C802.1 749.5 798.9 748.5 797.4 747.4C795.9 746.3 795.9 745.2 796.4 743.4C796.9 741.5 798.5 739.1 800.4 736.3C802.2 733.4 805.0 729.6 807.5 726.3C810.0 723.0 812.8 719.1 815.5 716.3C818.2 713.5 820.5 711.3 823.5 709.3C826.5 707.3 830.4 705.4 833.6 704.2C836.8 703.0 839.0 702.9 842.6 702.2C846.2 701.5 852.9 700.4 855.0 700.0"/>
<path fill="none" stroke="#101010" stroke-width="0.85" d="M622.4 610.4C622.9 609.7 625.7 609.4 627.4 609.8C629.1 610.2 631.3 611.6 632.4 612.8C633.5 614.0 634.3 616.2 634.0 616.9C633.7 617.6 632.0 617.4 630.4 616.9C628.8 616.4 625.7 614.9 624.4 613.8C623.1 612.7 621.9 611.1 622.4 610.4Z"/>
<path fill="none" stroke="#101010" stroke-width="0.85" d="M647.3 641.1C647.3 642.6 647.1 644.5 646.7 645.5C646.4 646.5 645.8 647.3 645.4 647.3C645.0 647.3 644.4 646.5 644.1 645.5C643.7 644.5 643.5 642.6 643.5 641.1C643.5 639.6 643.7 637.7 644.1 636.7C644.4 635.7 645.0 634.9 645.4 634.9C645.8 634.9 646.4 635.7 646.7 636.7C647.1 637.7 647.3 639.6 647.3 641.1Z"/>
<rect x="625.6" y="670.7" width="13.2" height="10" fill="#fff"/>
<text x="632.2" y="679.3" font-size="9.8" text-anchor="middle" fill="#1c1c1c">12</text>
<rect x="772.8" y="716.9" width="13.2" height="10" fill="#fff"/>
<text x="779.4" y="725.5" font-size="9.8" text-anchor="middle" fill="#1c1c1c">12</text>
<rect x="633.0" y="732.8" width="6.1" height="10" fill="#fff"/>
<text x="636.0" y="741.4" font-size="9.8" text-anchor="middle" fill="#1c1c1c">0</text>
<rect x="803.1" y="762.5" width="6.1" height="10" fill="#fff"/>
<text x="806.1" y="771.1" font-size="9.8" text-anchor="middle" fill="#1c1c1c">0</text>
</g></g>
<rect x="522.1" y="493.8" width="320.5" height="297.0" fill="none" stroke="#000" stroke-width="1.7"/>
<path d="M521.6 493.8h-3.6" stroke="#000" stroke-width="1.5"/>
<text class="ax" x="516.8" y="497.2" text-anchor="end">15N</text>
<path d="M521.6 513.6h-3.6" stroke="#000" stroke-width="1.5"/>
<text class="ax" x="516.8" y="517.0" text-anchor="end">10N</text>
<path d="M521.6 533.4h-3.6" stroke="#000" stroke-width="1.5"/>
<text class="ax" x="516.8" y="536.8" text-anchor="end">5N</text>
<path d="M521.6 553.2h-3.6" stroke="#000" stroke-width="1.5"/>
<text class="ax" x="516.8" y="556.6" text-anchor="end">EQ</text>
<path d="M521.6 573.0h-3.6" stroke="#000" stroke-width="1.5"/>
<text class="ax" x="516.8" y="576.4" text-anchor="end">5S</text>
<path d="M521.6 592.8h-3.6" stroke="#000" stroke-width="1.5"/>
<text class="ax" x="516.8" y="596.2" text-anchor="end">10S</text>
<path d="M521.6 612.6h-3.6" stroke="#000" stroke-width="1.5"/>
<text class="ax" x="516.8" y="616.0" text-anchor="end">15S</text>
<path d="M521.6 632.4h-3.6" stroke="#000" stroke-width="1.5"/>
<text class="ax" x="516.8" y="635.8" text-anchor="end">20S</text>
<path d="M521.6 652.2h-3.6" stroke="#000" stroke-width="1.5"/>
<text class="ax" x="516.8" y="655.6" text-anchor="end">25S</text>
<path d="M521.6 672.0h-3.6" stroke="#000" stroke-width="1.5"/>
<text class="ax" x="516.8" y="675.4" text-anchor="end">30S</text>
<path d="M521.6 691.8h-3.6" stroke="#000" stroke-width="1.5"/>
<text class="ax" x="516.8" y="695.2" text-anchor="end">35S</text>
<path d="M521.6 711.6h-3.6" stroke="#000" stroke-width="1.5"/>
<text class="ax" x="516.8" y="715.0" text-anchor="end">40S</text>
<path d="M521.6 731.4h-3.6" stroke="#000" stroke-width="1.5"/>
<text class="ax" x="516.8" y="734.8" text-anchor="end">45S</text>
<path d="M521.6 751.2h-3.6" stroke="#000" stroke-width="1.5"/>
<text class="ax" x="516.8" y="754.6" text-anchor="end">50S</text>
<path d="M521.6 771.0h-3.6" stroke="#000" stroke-width="1.5"/>
<text class="ax" x="516.8" y="774.4" text-anchor="end">55S</text>
<path d="M521.6 790.8h-3.6" stroke="#000" stroke-width="1.5"/>
<text class="ax" x="516.8" y="794.2" text-anchor="end">60S</text>
<path d="M526.5 791.3v3.2" stroke="#000" stroke-width="1.5"/>
<text class="ax axx" x="527.4" y="801.3" text-anchor="middle">100W</text>
<path d="M562.1 791.3v3.2" stroke="#000" stroke-width="1.5"/>
<text class="ax axx" x="563.0" y="801.3" text-anchor="middle">90W</text>
<path d="M597.6 791.3v3.2" stroke="#000" stroke-width="1.5"/>
<text class="ax axx" x="598.5" y="801.3" text-anchor="middle">80W</text>
<path d="M633.2 791.3v3.2" stroke="#000" stroke-width="1.5"/>
<text class="ax axx" x="634.1" y="801.3" text-anchor="middle">70W</text>
<path d="M668.7 791.3v3.2" stroke="#000" stroke-width="1.5"/>
<text class="ax axx" x="669.6" y="801.3" text-anchor="middle">60W</text>
<path d="M704.3 791.3v3.2" stroke="#000" stroke-width="1.5"/>
<text class="ax axx" x="705.2" y="801.3" text-anchor="middle">50W</text>
<path d="M739.9 791.3v3.2" stroke="#000" stroke-width="1.5"/>
<text class="ax axx" x="740.8" y="801.3" text-anchor="middle">40W</text>
<path d="M775.4 791.3v3.2" stroke="#000" stroke-width="1.5"/>
<text class="ax axx" x="776.3" y="801.3" text-anchor="middle">30W</text>
<path d="M811.0 791.3v3.2" stroke="#000" stroke-width="1.5"/>
<text class="ax axx" x="811.9" y="801.3" text-anchor="middle">20W</text>
<text class="hd pt" x="566.3" y="483.8" textLength="70.2" lengthAdjust="spacingAndGlyphs">cluster:</text>
<text class="hd pt" x="682.0" y="483.8" textLength="92.7" lengthAdjust="spacingAndGlyphs">membros:</text>
<text class="hd pt" x="646.1" y="483.8">4</text>
<text class="hd pt" x="787.3" y="483.8">1</text>
<path d="M427.2 150.0L433.1 134.8L439.0 150.0Z" fill="#b22a2a" stroke="#000" stroke-width="1.2" stroke-linejoin="miter"/>
<rect x="427.2" y="150.00" width="11.8" height="15.29" fill="#c00000" stroke="#000" stroke-width="1.2"/>
<rect x="427.2" y="165.29" width="11.8" height="15.29" fill="#cd3c3c" stroke="#000" stroke-width="1.2"/>
<rect x="427.2" y="180.59" width="11.8" height="15.29" fill="#e11400" stroke="#000" stroke-width="1.2"/>
<rect x="427.2" y="195.88" width="11.8" height="15.29" fill="#ff3200" stroke="#000" stroke-width="1.2"/>
<rect x="427.2" y="211.18" width="11.8" height="15.29" fill="#ff6000" stroke="#000" stroke-width="1.2"/>
<rect x="427.2" y="226.47" width="11.8" height="15.29" fill="#ffa000" stroke="#000" stroke-width="1.2"/>
<rect x="427.2" y="241.76" width="11.8" height="15.29" fill="#ffc03c" stroke="#000" stroke-width="1.2"/>
<rect x="427.2" y="257.06" width="11.8" height="15.29" fill="#ffe878" stroke="#000" stroke-width="1.2"/>
<rect x="427.2" y="272.35" width="11.8" height="15.29" fill="#78b9fa" stroke="#000" stroke-width="1.2"/>
<rect x="427.2" y="287.65" width="11.8" height="15.29" fill="#3c96f5" stroke="#000" stroke-width="1.2"/>
<rect x="427.2" y="302.94" width="11.8" height="15.29" fill="#1e6eeb" stroke="#000" stroke-width="1.2"/>
<rect x="427.2" y="318.23" width="11.8" height="15.29" fill="#1464d2" stroke="#000" stroke-width="1.2"/>
<rect x="427.2" y="333.53" width="11.8" height="15.29" fill="#1e50d2" stroke="#000" stroke-width="1.2"/>
<rect x="427.2" y="348.82" width="11.8" height="15.29" fill="#483cc8" stroke="#000" stroke-width="1.2"/>
<rect x="427.2" y="364.12" width="11.8" height="15.29" fill="#7060dc" stroke="#000" stroke-width="1.2"/>
<rect x="427.2" y="379.41" width="11.8" height="15.29" fill="#8070eb" stroke="#000" stroke-width="1.2"/>
<rect x="427.2" y="394.70" width="11.8" height="15.29" fill="#a08cff" stroke="#000" stroke-width="1.2"/>
<rect x="427.2" y="410.00" width="11.8" height="15.29" fill="#c0b4ff" stroke="#000" stroke-width="1.2"/>
<path d="M427.2 425.3L433.1 440.8L439.0 425.3Z" fill="#dcdcff" stroke="#000" stroke-width="1.2"/>
<text class="cb" x="443.2" y="154.6">33</text>
<text class="cb" x="443.2" y="169.9">30</text>
<text class="cb" x="443.2" y="185.2">27</text>
<text class="cb" x="443.2" y="200.5">24</text>
<text class="cb" x="443.2" y="215.8">21</text>
<text class="cb" x="443.2" y="231.1">18</text>
<text class="cb" x="443.2" y="246.4">15</text>
<text class="cb" x="443.2" y="261.7">12</text>
<text class="cb" x="443.2" y="277.0">9</text>
<text class="cb" x="443.2" y="292.2">6</text>
<text class="cb" x="443.2" y="307.5">3</text>
<text class="cb" x="443.2" y="322.8">0</text>
<text class="cb" x="443.2" y="338.1">–3</text>
<text class="cb" x="443.2" y="353.4">–6</text>
<text class="cb" x="443.2" y="368.7">–9</text>
<text class="cb" x="443.2" y="384.0">–12</text>
<text class="cb" x="443.2" y="399.3">–15</text>
<text class="cb" x="443.2" y="414.6">–18</text>
<text class="cb" x="443.2" y="429.9">–21</text>
</svg></body></html>
